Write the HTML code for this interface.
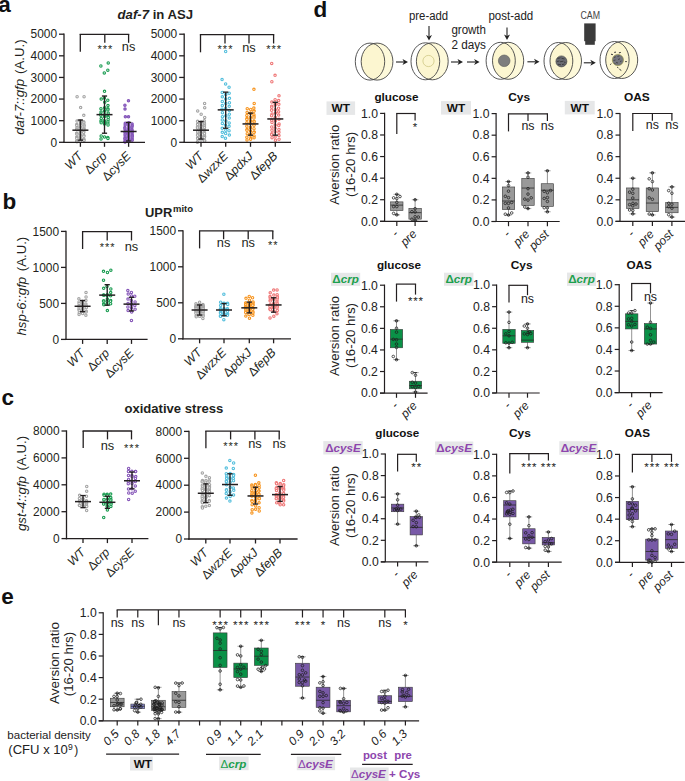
<!DOCTYPE html>
<html><head><meta charset="utf-8"><title>figure</title>
<style>html,body{margin:0;padding:0;background:#fff;width:685px;height:781px;overflow:hidden}
svg{display:block;font-family:"Liberation Sans", sans-serif}</style></head>
<body>
<svg width="685" height="781" viewBox="0 0 685 781" font-family='"Liberation Sans", sans-serif' fill="#231f20">
<rect width="685" height="781" fill="#fff"/>
<text x="-1.8" y="11.6" font-size="22.5" font-weight="bold" fill="#111" >a</text>
<text x="2.6" y="209" font-size="22.5" font-weight="bold" fill="#111" >b</text>
<text x="1.6" y="404.7" font-size="22.5" font-weight="bold" fill="#111" >c</text>
<text x="313.4" y="17.3" font-size="22.5" font-weight="bold" fill="#111" >d</text>
<text x="1.2" y="603.8" font-size="22.5" font-weight="bold" fill="#111" >e</text>
<text x="117.6" y="19.3" font-size="13" font-weight="bold" textLength="75.5" lengthAdjust="spacingAndGlyphs" ><tspan font-style="italic">daf-7</tspan> in ASJ</text>
<text x="24" y="87.1" font-size="13.2" text-anchor="middle" transform="rotate(-90 24 87.1)" ><tspan font-style="italic">daf-7::gfp</tspan><tspan dx="1.5"> (A.U.)</tspan></text>
<line x1="64" y1="142.95" x2="64" y2="33.55" stroke="#231f20" stroke-width="1.3" />
<line x1="59" y1="142.3" x2="64" y2="142.3" stroke="#231f20" stroke-width="1.3" />
<text x="57" y="146.58" font-size="11.9" text-anchor="end" >0</text>
<line x1="59" y1="120.68" x2="64" y2="120.68" stroke="#231f20" stroke-width="1.3" />
<text x="57" y="124.96" font-size="11.9" text-anchor="end" >1000</text>
<line x1="59" y1="99.06" x2="64" y2="99.06" stroke="#231f20" stroke-width="1.3" />
<text x="57" y="103.34" font-size="11.9" text-anchor="end" >2000</text>
<line x1="59" y1="77.44" x2="64" y2="77.44" stroke="#231f20" stroke-width="1.3" />
<text x="57" y="81.72" font-size="11.9" text-anchor="end" >3000</text>
<line x1="59" y1="55.82" x2="64" y2="55.82" stroke="#231f20" stroke-width="1.3" />
<text x="57" y="60.1" font-size="11.9" text-anchor="end" >4000</text>
<line x1="59" y1="34.2" x2="64" y2="34.2" stroke="#231f20" stroke-width="1.3" />
<text x="57" y="38.48" font-size="11.9" text-anchor="end" >5000</text>
<circle cx="84.07" cy="96.75" r="1.2" fill="white" stroke="#a3a3a3" stroke-width="1.1"/>
<circle cx="77.09" cy="96.75" r="1.2" fill="white" stroke="#a3a3a3" stroke-width="1.1"/>
<circle cx="80.63" cy="107.56" r="1.2" fill="white" stroke="#a3a3a3" stroke-width="1.1"/>
<circle cx="83.78" cy="115.28" r="1.2" fill="white" stroke="#a3a3a3" stroke-width="1.1"/>
<circle cx="80.36" cy="120.68" r="1.2" fill="white" stroke="#a3a3a3" stroke-width="1.1"/>
<circle cx="77.04" cy="121.11" r="1.2" fill="white" stroke="#a3a3a3" stroke-width="1.1"/>
<circle cx="83.67" cy="121.76" r="1.2" fill="white" stroke="#a3a3a3" stroke-width="1.1"/>
<circle cx="83.9" cy="122.84" r="1.2" fill="white" stroke="#a3a3a3" stroke-width="1.1"/>
<circle cx="80.5" cy="123.27" r="1.2" fill="white" stroke="#a3a3a3" stroke-width="1.1"/>
<circle cx="80.5" cy="123.92" r="1.2" fill="white" stroke="#a3a3a3" stroke-width="1.1"/>
<circle cx="76.68" cy="124.57" r="1.2" fill="white" stroke="#a3a3a3" stroke-width="1.1"/>
<circle cx="83.99" cy="125" r="1.2" fill="white" stroke="#a3a3a3" stroke-width="1.1"/>
<circle cx="76.81" cy="125.44" r="1.2" fill="white" stroke="#a3a3a3" stroke-width="1.1"/>
<circle cx="84.08" cy="126.09" r="1.2" fill="white" stroke="#a3a3a3" stroke-width="1.1"/>
<circle cx="80.22" cy="126.73" r="1.2" fill="white" stroke="#a3a3a3" stroke-width="1.1"/>
<circle cx="80.59" cy="127.17" r="1.2" fill="white" stroke="#a3a3a3" stroke-width="1.1"/>
<circle cx="77.03" cy="127.6" r="1.2" fill="white" stroke="#a3a3a3" stroke-width="1.1"/>
<circle cx="84.03" cy="128.25" r="1.2" fill="white" stroke="#a3a3a3" stroke-width="1.1"/>
<circle cx="76.9" cy="128.9" r="1.2" fill="white" stroke="#a3a3a3" stroke-width="1.1"/>
<circle cx="83.8" cy="129.33" r="1.2" fill="white" stroke="#a3a3a3" stroke-width="1.1"/>
<circle cx="76.9" cy="129.76" r="1.2" fill="white" stroke="#a3a3a3" stroke-width="1.1"/>
<circle cx="80.59" cy="130.41" r="1.2" fill="white" stroke="#a3a3a3" stroke-width="1.1"/>
<circle cx="80.56" cy="131.06" r="1.2" fill="white" stroke="#a3a3a3" stroke-width="1.1"/>
<circle cx="83.84" cy="131.49" r="1.2" fill="white" stroke="#a3a3a3" stroke-width="1.1"/>
<circle cx="80.31" cy="131.92" r="1.2" fill="white" stroke="#a3a3a3" stroke-width="1.1"/>
<circle cx="83.65" cy="132.57" r="1.2" fill="white" stroke="#a3a3a3" stroke-width="1.1"/>
<circle cx="76.65" cy="133.22" r="1.2" fill="white" stroke="#a3a3a3" stroke-width="1.1"/>
<circle cx="76.81" cy="133.65" r="1.2" fill="white" stroke="#a3a3a3" stroke-width="1.1"/>
<circle cx="76.97" cy="134.08" r="1.2" fill="white" stroke="#a3a3a3" stroke-width="1.1"/>
<circle cx="80.53" cy="134.73" r="1.2" fill="white" stroke="#a3a3a3" stroke-width="1.1"/>
<circle cx="83.84" cy="135.38" r="1.2" fill="white" stroke="#a3a3a3" stroke-width="1.1"/>
<circle cx="80.24" cy="135.81" r="1.2" fill="white" stroke="#a3a3a3" stroke-width="1.1"/>
<circle cx="83.91" cy="136.25" r="1.2" fill="white" stroke="#a3a3a3" stroke-width="1.1"/>
<circle cx="76.77" cy="136.9" r="1.2" fill="white" stroke="#a3a3a3" stroke-width="1.1"/>
<circle cx="76.79" cy="137.54" r="1.2" fill="white" stroke="#a3a3a3" stroke-width="1.1"/>
<circle cx="80.37" cy="137.98" r="1.2" fill="white" stroke="#a3a3a3" stroke-width="1.1"/>
<circle cx="76.81" cy="138.41" r="1.2" fill="white" stroke="#a3a3a3" stroke-width="1.1"/>
<circle cx="83.78" cy="139.06" r="1.2" fill="white" stroke="#a3a3a3" stroke-width="1.1"/>
<circle cx="83.86" cy="139.71" r="1.2" fill="white" stroke="#a3a3a3" stroke-width="1.1"/>
<circle cx="80.62" cy="140.14" r="1.2" fill="white" stroke="#a3a3a3" stroke-width="1.1"/>
<circle cx="84.02" cy="140.57" r="1.2" fill="white" stroke="#a3a3a3" stroke-width="1.1"/>
<circle cx="76.7" cy="141" r="1.2" fill="white" stroke="#a3a3a3" stroke-width="1.1"/>
<circle cx="80.21" cy="141.44" r="1.2" fill="white" stroke="#a3a3a3" stroke-width="1.1"/>
<circle cx="76.97" cy="141.87" r="1.2" fill="white" stroke="#a3a3a3" stroke-width="1.1"/>
<line x1="80.4" y1="120.03" x2="80.4" y2="140.14" stroke="#231f20" stroke-width="1.35" />
<line x1="77.8" y1="120.03" x2="83" y2="120.03" stroke="#231f20" stroke-width="1.35" />
<line x1="77.8" y1="140.14" x2="83" y2="140.14" stroke="#231f20" stroke-width="1.35" />
<line x1="72.4" y1="130.19" x2="88.4" y2="130.19" stroke="#231f20" stroke-width="1.5" />
<circle cx="108.23" cy="62.93" r="1.2" fill="white" stroke="#179b4f" stroke-width="1.1"/>
<circle cx="100.88" cy="66.02" r="1.2" fill="white" stroke="#179b4f" stroke-width="1.1"/>
<circle cx="107.82" cy="70.13" r="1.2" fill="white" stroke="#179b4f" stroke-width="1.1"/>
<circle cx="104.28" cy="72.94" r="1.2" fill="white" stroke="#179b4f" stroke-width="1.1"/>
<circle cx="104.52" cy="91.34" r="1.2" fill="white" stroke="#179b4f" stroke-width="1.1"/>
<circle cx="104.37" cy="97.98" r="1.2" fill="white" stroke="#179b4f" stroke-width="1.1"/>
<circle cx="101.21" cy="99.06" r="1.2" fill="white" stroke="#179b4f" stroke-width="1.1"/>
<circle cx="107.8" cy="100.14" r="1.2" fill="white" stroke="#179b4f" stroke-width="1.1"/>
<circle cx="104.75" cy="102.15" r="1.2" fill="white" stroke="#179b4f" stroke-width="1.1"/>
<circle cx="107.97" cy="105.55" r="1.2" fill="white" stroke="#179b4f" stroke-width="1.1"/>
<circle cx="104.66" cy="107.71" r="1.2" fill="white" stroke="#179b4f" stroke-width="1.1"/>
<circle cx="100.96" cy="108.72" r="1.2" fill="white" stroke="#179b4f" stroke-width="1.1"/>
<circle cx="107.88" cy="108.79" r="1.2" fill="white" stroke="#179b4f" stroke-width="1.1"/>
<circle cx="107.94" cy="109.87" r="1.2" fill="white" stroke="#179b4f" stroke-width="1.1"/>
<circle cx="104.61" cy="110.95" r="1.2" fill="white" stroke="#179b4f" stroke-width="1.1"/>
<circle cx="104.56" cy="111.12" r="1.2" fill="white" stroke="#179b4f" stroke-width="1.1"/>
<circle cx="101.03" cy="112.03" r="1.2" fill="white" stroke="#179b4f" stroke-width="1.1"/>
<circle cx="108.2" cy="113.11" r="1.2" fill="white" stroke="#179b4f" stroke-width="1.1"/>
<circle cx="100.75" cy="114.19" r="1.2" fill="white" stroke="#179b4f" stroke-width="1.1"/>
<circle cx="104.67" cy="114.63" r="1.2" fill="white" stroke="#179b4f" stroke-width="1.1"/>
<circle cx="100.86" cy="115.28" r="1.2" fill="white" stroke="#179b4f" stroke-width="1.1"/>
<circle cx="107.9" cy="116.36" r="1.2" fill="white" stroke="#179b4f" stroke-width="1.1"/>
<circle cx="104.53" cy="116.57" r="1.2" fill="white" stroke="#179b4f" stroke-width="1.1"/>
<circle cx="108.25" cy="117.44" r="1.2" fill="white" stroke="#179b4f" stroke-width="1.1"/>
<circle cx="101.23" cy="118.52" r="1.2" fill="white" stroke="#179b4f" stroke-width="1.1"/>
<circle cx="108.09" cy="119.69" r="1.2" fill="white" stroke="#179b4f" stroke-width="1.1"/>
<circle cx="104.28" cy="120.68" r="1.2" fill="white" stroke="#179b4f" stroke-width="1.1"/>
<circle cx="100.96" cy="121.11" r="1.2" fill="white" stroke="#179b4f" stroke-width="1.1"/>
<circle cx="107.91" cy="121.76" r="1.2" fill="white" stroke="#179b4f" stroke-width="1.1"/>
<circle cx="104.42" cy="122.19" r="1.2" fill="white" stroke="#179b4f" stroke-width="1.1"/>
<circle cx="101.17" cy="122.84" r="1.2" fill="white" stroke="#179b4f" stroke-width="1.1"/>
<circle cx="107.83" cy="123.27" r="1.2" fill="white" stroke="#179b4f" stroke-width="1.1"/>
<circle cx="104.47" cy="123.92" r="1.2" fill="white" stroke="#179b4f" stroke-width="1.1"/>
<circle cx="108.04" cy="125" r="1.2" fill="white" stroke="#179b4f" stroke-width="1.1"/>
<circle cx="101.17" cy="136.01" r="1.2" fill="white" stroke="#179b4f" stroke-width="1.1"/>
<circle cx="104.55" cy="136.9" r="1.2" fill="white" stroke="#179b4f" stroke-width="1.1"/>
<circle cx="107.77" cy="137.5" r="1.2" fill="white" stroke="#179b4f" stroke-width="1.1"/>
<circle cx="107.94" cy="138.41" r="1.2" fill="white" stroke="#179b4f" stroke-width="1.1"/>
<circle cx="101.03" cy="138.99" r="1.2" fill="white" stroke="#179b4f" stroke-width="1.1"/>
<line x1="104.5" y1="96.03" x2="104.5" y2="133.22" stroke="#231f20" stroke-width="1.35" />
<line x1="101.9" y1="96.03" x2="107.1" y2="96.03" stroke="#231f20" stroke-width="1.35" />
<line x1="101.9" y1="133.22" x2="107.1" y2="133.22" stroke="#231f20" stroke-width="1.35" />
<line x1="96.5" y1="114.63" x2="112.5" y2="114.63" stroke="#231f20" stroke-width="1.5" />
<circle cx="128.46" cy="100.66" r="1.2" fill="#9b7fd0" stroke="#8555b8" stroke-width="1.1"/>
<circle cx="124.92" cy="105.26" r="1.2" fill="#9b7fd0" stroke="#8555b8" stroke-width="1.1"/>
<circle cx="125.01" cy="109.07" r="1.2" fill="#9b7fd0" stroke="#8555b8" stroke-width="1.1"/>
<circle cx="128.5" cy="116.79" r="1.2" fill="#9b7fd0" stroke="#8555b8" stroke-width="1.1"/>
<circle cx="125.34" cy="116.79" r="1.2" fill="#9b7fd0" stroke="#8555b8" stroke-width="1.1"/>
<circle cx="128.68" cy="122.84" r="1.2" fill="#9b7fd0" stroke="#8555b8" stroke-width="1.1"/>
<circle cx="125.28" cy="123.27" r="1.2" fill="#9b7fd0" stroke="#8555b8" stroke-width="1.1"/>
<circle cx="132.09" cy="123.92" r="1.2" fill="#9b7fd0" stroke="#8555b8" stroke-width="1.1"/>
<circle cx="128.4" cy="124.57" r="1.2" fill="#9b7fd0" stroke="#8555b8" stroke-width="1.1"/>
<circle cx="125.16" cy="125" r="1.2" fill="#9b7fd0" stroke="#8555b8" stroke-width="1.1"/>
<circle cx="132.22" cy="125.87" r="1.2" fill="#9b7fd0" stroke="#8555b8" stroke-width="1.1"/>
<circle cx="128.84" cy="126.3" r="1.2" fill="#9b7fd0" stroke="#8555b8" stroke-width="1.1"/>
<circle cx="131.85" cy="127.17" r="1.2" fill="#9b7fd0" stroke="#8555b8" stroke-width="1.1"/>
<circle cx="124.87" cy="127.6" r="1.2" fill="#9b7fd0" stroke="#8555b8" stroke-width="1.1"/>
<circle cx="128.74" cy="128.25" r="1.2" fill="#9b7fd0" stroke="#8555b8" stroke-width="1.1"/>
<circle cx="124.97" cy="128.9" r="1.2" fill="#9b7fd0" stroke="#8555b8" stroke-width="1.1"/>
<circle cx="131.86" cy="129.33" r="1.2" fill="#9b7fd0" stroke="#8555b8" stroke-width="1.1"/>
<circle cx="128.39" cy="129.76" r="1.2" fill="#9b7fd0" stroke="#8555b8" stroke-width="1.1"/>
<circle cx="128.75" cy="130.19" r="1.2" fill="#9b7fd0" stroke="#8555b8" stroke-width="1.1"/>
<circle cx="132.12" cy="130.63" r="1.2" fill="#9b7fd0" stroke="#8555b8" stroke-width="1.1"/>
<circle cx="125.31" cy="131.06" r="1.2" fill="#9b7fd0" stroke="#8555b8" stroke-width="1.1"/>
<circle cx="128.74" cy="131.49" r="1.2" fill="#9b7fd0" stroke="#8555b8" stroke-width="1.1"/>
<circle cx="132.09" cy="131.92" r="1.2" fill="#9b7fd0" stroke="#8555b8" stroke-width="1.1"/>
<circle cx="125.02" cy="132.35" r="1.2" fill="#9b7fd0" stroke="#8555b8" stroke-width="1.1"/>
<circle cx="132.02" cy="132.79" r="1.2" fill="#9b7fd0" stroke="#8555b8" stroke-width="1.1"/>
<circle cx="128.43" cy="133.22" r="1.2" fill="#9b7fd0" stroke="#8555b8" stroke-width="1.1"/>
<circle cx="125.31" cy="133.65" r="1.2" fill="#9b7fd0" stroke="#8555b8" stroke-width="1.1"/>
<circle cx="128.55" cy="134.08" r="1.2" fill="#9b7fd0" stroke="#8555b8" stroke-width="1.1"/>
<circle cx="132.09" cy="134.52" r="1.2" fill="#9b7fd0" stroke="#8555b8" stroke-width="1.1"/>
<circle cx="125.05" cy="134.95" r="1.2" fill="#9b7fd0" stroke="#8555b8" stroke-width="1.1"/>
<circle cx="128.62" cy="135.38" r="1.2" fill="#9b7fd0" stroke="#8555b8" stroke-width="1.1"/>
<circle cx="132.28" cy="135.81" r="1.2" fill="#9b7fd0" stroke="#8555b8" stroke-width="1.1"/>
<circle cx="132.17" cy="136.25" r="1.2" fill="#9b7fd0" stroke="#8555b8" stroke-width="1.1"/>
<circle cx="128.6" cy="136.68" r="1.2" fill="#9b7fd0" stroke="#8555b8" stroke-width="1.1"/>
<circle cx="125.19" cy="137.11" r="1.2" fill="#9b7fd0" stroke="#8555b8" stroke-width="1.1"/>
<circle cx="128.73" cy="137.54" r="1.2" fill="#9b7fd0" stroke="#8555b8" stroke-width="1.1"/>
<circle cx="132.15" cy="137.98" r="1.2" fill="#9b7fd0" stroke="#8555b8" stroke-width="1.1"/>
<circle cx="125.12" cy="138.41" r="1.2" fill="#9b7fd0" stroke="#8555b8" stroke-width="1.1"/>
<circle cx="124.95" cy="138.84" r="1.2" fill="#9b7fd0" stroke="#8555b8" stroke-width="1.1"/>
<circle cx="131.93" cy="139.27" r="1.2" fill="#9b7fd0" stroke="#8555b8" stroke-width="1.1"/>
<circle cx="128.68" cy="139.71" r="1.2" fill="#9b7fd0" stroke="#8555b8" stroke-width="1.1"/>
<circle cx="132.21" cy="140.14" r="1.2" fill="#9b7fd0" stroke="#8555b8" stroke-width="1.1"/>
<circle cx="125.27" cy="140.57" r="1.2" fill="#9b7fd0" stroke="#8555b8" stroke-width="1.1"/>
<circle cx="128.48" cy="141" r="1.2" fill="#9b7fd0" stroke="#8555b8" stroke-width="1.1"/>
<circle cx="128.56" cy="141.44" r="1.2" fill="#9b7fd0" stroke="#8555b8" stroke-width="1.1"/>
<circle cx="124.85" cy="141.87" r="1.2" fill="#9b7fd0" stroke="#8555b8" stroke-width="1.1"/>
<circle cx="125.14" cy="142.08" r="1.2" fill="#9b7fd0" stroke="#8555b8" stroke-width="1.1"/>
<line x1="128.6" y1="122.41" x2="128.6" y2="141" stroke="#231f20" stroke-width="1.35" />
<line x1="126" y1="122.41" x2="131.2" y2="122.41" stroke="#231f20" stroke-width="1.35" />
<line x1="126" y1="141" x2="131.2" y2="141" stroke="#231f20" stroke-width="1.35" />
<line x1="120.6" y1="131.49" x2="136.6" y2="131.49" stroke="#231f20" stroke-width="1.5" />
<line x1="63.35" y1="142.3" x2="145" y2="142.3" stroke="#231f20" stroke-width="1.3" />
<line x1="80.4" y1="142.3" x2="80.4" y2="146.8" stroke="#231f20" stroke-width="1.3" />
<line x1="104.5" y1="142.3" x2="104.5" y2="146.8" stroke="#231f20" stroke-width="1.3" />
<line x1="128.6" y1="142.3" x2="128.6" y2="146.8" stroke="#231f20" stroke-width="1.3" />
<line x1="79.65" y1="34.3" x2="129.25" y2="34.3" stroke="#231f20" stroke-width="1.3" />
<line x1="80.3" y1="34.3" x2="80.3" y2="51.7" stroke="#231f20" stroke-width="1.3" />
<line x1="104.8" y1="34.3" x2="104.8" y2="42.8" stroke="#231f20" stroke-width="1.3" />
<line x1="128.6" y1="34.3" x2="128.6" y2="42.8" stroke="#231f20" stroke-width="1.3" />
<text x="105.3" y="53.49" font-size="11" text-anchor="middle" letter-spacing="1.0">***</text>
<text x="128.6" y="51.3" font-size="12.8" text-anchor="middle" >ns</text>
<text x="83.4" y="156.8" font-size="12.3" font-style="italic" text-anchor="end" transform="rotate(-45 83.4 156.8)" >WT</text>
<text x="107.5" y="156.8" font-size="12.3" font-style="italic" text-anchor="end" transform="rotate(-45 107.5 156.8)" ><tspan font-style="normal">Δ</tspan>crp</text>
<text x="131.6" y="156.8" font-size="12.3" font-style="italic" text-anchor="end" transform="rotate(-45 131.6 156.8)" ><tspan font-style="normal">Δ</tspan>cysE</text>
<line x1="184.2" y1="142.95" x2="184.2" y2="33.55" stroke="#231f20" stroke-width="1.3" />
<line x1="179.2" y1="142.3" x2="184.2" y2="142.3" stroke="#231f20" stroke-width="1.3" />
<text x="177.2" y="146.58" font-size="11.9" text-anchor="end" >0</text>
<line x1="179.2" y1="120.68" x2="184.2" y2="120.68" stroke="#231f20" stroke-width="1.3" />
<text x="177.2" y="124.96" font-size="11.9" text-anchor="end" >1000</text>
<line x1="179.2" y1="99.06" x2="184.2" y2="99.06" stroke="#231f20" stroke-width="1.3" />
<text x="177.2" y="103.34" font-size="11.9" text-anchor="end" >2000</text>
<line x1="179.2" y1="77.44" x2="184.2" y2="77.44" stroke="#231f20" stroke-width="1.3" />
<text x="177.2" y="81.72" font-size="11.9" text-anchor="end" >3000</text>
<line x1="179.2" y1="55.82" x2="184.2" y2="55.82" stroke="#231f20" stroke-width="1.3" />
<text x="177.2" y="60.1" font-size="11.9" text-anchor="end" >4000</text>
<line x1="179.2" y1="34.2" x2="184.2" y2="34.2" stroke="#231f20" stroke-width="1.3" />
<text x="177.2" y="38.48" font-size="11.9" text-anchor="end" >5000</text>
<circle cx="204.62" cy="103.38" r="1.2" fill="white" stroke="#a3a3a3" stroke-width="1.1"/>
<circle cx="204.72" cy="107.71" r="1.2" fill="white" stroke="#a3a3a3" stroke-width="1.1"/>
<circle cx="197.71" cy="110.95" r="1.2" fill="white" stroke="#a3a3a3" stroke-width="1.1"/>
<circle cx="201.16" cy="114.19" r="1.2" fill="white" stroke="#a3a3a3" stroke-width="1.1"/>
<circle cx="204.7" cy="117.44" r="1.2" fill="white" stroke="#a3a3a3" stroke-width="1.1"/>
<circle cx="204.34" cy="120.8" r="1.2" fill="white" stroke="#a3a3a3" stroke-width="1.1"/>
<circle cx="197.58" cy="121.33" r="1.2" fill="white" stroke="#a3a3a3" stroke-width="1.1"/>
<circle cx="201.19" cy="122" r="1.2" fill="white" stroke="#a3a3a3" stroke-width="1.1"/>
<circle cx="204.29" cy="122.39" r="1.2" fill="white" stroke="#a3a3a3" stroke-width="1.1"/>
<circle cx="200.88" cy="123.2" r="1.2" fill="white" stroke="#a3a3a3" stroke-width="1.1"/>
<circle cx="197.73" cy="123.63" r="1.2" fill="white" stroke="#a3a3a3" stroke-width="1.1"/>
<circle cx="204.49" cy="124.04" r="1.2" fill="white" stroke="#a3a3a3" stroke-width="1.1"/>
<circle cx="197.58" cy="124.55" r="1.2" fill="white" stroke="#a3a3a3" stroke-width="1.1"/>
<circle cx="201.19" cy="125.45" r="1.2" fill="white" stroke="#a3a3a3" stroke-width="1.1"/>
<circle cx="204.41" cy="125.83" r="1.2" fill="white" stroke="#a3a3a3" stroke-width="1.1"/>
<circle cx="200.97" cy="126.49" r="1.2" fill="white" stroke="#a3a3a3" stroke-width="1.1"/>
<circle cx="197.46" cy="126.89" r="1.2" fill="white" stroke="#a3a3a3" stroke-width="1.1"/>
<circle cx="204.47" cy="127.36" r="1.2" fill="white" stroke="#a3a3a3" stroke-width="1.1"/>
<circle cx="197.53" cy="127.93" r="1.2" fill="white" stroke="#a3a3a3" stroke-width="1.1"/>
<circle cx="201.08" cy="128.7" r="1.2" fill="white" stroke="#a3a3a3" stroke-width="1.1"/>
<circle cx="200.76" cy="128.89" r="1.2" fill="white" stroke="#a3a3a3" stroke-width="1.1"/>
<circle cx="204.47" cy="129.44" r="1.2" fill="white" stroke="#a3a3a3" stroke-width="1.1"/>
<circle cx="200.98" cy="130.04" r="1.2" fill="white" stroke="#a3a3a3" stroke-width="1.1"/>
<circle cx="204.27" cy="130.62" r="1.2" fill="white" stroke="#a3a3a3" stroke-width="1.1"/>
<circle cx="197.72" cy="131.3" r="1.2" fill="white" stroke="#a3a3a3" stroke-width="1.1"/>
<circle cx="197.7" cy="131.89" r="1.2" fill="white" stroke="#a3a3a3" stroke-width="1.1"/>
<circle cx="200.89" cy="132.17" r="1.2" fill="white" stroke="#a3a3a3" stroke-width="1.1"/>
<circle cx="204.45" cy="132.71" r="1.2" fill="white" stroke="#a3a3a3" stroke-width="1.1"/>
<circle cx="200.92" cy="133.24" r="1.2" fill="white" stroke="#a3a3a3" stroke-width="1.1"/>
<circle cx="204.49" cy="133.74" r="1.2" fill="white" stroke="#a3a3a3" stroke-width="1.1"/>
<circle cx="197.62" cy="134.59" r="1.2" fill="white" stroke="#a3a3a3" stroke-width="1.1"/>
<circle cx="197.56" cy="135.17" r="1.2" fill="white" stroke="#a3a3a3" stroke-width="1.1"/>
<circle cx="200.76" cy="135.69" r="1.2" fill="white" stroke="#a3a3a3" stroke-width="1.1"/>
<circle cx="204.62" cy="136.18" r="1.2" fill="white" stroke="#a3a3a3" stroke-width="1.1"/>
<circle cx="201.06" cy="136.61" r="1.2" fill="white" stroke="#a3a3a3" stroke-width="1.1"/>
<circle cx="204.44" cy="137.29" r="1.2" fill="white" stroke="#a3a3a3" stroke-width="1.1"/>
<circle cx="204.26" cy="137.59" r="1.2" fill="white" stroke="#a3a3a3" stroke-width="1.1"/>
<circle cx="197.61" cy="138.12" r="1.2" fill="white" stroke="#a3a3a3" stroke-width="1.1"/>
<circle cx="197.69" cy="138.61" r="1.2" fill="white" stroke="#a3a3a3" stroke-width="1.1"/>
<circle cx="201.05" cy="139.37" r="1.2" fill="white" stroke="#a3a3a3" stroke-width="1.1"/>
<circle cx="201" cy="140.06" r="1.2" fill="white" stroke="#a3a3a3" stroke-width="1.1"/>
<circle cx="204.58" cy="140.56" r="1.2" fill="white" stroke="#a3a3a3" stroke-width="1.1"/>
<circle cx="204.66" cy="140.99" r="1.2" fill="white" stroke="#a3a3a3" stroke-width="1.1"/>
<circle cx="197.54" cy="141.66" r="1.2" fill="white" stroke="#a3a3a3" stroke-width="1.1"/>
<circle cx="197.44" cy="142.14" r="1.2" fill="white" stroke="#a3a3a3" stroke-width="1.1"/>
<line x1="201" y1="121.54" x2="201" y2="139.06" stroke="#231f20" stroke-width="1.35" />
<line x1="198.4" y1="121.54" x2="203.6" y2="121.54" stroke="#231f20" stroke-width="1.35" />
<line x1="198.4" y1="139.06" x2="203.6" y2="139.06" stroke="#231f20" stroke-width="1.35" />
<line x1="193" y1="130.19" x2="209" y2="130.19" stroke="#231f20" stroke-width="1.5" />
<circle cx="225.67" cy="51.5" r="1.2" fill="white" stroke="#52bedc" stroke-width="1.1"/>
<circle cx="222.06" cy="79.6" r="1.2" fill="white" stroke="#52bedc" stroke-width="1.1"/>
<circle cx="225.63" cy="83.93" r="1.2" fill="white" stroke="#52bedc" stroke-width="1.1"/>
<circle cx="229.07" cy="87.17" r="1.2" fill="white" stroke="#52bedc" stroke-width="1.1"/>
<circle cx="222.24" cy="92.46" r="1.2" fill="white" stroke="#52bedc" stroke-width="1.1"/>
<circle cx="229.16" cy="93.23" r="1.2" fill="white" stroke="#52bedc" stroke-width="1.1"/>
<circle cx="225.75" cy="94.54" r="1.2" fill="white" stroke="#52bedc" stroke-width="1.1"/>
<circle cx="222.32" cy="96.87" r="1.2" fill="white" stroke="#52bedc" stroke-width="1.1"/>
<circle cx="229.44" cy="98.31" r="1.2" fill="white" stroke="#52bedc" stroke-width="1.1"/>
<circle cx="225.65" cy="98.99" r="1.2" fill="white" stroke="#52bedc" stroke-width="1.1"/>
<circle cx="222.3" cy="101.44" r="1.2" fill="white" stroke="#52bedc" stroke-width="1.1"/>
<circle cx="229.42" cy="102.73" r="1.2" fill="white" stroke="#52bedc" stroke-width="1.1"/>
<circle cx="225.76" cy="103.61" r="1.2" fill="white" stroke="#52bedc" stroke-width="1.1"/>
<circle cx="222.3" cy="105.6" r="1.2" fill="white" stroke="#52bedc" stroke-width="1.1"/>
<circle cx="229.22" cy="106.28" r="1.2" fill="white" stroke="#52bedc" stroke-width="1.1"/>
<circle cx="225.61" cy="108.46" r="1.2" fill="white" stroke="#52bedc" stroke-width="1.1"/>
<circle cx="221.99" cy="109.2" r="1.2" fill="white" stroke="#52bedc" stroke-width="1.1"/>
<circle cx="229.38" cy="110.47" r="1.2" fill="white" stroke="#52bedc" stroke-width="1.1"/>
<circle cx="222.44" cy="112.65" r="1.2" fill="white" stroke="#52bedc" stroke-width="1.1"/>
<circle cx="229.32" cy="114.16" r="1.2" fill="white" stroke="#52bedc" stroke-width="1.1"/>
<circle cx="225.87" cy="115.84" r="1.2" fill="white" stroke="#52bedc" stroke-width="1.1"/>
<circle cx="222.43" cy="116.63" r="1.2" fill="white" stroke="#52bedc" stroke-width="1.1"/>
<circle cx="229.23" cy="118.11" r="1.2" fill="white" stroke="#52bedc" stroke-width="1.1"/>
<circle cx="222.34" cy="119.89" r="1.2" fill="white" stroke="#52bedc" stroke-width="1.1"/>
<circle cx="225.91" cy="121.08" r="1.2" fill="white" stroke="#52bedc" stroke-width="1.1"/>
<circle cx="229.19" cy="122.93" r="1.2" fill="white" stroke="#52bedc" stroke-width="1.1"/>
<circle cx="222.36" cy="123.46" r="1.2" fill="white" stroke="#52bedc" stroke-width="1.1"/>
<circle cx="225.46" cy="125.19" r="1.2" fill="white" stroke="#52bedc" stroke-width="1.1"/>
<circle cx="229.08" cy="126.29" r="1.2" fill="white" stroke="#52bedc" stroke-width="1.1"/>
<circle cx="222.22" cy="128.29" r="1.2" fill="white" stroke="#52bedc" stroke-width="1.1"/>
<circle cx="225.78" cy="130.23" r="1.2" fill="white" stroke="#52bedc" stroke-width="1.1"/>
<circle cx="229.03" cy="130.64" r="1.2" fill="white" stroke="#52bedc" stroke-width="1.1"/>
<circle cx="222.31" cy="132.29" r="1.2" fill="white" stroke="#52bedc" stroke-width="1.1"/>
<circle cx="225.63" cy="133.5" r="1.2" fill="white" stroke="#52bedc" stroke-width="1.1"/>
<circle cx="229.32" cy="135.11" r="1.2" fill="white" stroke="#52bedc" stroke-width="1.1"/>
<circle cx="222.21" cy="136.62" r="1.2" fill="white" stroke="#52bedc" stroke-width="1.1"/>
<circle cx="225.45" cy="138.19" r="1.2" fill="white" stroke="#52bedc" stroke-width="1.1"/>
<line x1="225.7" y1="92.14" x2="225.7" y2="128.25" stroke="#231f20" stroke-width="1.35" />
<line x1="223.1" y1="92.14" x2="228.3" y2="92.14" stroke="#231f20" stroke-width="1.35" />
<line x1="223.1" y1="128.25" x2="228.3" y2="128.25" stroke="#231f20" stroke-width="1.35" />
<line x1="217.7" y1="109.87" x2="233.7" y2="109.87" stroke="#231f20" stroke-width="1.5" />
<circle cx="253.93" cy="89.33" r="1.2" fill="white" stroke="#f7941e" stroke-width="1.1"/>
<circle cx="254.19" cy="103.38" r="1.2" fill="white" stroke="#f7941e" stroke-width="1.1"/>
<circle cx="253.84" cy="108.11" r="1.2" fill="white" stroke="#f7941e" stroke-width="1.1"/>
<circle cx="247.24" cy="108.67" r="1.2" fill="white" stroke="#f7941e" stroke-width="1.1"/>
<circle cx="250.69" cy="109.48" r="1.2" fill="white" stroke="#f7941e" stroke-width="1.1"/>
<circle cx="253.96" cy="110.68" r="1.2" fill="white" stroke="#f7941e" stroke-width="1.1"/>
<circle cx="253.93" cy="111.3" r="1.2" fill="white" stroke="#f7941e" stroke-width="1.1"/>
<circle cx="247.1" cy="112.42" r="1.2" fill="white" stroke="#f7941e" stroke-width="1.1"/>
<circle cx="250.58" cy="112.99" r="1.2" fill="white" stroke="#f7941e" stroke-width="1.1"/>
<circle cx="250.51" cy="113.57" r="1.2" fill="white" stroke="#f7941e" stroke-width="1.1"/>
<circle cx="253.92" cy="114.83" r="1.2" fill="white" stroke="#f7941e" stroke-width="1.1"/>
<circle cx="246.85" cy="115.42" r="1.2" fill="white" stroke="#f7941e" stroke-width="1.1"/>
<circle cx="253.99" cy="116.53" r="1.2" fill="white" stroke="#f7941e" stroke-width="1.1"/>
<circle cx="250.4" cy="117.42" r="1.2" fill="white" stroke="#f7941e" stroke-width="1.1"/>
<circle cx="253.94" cy="118.01" r="1.2" fill="white" stroke="#f7941e" stroke-width="1.1"/>
<circle cx="246.94" cy="118.6" r="1.2" fill="white" stroke="#f7941e" stroke-width="1.1"/>
<circle cx="246.86" cy="119.42" r="1.2" fill="white" stroke="#f7941e" stroke-width="1.1"/>
<circle cx="250.43" cy="120.71" r="1.2" fill="white" stroke="#f7941e" stroke-width="1.1"/>
<circle cx="253.92" cy="121.37" r="1.2" fill="white" stroke="#f7941e" stroke-width="1.1"/>
<circle cx="254.18" cy="121.86" r="1.2" fill="white" stroke="#f7941e" stroke-width="1.1"/>
<circle cx="246.85" cy="122.78" r="1.2" fill="white" stroke="#f7941e" stroke-width="1.1"/>
<circle cx="250.27" cy="123.53" r="1.2" fill="white" stroke="#f7941e" stroke-width="1.1"/>
<circle cx="253.86" cy="124.7" r="1.2" fill="white" stroke="#f7941e" stroke-width="1.1"/>
<circle cx="254.02" cy="125.17" r="1.2" fill="white" stroke="#f7941e" stroke-width="1.1"/>
<circle cx="246.81" cy="126.16" r="1.2" fill="white" stroke="#f7941e" stroke-width="1.1"/>
<circle cx="250.41" cy="127.22" r="1.2" fill="white" stroke="#f7941e" stroke-width="1.1"/>
<circle cx="250.45" cy="127.72" r="1.2" fill="white" stroke="#f7941e" stroke-width="1.1"/>
<circle cx="254" cy="128.63" r="1.2" fill="white" stroke="#f7941e" stroke-width="1.1"/>
<circle cx="247.02" cy="129.54" r="1.2" fill="white" stroke="#f7941e" stroke-width="1.1"/>
<circle cx="246.95" cy="130.15" r="1.2" fill="white" stroke="#f7941e" stroke-width="1.1"/>
<circle cx="250.5" cy="130.92" r="1.2" fill="white" stroke="#f7941e" stroke-width="1.1"/>
<circle cx="254.24" cy="132.09" r="1.2" fill="white" stroke="#f7941e" stroke-width="1.1"/>
<circle cx="253.88" cy="132.59" r="1.2" fill="white" stroke="#f7941e" stroke-width="1.1"/>
<circle cx="247.23" cy="133.67" r="1.2" fill="white" stroke="#f7941e" stroke-width="1.1"/>
<circle cx="250.62" cy="134.24" r="1.2" fill="white" stroke="#f7941e" stroke-width="1.1"/>
<circle cx="250.49" cy="135.25" r="1.2" fill="white" stroke="#f7941e" stroke-width="1.1"/>
<circle cx="254.06" cy="135.94" r="1.2" fill="white" stroke="#f7941e" stroke-width="1.1"/>
<circle cx="246.86" cy="137.2" r="1.2" fill="white" stroke="#f7941e" stroke-width="1.1"/>
<circle cx="254.04" cy="137.85" r="1.2" fill="white" stroke="#f7941e" stroke-width="1.1"/>
<circle cx="250.71" cy="138.53" r="1.2" fill="white" stroke="#f7941e" stroke-width="1.1"/>
<circle cx="250.58" cy="139.13" r="1.2" fill="white" stroke="#f7941e" stroke-width="1.1"/>
<circle cx="247" cy="139.97" r="1.2" fill="white" stroke="#f7941e" stroke-width="1.1"/>
<line x1="250.5" y1="113.11" x2="250.5" y2="135.17" stroke="#231f20" stroke-width="1.35" />
<line x1="247.9" y1="113.11" x2="253.1" y2="113.11" stroke="#231f20" stroke-width="1.35" />
<line x1="247.9" y1="135.17" x2="253.1" y2="135.17" stroke="#231f20" stroke-width="1.35" />
<line x1="242.5" y1="123.92" x2="258.5" y2="123.92" stroke="#231f20" stroke-width="1.5" />
<circle cx="271.71" cy="63.39" r="1.2" fill="white" stroke="#ef7676" stroke-width="1.1"/>
<circle cx="275.06" cy="75.28" r="1.2" fill="white" stroke="#ef7676" stroke-width="1.1"/>
<circle cx="271.86" cy="81.76" r="1.2" fill="white" stroke="#ef7676" stroke-width="1.1"/>
<circle cx="278.98" cy="95.82" r="1.2" fill="white" stroke="#ef7676" stroke-width="1.1"/>
<circle cx="275.09" cy="99.67" r="1.2" fill="white" stroke="#ef7676" stroke-width="1.1"/>
<circle cx="278.63" cy="100.54" r="1.2" fill="white" stroke="#ef7676" stroke-width="1.1"/>
<circle cx="271.82" cy="102.05" r="1.2" fill="white" stroke="#ef7676" stroke-width="1.1"/>
<circle cx="275.19" cy="103.27" r="1.2" fill="white" stroke="#ef7676" stroke-width="1.1"/>
<circle cx="278.85" cy="104.36" r="1.2" fill="white" stroke="#ef7676" stroke-width="1.1"/>
<circle cx="275.22" cy="105.03" r="1.2" fill="white" stroke="#ef7676" stroke-width="1.1"/>
<circle cx="271.71" cy="106.27" r="1.2" fill="white" stroke="#ef7676" stroke-width="1.1"/>
<circle cx="271.72" cy="107.13" r="1.2" fill="white" stroke="#ef7676" stroke-width="1.1"/>
<circle cx="278.57" cy="108.27" r="1.2" fill="white" stroke="#ef7676" stroke-width="1.1"/>
<circle cx="275.28" cy="109.72" r="1.2" fill="white" stroke="#ef7676" stroke-width="1.1"/>
<circle cx="271.59" cy="110.25" r="1.2" fill="white" stroke="#ef7676" stroke-width="1.1"/>
<circle cx="278.59" cy="111.79" r="1.2" fill="white" stroke="#ef7676" stroke-width="1.1"/>
<circle cx="275.49" cy="113.05" r="1.2" fill="white" stroke="#ef7676" stroke-width="1.1"/>
<circle cx="272.04" cy="114.12" r="1.2" fill="white" stroke="#ef7676" stroke-width="1.1"/>
<circle cx="278.64" cy="115.08" r="1.2" fill="white" stroke="#ef7676" stroke-width="1.1"/>
<circle cx="271.58" cy="115.68" r="1.2" fill="white" stroke="#ef7676" stroke-width="1.1"/>
<circle cx="275.3" cy="117.48" r="1.2" fill="white" stroke="#ef7676" stroke-width="1.1"/>
<circle cx="275.38" cy="117.76" r="1.2" fill="white" stroke="#ef7676" stroke-width="1.1"/>
<circle cx="278.97" cy="119.36" r="1.2" fill="white" stroke="#ef7676" stroke-width="1.1"/>
<circle cx="271.72" cy="120.29" r="1.2" fill="white" stroke="#ef7676" stroke-width="1.1"/>
<circle cx="275.38" cy="121.06" r="1.2" fill="white" stroke="#ef7676" stroke-width="1.1"/>
<circle cx="271.98" cy="122.43" r="1.2" fill="white" stroke="#ef7676" stroke-width="1.1"/>
<circle cx="279.05" cy="123.88" r="1.2" fill="white" stroke="#ef7676" stroke-width="1.1"/>
<circle cx="275.17" cy="125.06" r="1.2" fill="white" stroke="#ef7676" stroke-width="1.1"/>
<circle cx="278.74" cy="125.54" r="1.2" fill="white" stroke="#ef7676" stroke-width="1.1"/>
<circle cx="271.74" cy="126.98" r="1.2" fill="white" stroke="#ef7676" stroke-width="1.1"/>
<circle cx="275.13" cy="128.37" r="1.2" fill="white" stroke="#ef7676" stroke-width="1.1"/>
<circle cx="278.92" cy="129.48" r="1.2" fill="white" stroke="#ef7676" stroke-width="1.1"/>
<circle cx="271.93" cy="130.25" r="1.2" fill="white" stroke="#ef7676" stroke-width="1.1"/>
<circle cx="275.14" cy="131.69" r="1.2" fill="white" stroke="#ef7676" stroke-width="1.1"/>
<circle cx="278.93" cy="132.37" r="1.2" fill="white" stroke="#ef7676" stroke-width="1.1"/>
<circle cx="271.82" cy="133.86" r="1.2" fill="white" stroke="#ef7676" stroke-width="1.1"/>
<circle cx="271.67" cy="134.68" r="1.2" fill="white" stroke="#ef7676" stroke-width="1.1"/>
<circle cx="278.96" cy="135.62" r="1.2" fill="white" stroke="#ef7676" stroke-width="1.1"/>
<circle cx="275.12" cy="137.12" r="1.2" fill="white" stroke="#ef7676" stroke-width="1.1"/>
<circle cx="272.02" cy="137.71" r="1.2" fill="white" stroke="#ef7676" stroke-width="1.1"/>
<circle cx="279.04" cy="139.24" r="1.2" fill="white" stroke="#ef7676" stroke-width="1.1"/>
<circle cx="275.43" cy="140.18" r="1.2" fill="white" stroke="#ef7676" stroke-width="1.1"/>
<line x1="275.3" y1="102.3" x2="275.3" y2="135.17" stroke="#231f20" stroke-width="1.35" />
<line x1="272.7" y1="102.3" x2="277.9" y2="102.3" stroke="#231f20" stroke-width="1.35" />
<line x1="272.7" y1="135.17" x2="277.9" y2="135.17" stroke="#231f20" stroke-width="1.35" />
<line x1="267.3" y1="118.95" x2="283.3" y2="118.95" stroke="#231f20" stroke-width="1.5" />
<line x1="183.55" y1="142.3" x2="291" y2="142.3" stroke="#231f20" stroke-width="1.3" />
<line x1="201" y1="142.3" x2="201" y2="146.8" stroke="#231f20" stroke-width="1.3" />
<line x1="225.7" y1="142.3" x2="225.7" y2="146.8" stroke="#231f20" stroke-width="1.3" />
<line x1="250.5" y1="142.3" x2="250.5" y2="146.8" stroke="#231f20" stroke-width="1.3" />
<line x1="275.3" y1="142.3" x2="275.3" y2="146.8" stroke="#231f20" stroke-width="1.3" />
<line x1="199.85" y1="34.6" x2="274.25" y2="34.6" stroke="#231f20" stroke-width="1.3" />
<line x1="200.5" y1="34.6" x2="200.5" y2="52.3" stroke="#231f20" stroke-width="1.3" />
<line x1="225" y1="34.6" x2="225" y2="43.5" stroke="#231f20" stroke-width="1.3" />
<line x1="249" y1="34.6" x2="249" y2="43.5" stroke="#231f20" stroke-width="1.3" />
<line x1="273.6" y1="34.6" x2="273.6" y2="43.5" stroke="#231f20" stroke-width="1.3" />
<text x="225.5" y="53.29" font-size="11" text-anchor="middle" letter-spacing="1.0">***</text>
<text x="249" y="51.7" font-size="12.8" text-anchor="middle" >ns</text>
<text x="274.1" y="53.29" font-size="11" text-anchor="middle" letter-spacing="1.0">***</text>
<text x="204" y="156.8" font-size="12.3" font-style="italic" text-anchor="end" transform="rotate(-45 204 156.8)" >WT</text>
<text x="228.7" y="156.8" font-size="12.3" font-style="italic" text-anchor="end" transform="rotate(-45 228.7 156.8)" ><tspan font-style="normal">Δ</tspan>wzxE</text>
<text x="253.5" y="156.8" font-size="12.3" font-style="italic" text-anchor="end" transform="rotate(-45 253.5 156.8)" ><tspan font-style="normal">Δ</tspan>pdxJ</text>
<text x="278.3" y="156.8" font-size="12.3" font-style="italic" text-anchor="end" transform="rotate(-45 278.3 156.8)" ><tspan font-style="normal">Δ</tspan>fepB</text>
<text x="145" y="217" font-size="13" font-weight="bold" textLength="27.3" lengthAdjust="spacingAndGlyphs" >UPR</text>
<text x="173" y="212" font-size="9.5" font-weight="bold" textLength="20" lengthAdjust="spacingAndGlyphs" >mito</text>
<text x="26" y="286.1" font-size="13.2" text-anchor="middle" transform="rotate(-90 26 286.1)" ><tspan font-style="italic">hsp-6::gfp</tspan><tspan dx="2"> (A.U.)</tspan></text>
<line x1="66" y1="340.05" x2="66" y2="230.75" stroke="#231f20" stroke-width="1.3" />
<line x1="61" y1="339.4" x2="66" y2="339.4" stroke="#231f20" stroke-width="1.3" />
<text x="59" y="343.68" font-size="11.9" text-anchor="end" >0</text>
<line x1="61" y1="303.4" x2="66" y2="303.4" stroke="#231f20" stroke-width="1.3" />
<text x="59" y="307.68" font-size="11.9" text-anchor="end" >500</text>
<line x1="61" y1="267.4" x2="66" y2="267.4" stroke="#231f20" stroke-width="1.3" />
<text x="59" y="271.68" font-size="11.9" text-anchor="end" >1000</text>
<line x1="61" y1="231.4" x2="66" y2="231.4" stroke="#231f20" stroke-width="1.3" />
<text x="59" y="235.68" font-size="11.9" text-anchor="end" >1500</text>
<circle cx="86.01" cy="292.38" r="1.2" fill="white" stroke="#a3a3a3" stroke-width="1.1"/>
<circle cx="86.05" cy="296.99" r="1.2" fill="white" stroke="#a3a3a3" stroke-width="1.1"/>
<circle cx="78.86" cy="298.79" r="1.2" fill="white" stroke="#a3a3a3" stroke-width="1.1"/>
<circle cx="85.91" cy="300.52" r="1.2" fill="white" stroke="#a3a3a3" stroke-width="1.1"/>
<circle cx="82.59" cy="301.24" r="1.2" fill="white" stroke="#a3a3a3" stroke-width="1.1"/>
<circle cx="79.06" cy="301.96" r="1.2" fill="white" stroke="#a3a3a3" stroke-width="1.1"/>
<circle cx="82.68" cy="303.04" r="1.2" fill="white" stroke="#a3a3a3" stroke-width="1.1"/>
<circle cx="79.13" cy="303.4" r="1.2" fill="white" stroke="#a3a3a3" stroke-width="1.1"/>
<circle cx="85.9" cy="304.12" r="1.2" fill="white" stroke="#a3a3a3" stroke-width="1.1"/>
<circle cx="82.77" cy="304.84" r="1.2" fill="white" stroke="#a3a3a3" stroke-width="1.1"/>
<circle cx="79.06" cy="305.56" r="1.2" fill="white" stroke="#a3a3a3" stroke-width="1.1"/>
<circle cx="86.09" cy="305.92" r="1.2" fill="white" stroke="#a3a3a3" stroke-width="1.1"/>
<circle cx="82.54" cy="306.28" r="1.2" fill="white" stroke="#a3a3a3" stroke-width="1.1"/>
<circle cx="79.03" cy="307" r="1.2" fill="white" stroke="#a3a3a3" stroke-width="1.1"/>
<circle cx="86.31" cy="307.72" r="1.2" fill="white" stroke="#a3a3a3" stroke-width="1.1"/>
<circle cx="82.83" cy="308.44" r="1.2" fill="white" stroke="#a3a3a3" stroke-width="1.1"/>
<circle cx="78.94" cy="309.16" r="1.2" fill="white" stroke="#a3a3a3" stroke-width="1.1"/>
<circle cx="82.81" cy="309.88" r="1.2" fill="white" stroke="#a3a3a3" stroke-width="1.1"/>
<circle cx="79.26" cy="310.6" r="1.2" fill="white" stroke="#a3a3a3" stroke-width="1.1"/>
<circle cx="86.26" cy="311.32" r="1.2" fill="white" stroke="#a3a3a3" stroke-width="1.1"/>
<circle cx="85.99" cy="312.04" r="1.2" fill="white" stroke="#a3a3a3" stroke-width="1.1"/>
<circle cx="79.3" cy="312.76" r="1.2" fill="white" stroke="#a3a3a3" stroke-width="1.1"/>
<circle cx="82.64" cy="313.48" r="1.2" fill="white" stroke="#a3a3a3" stroke-width="1.1"/>
<circle cx="79.08" cy="314.56" r="1.2" fill="white" stroke="#a3a3a3" stroke-width="1.1"/>
<circle cx="85.87" cy="315.21" r="1.2" fill="white" stroke="#a3a3a3" stroke-width="1.1"/>
<line x1="82.6" y1="300.52" x2="82.6" y2="311.68" stroke="#231f20" stroke-width="1.35" />
<line x1="80" y1="300.52" x2="85.2" y2="300.52" stroke="#231f20" stroke-width="1.35" />
<line x1="80" y1="311.68" x2="85.2" y2="311.68" stroke="#231f20" stroke-width="1.35" />
<line x1="74.6" y1="306.28" x2="90.6" y2="306.28" stroke="#231f20" stroke-width="1.5" />
<circle cx="110.84" cy="270.21" r="1.2" fill="white" stroke="#179b4f" stroke-width="1.1"/>
<circle cx="103.49" cy="271.36" r="1.2" fill="white" stroke="#179b4f" stroke-width="1.1"/>
<circle cx="107.44" cy="272.51" r="1.2" fill="white" stroke="#179b4f" stroke-width="1.1"/>
<circle cx="103.52" cy="280.14" r="1.2" fill="white" stroke="#179b4f" stroke-width="1.1"/>
<circle cx="107.02" cy="286.48" r="1.2" fill="white" stroke="#179b4f" stroke-width="1.1"/>
<circle cx="103.68" cy="288.28" r="1.2" fill="white" stroke="#179b4f" stroke-width="1.1"/>
<circle cx="110.83" cy="289" r="1.2" fill="white" stroke="#179b4f" stroke-width="1.1"/>
<circle cx="110.69" cy="292.6" r="1.2" fill="white" stroke="#179b4f" stroke-width="1.1"/>
<circle cx="107.3" cy="294.76" r="1.2" fill="white" stroke="#179b4f" stroke-width="1.1"/>
<circle cx="103.57" cy="295.12" r="1.2" fill="white" stroke="#179b4f" stroke-width="1.1"/>
<circle cx="103.88" cy="295.34" r="1.2" fill="white" stroke="#179b4f" stroke-width="1.1"/>
<circle cx="107.05" cy="295.48" r="1.2" fill="white" stroke="#179b4f" stroke-width="1.1"/>
<circle cx="110.66" cy="295.84" r="1.2" fill="white" stroke="#179b4f" stroke-width="1.1"/>
<circle cx="107.35" cy="299.08" r="1.2" fill="white" stroke="#179b4f" stroke-width="1.1"/>
<circle cx="110.65" cy="300.52" r="1.2" fill="white" stroke="#179b4f" stroke-width="1.1"/>
<circle cx="103.48" cy="300.88" r="1.2" fill="white" stroke="#179b4f" stroke-width="1.1"/>
<circle cx="103.81" cy="301.1" r="1.2" fill="white" stroke="#179b4f" stroke-width="1.1"/>
<circle cx="110.49" cy="301.24" r="1.2" fill="white" stroke="#179b4f" stroke-width="1.1"/>
<circle cx="107.16" cy="301.6" r="1.2" fill="white" stroke="#179b4f" stroke-width="1.1"/>
<circle cx="110.62" cy="303.76" r="1.2" fill="white" stroke="#179b4f" stroke-width="1.1"/>
<circle cx="103.69" cy="304.05" r="1.2" fill="white" stroke="#179b4f" stroke-width="1.1"/>
<circle cx="107.02" cy="304.26" r="1.2" fill="white" stroke="#179b4f" stroke-width="1.1"/>
<circle cx="103.91" cy="304.84" r="1.2" fill="white" stroke="#179b4f" stroke-width="1.1"/>
<circle cx="107.36" cy="310.53" r="1.2" fill="white" stroke="#179b4f" stroke-width="1.1"/>
<line x1="107.2" y1="284.68" x2="107.2" y2="305.2" stroke="#231f20" stroke-width="1.35" />
<line x1="104.6" y1="284.68" x2="109.8" y2="284.68" stroke="#231f20" stroke-width="1.35" />
<line x1="104.6" y1="305.2" x2="109.8" y2="305.2" stroke="#231f20" stroke-width="1.35" />
<line x1="99.2" y1="295.12" x2="115.2" y2="295.12" stroke="#231f20" stroke-width="1.5" />
<circle cx="127.83" cy="290.58" r="1.2" fill="white" stroke="#8555b8" stroke-width="1.1"/>
<circle cx="131.4" cy="292.38" r="1.2" fill="white" stroke="#8555b8" stroke-width="1.1"/>
<circle cx="128.22" cy="294.04" r="1.2" fill="white" stroke="#8555b8" stroke-width="1.1"/>
<circle cx="131.56" cy="295.91" r="1.2" fill="white" stroke="#8555b8" stroke-width="1.1"/>
<circle cx="134.76" cy="296.2" r="1.2" fill="white" stroke="#8555b8" stroke-width="1.1"/>
<circle cx="128" cy="299.08" r="1.2" fill="white" stroke="#8555b8" stroke-width="1.1"/>
<circle cx="131.3" cy="300.52" r="1.2" fill="white" stroke="#8555b8" stroke-width="1.1"/>
<circle cx="135.07" cy="301.96" r="1.2" fill="white" stroke="#8555b8" stroke-width="1.1"/>
<circle cx="128.02" cy="303.4" r="1.2" fill="white" stroke="#8555b8" stroke-width="1.1"/>
<circle cx="131.5" cy="303.76" r="1.2" fill="white" stroke="#8555b8" stroke-width="1.1"/>
<circle cx="131.28" cy="304.84" r="1.2" fill="white" stroke="#8555b8" stroke-width="1.1"/>
<circle cx="134.85" cy="305.56" r="1.2" fill="white" stroke="#8555b8" stroke-width="1.1"/>
<circle cx="127.91" cy="307" r="1.2" fill="white" stroke="#8555b8" stroke-width="1.1"/>
<circle cx="131.49" cy="307.72" r="1.2" fill="white" stroke="#8555b8" stroke-width="1.1"/>
<circle cx="135.08" cy="309.16" r="1.2" fill="white" stroke="#8555b8" stroke-width="1.1"/>
<circle cx="128.09" cy="310.6" r="1.2" fill="white" stroke="#8555b8" stroke-width="1.1"/>
<circle cx="131.25" cy="310.96" r="1.2" fill="white" stroke="#8555b8" stroke-width="1.1"/>
<circle cx="131.69" cy="312.04" r="1.2" fill="white" stroke="#8555b8" stroke-width="1.1"/>
<circle cx="131.44" cy="320.39" r="1.2" fill="white" stroke="#8555b8" stroke-width="1.1"/>
<line x1="131.5" y1="297.28" x2="131.5" y2="310.96" stroke="#231f20" stroke-width="1.35" />
<line x1="128.9" y1="297.28" x2="134.1" y2="297.28" stroke="#231f20" stroke-width="1.35" />
<line x1="128.9" y1="310.96" x2="134.1" y2="310.96" stroke="#231f20" stroke-width="1.35" />
<line x1="123.5" y1="304.12" x2="139.5" y2="304.12" stroke="#231f20" stroke-width="1.5" />
<line x1="65.35" y1="339.4" x2="147.6" y2="339.4" stroke="#231f20" stroke-width="1.3" />
<line x1="82.6" y1="339.4" x2="82.6" y2="343.9" stroke="#231f20" stroke-width="1.3" />
<line x1="107.2" y1="339.4" x2="107.2" y2="343.9" stroke="#231f20" stroke-width="1.3" />
<line x1="131.5" y1="339.4" x2="131.5" y2="343.9" stroke="#231f20" stroke-width="1.3" />
<line x1="81.95" y1="231.6" x2="132.15" y2="231.6" stroke="#231f20" stroke-width="1.3" />
<line x1="82.6" y1="231.6" x2="82.6" y2="249" stroke="#231f20" stroke-width="1.3" />
<line x1="107.2" y1="231.6" x2="107.2" y2="240.5" stroke="#231f20" stroke-width="1.3" />
<line x1="131.5" y1="231.6" x2="131.5" y2="240.5" stroke="#231f20" stroke-width="1.3" />
<text x="107.7" y="250.99" font-size="11" text-anchor="middle" letter-spacing="1.0">***</text>
<text x="131.5" y="250.5" font-size="12.8" text-anchor="middle" >ns</text>
<text x="85.6" y="353.9" font-size="12.3" font-style="italic" text-anchor="end" transform="rotate(-45 85.6 353.9)" >WT</text>
<text x="110.2" y="353.9" font-size="12.3" font-style="italic" text-anchor="end" transform="rotate(-45 110.2 353.9)" ><tspan font-style="normal">Δ</tspan>crp</text>
<text x="134.5" y="353.9" font-size="12.3" font-style="italic" text-anchor="end" transform="rotate(-45 134.5 353.9)" ><tspan font-style="normal">Δ</tspan>cysE</text>
<line x1="183" y1="339.45" x2="183" y2="230.15" stroke="#231f20" stroke-width="1.3" />
<line x1="178" y1="338.8" x2="183" y2="338.8" stroke="#231f20" stroke-width="1.3" />
<text x="176" y="343.08" font-size="11.9" text-anchor="end" >0</text>
<line x1="178" y1="302.8" x2="183" y2="302.8" stroke="#231f20" stroke-width="1.3" />
<text x="176" y="307.08" font-size="11.9" text-anchor="end" >500</text>
<line x1="178" y1="266.8" x2="183" y2="266.8" stroke="#231f20" stroke-width="1.3" />
<text x="176" y="271.08" font-size="11.9" text-anchor="end" >1000</text>
<line x1="178" y1="230.8" x2="183" y2="230.8" stroke="#231f20" stroke-width="1.3" />
<text x="176" y="235.08" font-size="11.9" text-anchor="end" >1500</text>
<circle cx="199.61" cy="302.21" r="1.2" fill="white" stroke="#a3a3a3" stroke-width="1.1"/>
<circle cx="195.97" cy="303.8" r="1.2" fill="white" stroke="#a3a3a3" stroke-width="1.1"/>
<circle cx="202.91" cy="304.6" r="1.2" fill="white" stroke="#a3a3a3" stroke-width="1.1"/>
<circle cx="199.46" cy="304.73" r="1.2" fill="white" stroke="#a3a3a3" stroke-width="1.1"/>
<circle cx="199.4" cy="305.37" r="1.2" fill="white" stroke="#a3a3a3" stroke-width="1.1"/>
<circle cx="202.99" cy="305.47" r="1.2" fill="white" stroke="#a3a3a3" stroke-width="1.1"/>
<circle cx="196.29" cy="305.55" r="1.2" fill="white" stroke="#a3a3a3" stroke-width="1.1"/>
<circle cx="199.35" cy="305.65" r="1.2" fill="white" stroke="#a3a3a3" stroke-width="1.1"/>
<circle cx="196.14" cy="305.82" r="1.2" fill="white" stroke="#a3a3a3" stroke-width="1.1"/>
<circle cx="203.32" cy="306.34" r="1.2" fill="white" stroke="#a3a3a3" stroke-width="1.1"/>
<circle cx="199.79" cy="306.69" r="1.2" fill="white" stroke="#a3a3a3" stroke-width="1.1"/>
<circle cx="196.09" cy="306.71" r="1.2" fill="white" stroke="#a3a3a3" stroke-width="1.1"/>
<circle cx="203.23" cy="306.8" r="1.2" fill="white" stroke="#a3a3a3" stroke-width="1.1"/>
<circle cx="195.85" cy="307.2" r="1.2" fill="white" stroke="#a3a3a3" stroke-width="1.1"/>
<circle cx="196.05" cy="307.26" r="1.2" fill="white" stroke="#a3a3a3" stroke-width="1.1"/>
<circle cx="202.96" cy="307.47" r="1.2" fill="white" stroke="#a3a3a3" stroke-width="1.1"/>
<circle cx="199.38" cy="307.74" r="1.2" fill="white" stroke="#a3a3a3" stroke-width="1.1"/>
<circle cx="199.74" cy="307.92" r="1.2" fill="white" stroke="#a3a3a3" stroke-width="1.1"/>
<circle cx="203.1" cy="308.25" r="1.2" fill="white" stroke="#a3a3a3" stroke-width="1.1"/>
<circle cx="196.11" cy="308.36" r="1.2" fill="white" stroke="#a3a3a3" stroke-width="1.1"/>
<circle cx="199.4" cy="308.47" r="1.2" fill="white" stroke="#a3a3a3" stroke-width="1.1"/>
<circle cx="203.11" cy="308.54" r="1.2" fill="white" stroke="#a3a3a3" stroke-width="1.1"/>
<circle cx="199.62" cy="309.19" r="1.2" fill="white" stroke="#a3a3a3" stroke-width="1.1"/>
<circle cx="203.25" cy="310.28" r="1.2" fill="white" stroke="#a3a3a3" stroke-width="1.1"/>
<circle cx="196.05" cy="310.44" r="1.2" fill="white" stroke="#a3a3a3" stroke-width="1.1"/>
<circle cx="196.21" cy="310.51" r="1.2" fill="white" stroke="#a3a3a3" stroke-width="1.1"/>
<circle cx="196.05" cy="310.61" r="1.2" fill="white" stroke="#a3a3a3" stroke-width="1.1"/>
<circle cx="202.91" cy="310.63" r="1.2" fill="white" stroke="#a3a3a3" stroke-width="1.1"/>
<circle cx="199.48" cy="310.81" r="1.2" fill="white" stroke="#a3a3a3" stroke-width="1.1"/>
<circle cx="199.46" cy="311.67" r="1.2" fill="white" stroke="#a3a3a3" stroke-width="1.1"/>
<circle cx="203.01" cy="311.81" r="1.2" fill="white" stroke="#a3a3a3" stroke-width="1.1"/>
<circle cx="202.98" cy="311.94" r="1.2" fill="white" stroke="#a3a3a3" stroke-width="1.1"/>
<circle cx="199.66" cy="312.02" r="1.2" fill="white" stroke="#a3a3a3" stroke-width="1.1"/>
<circle cx="196.11" cy="312.14" r="1.2" fill="white" stroke="#a3a3a3" stroke-width="1.1"/>
<circle cx="199.57" cy="312.36" r="1.2" fill="white" stroke="#a3a3a3" stroke-width="1.1"/>
<circle cx="195.93" cy="313.25" r="1.2" fill="white" stroke="#a3a3a3" stroke-width="1.1"/>
<circle cx="202.96" cy="313.67" r="1.2" fill="white" stroke="#a3a3a3" stroke-width="1.1"/>
<circle cx="203.11" cy="315.19" r="1.2" fill="white" stroke="#a3a3a3" stroke-width="1.1"/>
<circle cx="196.25" cy="315.48" r="1.2" fill="white" stroke="#a3a3a3" stroke-width="1.1"/>
<circle cx="199.39" cy="315.92" r="1.2" fill="white" stroke="#a3a3a3" stroke-width="1.1"/>
<circle cx="199.8" cy="315.97" r="1.2" fill="white" stroke="#a3a3a3" stroke-width="1.1"/>
<circle cx="203.12" cy="316.05" r="1.2" fill="white" stroke="#a3a3a3" stroke-width="1.1"/>
<circle cx="199.79" cy="316.3" r="1.2" fill="white" stroke="#a3a3a3" stroke-width="1.1"/>
<circle cx="196.22" cy="316.84" r="1.2" fill="white" stroke="#a3a3a3" stroke-width="1.1"/>
<circle cx="202.89" cy="318.38" r="1.2" fill="white" stroke="#a3a3a3" stroke-width="1.1"/>
<line x1="199.6" y1="304.96" x2="199.6" y2="315.04" stroke="#231f20" stroke-width="1.35" />
<line x1="197" y1="304.96" x2="202.2" y2="304.96" stroke="#231f20" stroke-width="1.35" />
<line x1="197" y1="315.04" x2="202.2" y2="315.04" stroke="#231f20" stroke-width="1.35" />
<line x1="191.6" y1="310" x2="207.6" y2="310" stroke="#231f20" stroke-width="1.5" />
<circle cx="223.85" cy="294.15" r="1.2" fill="white" stroke="#52bedc" stroke-width="1.1"/>
<circle cx="220.64" cy="302.18" r="1.2" fill="white" stroke="#52bedc" stroke-width="1.1"/>
<circle cx="223.91" cy="303.27" r="1.2" fill="white" stroke="#52bedc" stroke-width="1.1"/>
<circle cx="227.56" cy="303.3" r="1.2" fill="white" stroke="#52bedc" stroke-width="1.1"/>
<circle cx="224.11" cy="303.48" r="1.2" fill="white" stroke="#52bedc" stroke-width="1.1"/>
<circle cx="227.71" cy="304.45" r="1.2" fill="white" stroke="#52bedc" stroke-width="1.1"/>
<circle cx="220.6" cy="305.61" r="1.2" fill="white" stroke="#52bedc" stroke-width="1.1"/>
<circle cx="224.08" cy="308.72" r="1.2" fill="white" stroke="#52bedc" stroke-width="1.1"/>
<circle cx="220.71" cy="308.8" r="1.2" fill="white" stroke="#52bedc" stroke-width="1.1"/>
<circle cx="227.4" cy="308.87" r="1.2" fill="white" stroke="#52bedc" stroke-width="1.1"/>
<circle cx="220.38" cy="309.09" r="1.2" fill="white" stroke="#52bedc" stroke-width="1.1"/>
<circle cx="227.51" cy="309.21" r="1.2" fill="white" stroke="#52bedc" stroke-width="1.1"/>
<circle cx="223.97" cy="309.64" r="1.2" fill="white" stroke="#52bedc" stroke-width="1.1"/>
<circle cx="220.41" cy="310.1" r="1.2" fill="white" stroke="#52bedc" stroke-width="1.1"/>
<circle cx="224.21" cy="310.2" r="1.2" fill="white" stroke="#52bedc" stroke-width="1.1"/>
<circle cx="227.33" cy="310.32" r="1.2" fill="white" stroke="#52bedc" stroke-width="1.1"/>
<circle cx="223.78" cy="310.37" r="1.2" fill="white" stroke="#52bedc" stroke-width="1.1"/>
<circle cx="227.53" cy="311.29" r="1.2" fill="white" stroke="#52bedc" stroke-width="1.1"/>
<circle cx="220.61" cy="312.17" r="1.2" fill="white" stroke="#52bedc" stroke-width="1.1"/>
<circle cx="220.51" cy="312.29" r="1.2" fill="white" stroke="#52bedc" stroke-width="1.1"/>
<circle cx="220.52" cy="313.33" r="1.2" fill="white" stroke="#52bedc" stroke-width="1.1"/>
<circle cx="223.92" cy="313.58" r="1.2" fill="white" stroke="#52bedc" stroke-width="1.1"/>
<circle cx="227.6" cy="313.81" r="1.2" fill="white" stroke="#52bedc" stroke-width="1.1"/>
<circle cx="224.08" cy="314.16" r="1.2" fill="white" stroke="#52bedc" stroke-width="1.1"/>
<circle cx="227.5" cy="314.8" r="1.2" fill="white" stroke="#52bedc" stroke-width="1.1"/>
<circle cx="224.06" cy="314.94" r="1.2" fill="white" stroke="#52bedc" stroke-width="1.1"/>
<circle cx="227.37" cy="315.31" r="1.2" fill="white" stroke="#52bedc" stroke-width="1.1"/>
<circle cx="220.4" cy="315.98" r="1.2" fill="white" stroke="#52bedc" stroke-width="1.1"/>
<circle cx="220.57" cy="316.36" r="1.2" fill="white" stroke="#52bedc" stroke-width="1.1"/>
<circle cx="223.82" cy="319.72" r="1.2" fill="white" stroke="#52bedc" stroke-width="1.1"/>
<line x1="224" y1="303.52" x2="224" y2="315.76" stroke="#231f20" stroke-width="1.35" />
<line x1="221.4" y1="303.52" x2="226.6" y2="303.52" stroke="#231f20" stroke-width="1.35" />
<line x1="221.4" y1="315.76" x2="226.6" y2="315.76" stroke="#231f20" stroke-width="1.35" />
<line x1="216" y1="310" x2="232" y2="310" stroke="#231f20" stroke-width="1.5" />
<circle cx="249.25" cy="296.41" r="1.2" fill="white" stroke="#f7941e" stroke-width="1.1"/>
<circle cx="252.55" cy="297.77" r="1.2" fill="white" stroke="#f7941e" stroke-width="1.1"/>
<circle cx="246.01" cy="298.34" r="1.2" fill="white" stroke="#f7941e" stroke-width="1.1"/>
<circle cx="249.46" cy="300.19" r="1.2" fill="white" stroke="#f7941e" stroke-width="1.1"/>
<circle cx="253.04" cy="301.96" r="1.2" fill="white" stroke="#f7941e" stroke-width="1.1"/>
<circle cx="245.66" cy="303.12" r="1.2" fill="white" stroke="#f7941e" stroke-width="1.1"/>
<circle cx="252.99" cy="303.21" r="1.2" fill="white" stroke="#f7941e" stroke-width="1.1"/>
<circle cx="249.52" cy="303.25" r="1.2" fill="white" stroke="#f7941e" stroke-width="1.1"/>
<circle cx="245.87" cy="303.27" r="1.2" fill="white" stroke="#f7941e" stroke-width="1.1"/>
<circle cx="249.21" cy="303.58" r="1.2" fill="white" stroke="#f7941e" stroke-width="1.1"/>
<circle cx="245.67" cy="304.54" r="1.2" fill="white" stroke="#f7941e" stroke-width="1.1"/>
<circle cx="249.53" cy="304.73" r="1.2" fill="white" stroke="#f7941e" stroke-width="1.1"/>
<circle cx="252.66" cy="304.91" r="1.2" fill="white" stroke="#f7941e" stroke-width="1.1"/>
<circle cx="252.82" cy="305" r="1.2" fill="white" stroke="#f7941e" stroke-width="1.1"/>
<circle cx="252.8" cy="305.27" r="1.2" fill="white" stroke="#f7941e" stroke-width="1.1"/>
<circle cx="245.72" cy="306.19" r="1.2" fill="white" stroke="#f7941e" stroke-width="1.1"/>
<circle cx="249.14" cy="306.28" r="1.2" fill="white" stroke="#f7941e" stroke-width="1.1"/>
<circle cx="245.55" cy="306.82" r="1.2" fill="white" stroke="#f7941e" stroke-width="1.1"/>
<circle cx="249.43" cy="307.09" r="1.2" fill="white" stroke="#f7941e" stroke-width="1.1"/>
<circle cx="245.85" cy="307.54" r="1.2" fill="white" stroke="#f7941e" stroke-width="1.1"/>
<circle cx="249.34" cy="307.55" r="1.2" fill="white" stroke="#f7941e" stroke-width="1.1"/>
<circle cx="245.56" cy="308.03" r="1.2" fill="white" stroke="#f7941e" stroke-width="1.1"/>
<circle cx="253.01" cy="308.09" r="1.2" fill="white" stroke="#f7941e" stroke-width="1.1"/>
<circle cx="252.66" cy="308.27" r="1.2" fill="white" stroke="#f7941e" stroke-width="1.1"/>
<circle cx="252.64" cy="308.27" r="1.2" fill="white" stroke="#f7941e" stroke-width="1.1"/>
<circle cx="249.25" cy="308.33" r="1.2" fill="white" stroke="#f7941e" stroke-width="1.1"/>
<circle cx="252.72" cy="309.36" r="1.2" fill="white" stroke="#f7941e" stroke-width="1.1"/>
<circle cx="245.84" cy="309.51" r="1.2" fill="white" stroke="#f7941e" stroke-width="1.1"/>
<circle cx="249.32" cy="309.85" r="1.2" fill="white" stroke="#f7941e" stroke-width="1.1"/>
<circle cx="249.13" cy="311.01" r="1.2" fill="white" stroke="#f7941e" stroke-width="1.1"/>
<circle cx="245.92" cy="311.08" r="1.2" fill="white" stroke="#f7941e" stroke-width="1.1"/>
<circle cx="249.3" cy="311.11" r="1.2" fill="white" stroke="#f7941e" stroke-width="1.1"/>
<circle cx="252.91" cy="311.82" r="1.2" fill="white" stroke="#f7941e" stroke-width="1.1"/>
<circle cx="245.7" cy="312.49" r="1.2" fill="white" stroke="#f7941e" stroke-width="1.1"/>
<circle cx="252.91" cy="312.93" r="1.2" fill="white" stroke="#f7941e" stroke-width="1.1"/>
<circle cx="249.19" cy="314.2" r="1.2" fill="white" stroke="#f7941e" stroke-width="1.1"/>
<circle cx="249.14" cy="314.5" r="1.2" fill="white" stroke="#f7941e" stroke-width="1.1"/>
<circle cx="252.84" cy="315.33" r="1.2" fill="white" stroke="#f7941e" stroke-width="1.1"/>
<circle cx="245.82" cy="316.03" r="1.2" fill="white" stroke="#f7941e" stroke-width="1.1"/>
<circle cx="249.47" cy="318.13" r="1.2" fill="white" stroke="#f7941e" stroke-width="1.1"/>
<line x1="249.3" y1="302.08" x2="249.3" y2="312.88" stroke="#231f20" stroke-width="1.35" />
<line x1="246.7" y1="302.08" x2="251.9" y2="302.08" stroke="#231f20" stroke-width="1.35" />
<line x1="246.7" y1="312.88" x2="251.9" y2="312.88" stroke="#231f20" stroke-width="1.35" />
<line x1="241.3" y1="307.84" x2="257.3" y2="307.84" stroke="#231f20" stroke-width="1.5" />
<circle cx="277.08" cy="289.95" r="1.2" fill="white" stroke="#ef7676" stroke-width="1.1"/>
<circle cx="273.69" cy="290.1" r="1.2" fill="white" stroke="#ef7676" stroke-width="1.1"/>
<circle cx="270.22" cy="292.78" r="1.2" fill="white" stroke="#ef7676" stroke-width="1.1"/>
<circle cx="277.13" cy="294.73" r="1.2" fill="white" stroke="#ef7676" stroke-width="1.1"/>
<circle cx="273.83" cy="295.09" r="1.2" fill="white" stroke="#ef7676" stroke-width="1.1"/>
<circle cx="270.03" cy="296.56" r="1.2" fill="white" stroke="#ef7676" stroke-width="1.1"/>
<circle cx="277.3" cy="296.67" r="1.2" fill="white" stroke="#ef7676" stroke-width="1.1"/>
<circle cx="277.35" cy="297.97" r="1.2" fill="white" stroke="#ef7676" stroke-width="1.1"/>
<circle cx="270.22" cy="298.06" r="1.2" fill="white" stroke="#ef7676" stroke-width="1.1"/>
<circle cx="273.55" cy="298.69" r="1.2" fill="white" stroke="#ef7676" stroke-width="1.1"/>
<circle cx="273.61" cy="299.19" r="1.2" fill="white" stroke="#ef7676" stroke-width="1.1"/>
<circle cx="277.04" cy="299.94" r="1.2" fill="white" stroke="#ef7676" stroke-width="1.1"/>
<circle cx="270.25" cy="300.21" r="1.2" fill="white" stroke="#ef7676" stroke-width="1.1"/>
<circle cx="270.23" cy="301.05" r="1.2" fill="white" stroke="#ef7676" stroke-width="1.1"/>
<circle cx="276.94" cy="302.04" r="1.2" fill="white" stroke="#ef7676" stroke-width="1.1"/>
<circle cx="273.54" cy="303.77" r="1.2" fill="white" stroke="#ef7676" stroke-width="1.1"/>
<circle cx="277.23" cy="303.82" r="1.2" fill="white" stroke="#ef7676" stroke-width="1.1"/>
<circle cx="273.43" cy="304.18" r="1.2" fill="white" stroke="#ef7676" stroke-width="1.1"/>
<circle cx="270.23" cy="305.02" r="1.2" fill="white" stroke="#ef7676" stroke-width="1.1"/>
<circle cx="270.13" cy="305.08" r="1.2" fill="white" stroke="#ef7676" stroke-width="1.1"/>
<circle cx="276.93" cy="306.33" r="1.2" fill="white" stroke="#ef7676" stroke-width="1.1"/>
<circle cx="270.03" cy="306.42" r="1.2" fill="white" stroke="#ef7676" stroke-width="1.1"/>
<circle cx="277.3" cy="306.76" r="1.2" fill="white" stroke="#ef7676" stroke-width="1.1"/>
<circle cx="273.41" cy="306.8" r="1.2" fill="white" stroke="#ef7676" stroke-width="1.1"/>
<circle cx="273.59" cy="307.5" r="1.2" fill="white" stroke="#ef7676" stroke-width="1.1"/>
<circle cx="273.84" cy="307.87" r="1.2" fill="white" stroke="#ef7676" stroke-width="1.1"/>
<circle cx="276.99" cy="307.91" r="1.2" fill="white" stroke="#ef7676" stroke-width="1.1"/>
<circle cx="270.24" cy="308.66" r="1.2" fill="white" stroke="#ef7676" stroke-width="1.1"/>
<circle cx="270.05" cy="308.94" r="1.2" fill="white" stroke="#ef7676" stroke-width="1.1"/>
<circle cx="270.32" cy="309.7" r="1.2" fill="white" stroke="#ef7676" stroke-width="1.1"/>
<circle cx="277.32" cy="310.45" r="1.2" fill="white" stroke="#ef7676" stroke-width="1.1"/>
<circle cx="273.72" cy="311.25" r="1.2" fill="white" stroke="#ef7676" stroke-width="1.1"/>
<circle cx="276.95" cy="313.82" r="1.2" fill="white" stroke="#ef7676" stroke-width="1.1"/>
<circle cx="273.82" cy="316.14" r="1.2" fill="white" stroke="#ef7676" stroke-width="1.1"/>
<circle cx="270.02" cy="317.89" r="1.2" fill="white" stroke="#ef7676" stroke-width="1.1"/>
<line x1="273.6" y1="297.76" x2="273.6" y2="312.16" stroke="#231f20" stroke-width="1.35" />
<line x1="271" y1="297.76" x2="276.2" y2="297.76" stroke="#231f20" stroke-width="1.35" />
<line x1="271" y1="312.16" x2="276.2" y2="312.16" stroke="#231f20" stroke-width="1.35" />
<line x1="265.6" y1="304.96" x2="281.6" y2="304.96" stroke="#231f20" stroke-width="1.5" />
<line x1="182.35" y1="338.8" x2="291" y2="338.8" stroke="#231f20" stroke-width="1.3" />
<line x1="199.6" y1="338.8" x2="199.6" y2="343.3" stroke="#231f20" stroke-width="1.3" />
<line x1="224" y1="338.8" x2="224" y2="343.3" stroke="#231f20" stroke-width="1.3" />
<line x1="249.3" y1="338.8" x2="249.3" y2="343.3" stroke="#231f20" stroke-width="1.3" />
<line x1="273.6" y1="338.8" x2="273.6" y2="343.3" stroke="#231f20" stroke-width="1.3" />
<line x1="198.95" y1="230.9" x2="273.45" y2="230.9" stroke="#231f20" stroke-width="1.3" />
<line x1="199.6" y1="230.9" x2="199.6" y2="248.4" stroke="#231f20" stroke-width="1.3" />
<line x1="223.6" y1="230.9" x2="223.6" y2="239.2" stroke="#231f20" stroke-width="1.3" />
<line x1="248.2" y1="230.9" x2="248.2" y2="239.2" stroke="#231f20" stroke-width="1.3" />
<line x1="272.8" y1="230.9" x2="272.8" y2="239.2" stroke="#231f20" stroke-width="1.3" />
<text x="223.6" y="246.7" font-size="12.8" text-anchor="middle" >ns</text>
<text x="248.2" y="246.7" font-size="12.8" text-anchor="middle" >ns</text>
<text x="273.3" y="248.99" font-size="11" text-anchor="middle" letter-spacing="1.0">**</text>
<text x="202.6" y="353.3" font-size="12.3" font-style="italic" text-anchor="end" transform="rotate(-45 202.6 353.3)" >WT</text>
<text x="227" y="353.3" font-size="12.3" font-style="italic" text-anchor="end" transform="rotate(-45 227 353.3)" ><tspan font-style="normal">Δ</tspan>wzxE</text>
<text x="252.3" y="353.3" font-size="12.3" font-style="italic" text-anchor="end" transform="rotate(-45 252.3 353.3)" ><tspan font-style="normal">Δ</tspan>pdxJ</text>
<text x="276.6" y="353.3" font-size="12.3" font-style="italic" text-anchor="end" transform="rotate(-45 276.6 353.3)" ><tspan font-style="normal">Δ</tspan>fepB</text>
<text x="124.4" y="413.4" font-size="13" font-weight="bold" textLength="99" lengthAdjust="spacingAndGlyphs" >oxidative stress</text>
<text x="26" y="483.5" font-size="13.2" text-anchor="middle" transform="rotate(-90 26 483.5)" ><tspan font-style="italic">gst-4::gfp</tspan><tspan dx="2"> (A.U.)</tspan></text>
<line x1="66.5" y1="539.25" x2="66.5" y2="430.35" stroke="#231f20" stroke-width="1.3" />
<line x1="61.5" y1="538.6" x2="66.5" y2="538.6" stroke="#231f20" stroke-width="1.3" />
<text x="59.5" y="542.88" font-size="11.9" text-anchor="end" >0</text>
<line x1="61.5" y1="511.7" x2="66.5" y2="511.7" stroke="#231f20" stroke-width="1.3" />
<text x="59.5" y="515.98" font-size="11.9" text-anchor="end" >2000</text>
<line x1="61.5" y1="484.8" x2="66.5" y2="484.8" stroke="#231f20" stroke-width="1.3" />
<text x="59.5" y="489.08" font-size="11.9" text-anchor="end" >4000</text>
<line x1="61.5" y1="457.9" x2="66.5" y2="457.9" stroke="#231f20" stroke-width="1.3" />
<text x="59.5" y="462.18" font-size="11.9" text-anchor="end" >6000</text>
<line x1="61.5" y1="431" x2="66.5" y2="431" stroke="#231f20" stroke-width="1.3" />
<text x="59.5" y="435.28" font-size="11.9" text-anchor="end" >8000</text>
<circle cx="86.74" cy="486.49" r="1.2" fill="white" stroke="#a3a3a3" stroke-width="1.1"/>
<circle cx="86.69" cy="491.2" r="1.2" fill="white" stroke="#a3a3a3" stroke-width="1.1"/>
<circle cx="79.65" cy="495.3" r="1.2" fill="white" stroke="#a3a3a3" stroke-width="1.1"/>
<circle cx="86.45" cy="496.23" r="1.2" fill="white" stroke="#a3a3a3" stroke-width="1.1"/>
<circle cx="79.41" cy="498.52" r="1.2" fill="white" stroke="#a3a3a3" stroke-width="1.1"/>
<circle cx="82.95" cy="498.8" r="1.2" fill="white" stroke="#a3a3a3" stroke-width="1.1"/>
<circle cx="82.76" cy="499.06" r="1.2" fill="white" stroke="#a3a3a3" stroke-width="1.1"/>
<circle cx="86.31" cy="500.94" r="1.2" fill="white" stroke="#a3a3a3" stroke-width="1.1"/>
<circle cx="79.49" cy="501.07" r="1.2" fill="white" stroke="#a3a3a3" stroke-width="1.1"/>
<circle cx="86.46" cy="501.1" r="1.2" fill="white" stroke="#a3a3a3" stroke-width="1.1"/>
<circle cx="79.58" cy="501.21" r="1.2" fill="white" stroke="#a3a3a3" stroke-width="1.1"/>
<circle cx="83.03" cy="502.29" r="1.2" fill="white" stroke="#a3a3a3" stroke-width="1.1"/>
<circle cx="82.8" cy="502.9" r="1.2" fill="white" stroke="#a3a3a3" stroke-width="1.1"/>
<circle cx="86.67" cy="503.09" r="1.2" fill="white" stroke="#a3a3a3" stroke-width="1.1"/>
<circle cx="79.46" cy="504.98" r="1.2" fill="white" stroke="#a3a3a3" stroke-width="1.1"/>
<circle cx="86.49" cy="505.11" r="1.2" fill="white" stroke="#a3a3a3" stroke-width="1.1"/>
<circle cx="79.44" cy="505.2" r="1.2" fill="white" stroke="#a3a3a3" stroke-width="1.1"/>
<circle cx="82.93" cy="505.24" r="1.2" fill="white" stroke="#a3a3a3" stroke-width="1.1"/>
<circle cx="79.71" cy="505.38" r="1.2" fill="white" stroke="#a3a3a3" stroke-width="1.1"/>
<circle cx="83.23" cy="506.32" r="1.2" fill="white" stroke="#a3a3a3" stroke-width="1.1"/>
<circle cx="86.34" cy="506.4" r="1.2" fill="white" stroke="#a3a3a3" stroke-width="1.1"/>
<circle cx="86.71" cy="506.45" r="1.2" fill="white" stroke="#a3a3a3" stroke-width="1.1"/>
<circle cx="86.66" cy="510.5" r="1.2" fill="white" stroke="#a3a3a3" stroke-width="1.1"/>
<line x1="83" y1="495.56" x2="83" y2="507.67" stroke="#231f20" stroke-width="1.35" />
<line x1="80.4" y1="495.56" x2="85.6" y2="495.56" stroke="#231f20" stroke-width="1.35" />
<line x1="80.4" y1="507.67" x2="85.6" y2="507.67" stroke="#231f20" stroke-width="1.35" />
<line x1="75" y1="501.61" x2="91" y2="501.61" stroke="#231f20" stroke-width="1.5" />
<circle cx="110.69" cy="494.11" r="1.2" fill="white" stroke="#179b4f" stroke-width="1.1"/>
<circle cx="104.04" cy="494.22" r="1.2" fill="white" stroke="#179b4f" stroke-width="1.1"/>
<circle cx="107.19" cy="494.35" r="1.2" fill="white" stroke="#179b4f" stroke-width="1.1"/>
<circle cx="104.14" cy="495.3" r="1.2" fill="white" stroke="#179b4f" stroke-width="1.1"/>
<circle cx="107.22" cy="495.43" r="1.2" fill="white" stroke="#179b4f" stroke-width="1.1"/>
<circle cx="110.72" cy="497.58" r="1.2" fill="white" stroke="#179b4f" stroke-width="1.1"/>
<circle cx="107.38" cy="498.92" r="1.2" fill="white" stroke="#179b4f" stroke-width="1.1"/>
<circle cx="104.03" cy="499.41" r="1.2" fill="white" stroke="#179b4f" stroke-width="1.1"/>
<circle cx="110.89" cy="499.6" r="1.2" fill="white" stroke="#179b4f" stroke-width="1.1"/>
<circle cx="104" cy="499.73" r="1.2" fill="white" stroke="#179b4f" stroke-width="1.1"/>
<circle cx="110.77" cy="500.94" r="1.2" fill="white" stroke="#179b4f" stroke-width="1.1"/>
<circle cx="107.58" cy="502.29" r="1.2" fill="white" stroke="#179b4f" stroke-width="1.1"/>
<circle cx="103.75" cy="502.9" r="1.2" fill="white" stroke="#179b4f" stroke-width="1.1"/>
<circle cx="107.36" cy="502.96" r="1.2" fill="white" stroke="#179b4f" stroke-width="1.1"/>
<circle cx="111.05" cy="503.09" r="1.2" fill="white" stroke="#179b4f" stroke-width="1.1"/>
<circle cx="103.85" cy="503.63" r="1.2" fill="white" stroke="#179b4f" stroke-width="1.1"/>
<circle cx="103.68" cy="504.01" r="1.2" fill="white" stroke="#179b4f" stroke-width="1.1"/>
<circle cx="111.01" cy="504.17" r="1.2" fill="white" stroke="#179b4f" stroke-width="1.1"/>
<circle cx="107.19" cy="505.65" r="1.2" fill="white" stroke="#179b4f" stroke-width="1.1"/>
<circle cx="110.86" cy="506.4" r="1.2" fill="white" stroke="#179b4f" stroke-width="1.1"/>
<circle cx="107.32" cy="506.59" r="1.2" fill="white" stroke="#179b4f" stroke-width="1.1"/>
<circle cx="107.39" cy="509.9" r="1.2" fill="white" stroke="#179b4f" stroke-width="1.1"/>
<circle cx="103.72" cy="517.5" r="1.2" fill="white" stroke="#179b4f" stroke-width="1.1"/>
<line x1="107.4" y1="496.23" x2="107.4" y2="508.34" stroke="#231f20" stroke-width="1.35" />
<line x1="104.8" y1="496.23" x2="110" y2="496.23" stroke="#231f20" stroke-width="1.35" />
<line x1="104.8" y1="508.34" x2="110" y2="508.34" stroke="#231f20" stroke-width="1.35" />
<line x1="99.4" y1="502.29" x2="115.4" y2="502.29" stroke="#231f20" stroke-width="1.5" />
<circle cx="128.62" cy="468.4" r="1.2" fill="white" stroke="#8555b8" stroke-width="1.1"/>
<circle cx="131.87" cy="471.35" r="1.2" fill="white" stroke="#8555b8" stroke-width="1.1"/>
<circle cx="135.5" cy="471.4" r="1.2" fill="white" stroke="#8555b8" stroke-width="1.1"/>
<circle cx="128.43" cy="471.48" r="1.2" fill="white" stroke="#8555b8" stroke-width="1.1"/>
<circle cx="135.62" cy="471.62" r="1.2" fill="white" stroke="#8555b8" stroke-width="1.1"/>
<circle cx="128.48" cy="475.4" r="1.2" fill="white" stroke="#8555b8" stroke-width="1.1"/>
<circle cx="131.89" cy="475.52" r="1.2" fill="white" stroke="#8555b8" stroke-width="1.1"/>
<circle cx="135.72" cy="476.6" r="1.2" fill="white" stroke="#8555b8" stroke-width="1.1"/>
<circle cx="132.14" cy="476.73" r="1.2" fill="white" stroke="#8555b8" stroke-width="1.1"/>
<circle cx="135.42" cy="478.4" r="1.2" fill="white" stroke="#8555b8" stroke-width="1.1"/>
<circle cx="128.59" cy="479.42" r="1.2" fill="white" stroke="#8555b8" stroke-width="1.1"/>
<circle cx="132" cy="481.3" r="1.2" fill="white" stroke="#8555b8" stroke-width="1.1"/>
<circle cx="128.27" cy="481.44" r="1.2" fill="white" stroke="#8555b8" stroke-width="1.1"/>
<circle cx="135.36" cy="481.57" r="1.2" fill="white" stroke="#8555b8" stroke-width="1.1"/>
<circle cx="132.08" cy="483.6" r="1.2" fill="white" stroke="#8555b8" stroke-width="1.1"/>
<circle cx="128.26" cy="483.72" r="1.2" fill="white" stroke="#8555b8" stroke-width="1.1"/>
<circle cx="135.27" cy="485.9" r="1.2" fill="white" stroke="#8555b8" stroke-width="1.1"/>
<circle cx="131.88" cy="488.84" r="1.2" fill="white" stroke="#8555b8" stroke-width="1.1"/>
<circle cx="128.49" cy="488.9" r="1.2" fill="white" stroke="#8555b8" stroke-width="1.1"/>
<circle cx="135.25" cy="491.2" r="1.2" fill="white" stroke="#8555b8" stroke-width="1.1"/>
<circle cx="128.74" cy="493" r="1.2" fill="white" stroke="#8555b8" stroke-width="1.1"/>
<circle cx="132.24" cy="493.14" r="1.2" fill="white" stroke="#8555b8" stroke-width="1.1"/>
<circle cx="128.64" cy="499.41" r="1.2" fill="white" stroke="#8555b8" stroke-width="1.1"/>
<line x1="132" y1="472.02" x2="132" y2="488.84" stroke="#231f20" stroke-width="1.35" />
<line x1="129.4" y1="472.02" x2="134.6" y2="472.02" stroke="#231f20" stroke-width="1.35" />
<line x1="129.4" y1="488.84" x2="134.6" y2="488.84" stroke="#231f20" stroke-width="1.35" />
<line x1="124" y1="480.76" x2="140" y2="480.76" stroke="#231f20" stroke-width="1.5" />
<line x1="65.85" y1="538.6" x2="148.4" y2="538.6" stroke="#231f20" stroke-width="1.3" />
<line x1="83" y1="538.6" x2="83" y2="543.1" stroke="#231f20" stroke-width="1.3" />
<line x1="107.4" y1="538.6" x2="107.4" y2="543.1" stroke="#231f20" stroke-width="1.3" />
<line x1="132" y1="538.6" x2="132" y2="543.1" stroke="#231f20" stroke-width="1.3" />
<line x1="82.55" y1="431" x2="132.15" y2="431" stroke="#231f20" stroke-width="1.3" />
<line x1="83.2" y1="431" x2="83.2" y2="448" stroke="#231f20" stroke-width="1.3" />
<line x1="107.5" y1="431" x2="107.5" y2="439.4" stroke="#231f20" stroke-width="1.3" />
<line x1="131.5" y1="431" x2="131.5" y2="439.4" stroke="#231f20" stroke-width="1.3" />
<text x="107.5" y="449.8" font-size="12.8" text-anchor="middle" >ns</text>
<text x="132" y="451.59" font-size="11" text-anchor="middle" letter-spacing="1.0">***</text>
<text x="86" y="553.1" font-size="12.3" font-style="italic" text-anchor="end" transform="rotate(-45 86 553.1)" >WT</text>
<text x="110.4" y="553.1" font-size="12.3" font-style="italic" text-anchor="end" transform="rotate(-45 110.4 553.1)" ><tspan font-style="normal">Δ</tspan>crp</text>
<text x="135" y="553.1" font-size="12.3" font-style="italic" text-anchor="end" transform="rotate(-45 135 553.1)" ><tspan font-style="normal">Δ</tspan>cysE</text>
<line x1="189" y1="539.65" x2="189" y2="430.75" stroke="#231f20" stroke-width="1.3" />
<line x1="184" y1="539" x2="189" y2="539" stroke="#231f20" stroke-width="1.3" />
<text x="182" y="543.28" font-size="11.9" text-anchor="end" >0</text>
<line x1="184" y1="512.1" x2="189" y2="512.1" stroke="#231f20" stroke-width="1.3" />
<text x="182" y="516.38" font-size="11.9" text-anchor="end" >2000</text>
<line x1="184" y1="485.2" x2="189" y2="485.2" stroke="#231f20" stroke-width="1.3" />
<text x="182" y="489.48" font-size="11.9" text-anchor="end" >4000</text>
<line x1="184" y1="458.3" x2="189" y2="458.3" stroke="#231f20" stroke-width="1.3" />
<text x="182" y="462.58" font-size="11.9" text-anchor="end" >6000</text>
<line x1="184" y1="431.4" x2="189" y2="431.4" stroke="#231f20" stroke-width="1.3" />
<text x="182" y="435.68" font-size="11.9" text-anchor="end" >8000</text>
<circle cx="202.33" cy="472.91" r="1.2" fill="white" stroke="#a3a3a3" stroke-width="1.1"/>
<circle cx="205.91" cy="476.3" r="1.2" fill="white" stroke="#a3a3a3" stroke-width="1.1"/>
<circle cx="209.41" cy="477.66" r="1.2" fill="white" stroke="#a3a3a3" stroke-width="1.1"/>
<circle cx="205.97" cy="480.45" r="1.2" fill="white" stroke="#a3a3a3" stroke-width="1.1"/>
<circle cx="202.47" cy="480.55" r="1.2" fill="white" stroke="#a3a3a3" stroke-width="1.1"/>
<circle cx="209.41" cy="480.93" r="1.2" fill="white" stroke="#a3a3a3" stroke-width="1.1"/>
<circle cx="209.16" cy="481.03" r="1.2" fill="white" stroke="#a3a3a3" stroke-width="1.1"/>
<circle cx="202.14" cy="481.84" r="1.2" fill="white" stroke="#a3a3a3" stroke-width="1.1"/>
<circle cx="205.74" cy="482.13" r="1.2" fill="white" stroke="#a3a3a3" stroke-width="1.1"/>
<circle cx="209.54" cy="484.77" r="1.2" fill="white" stroke="#a3a3a3" stroke-width="1.1"/>
<circle cx="202.33" cy="485.24" r="1.2" fill="white" stroke="#a3a3a3" stroke-width="1.1"/>
<circle cx="205.89" cy="485.31" r="1.2" fill="white" stroke="#a3a3a3" stroke-width="1.1"/>
<circle cx="205.83" cy="485.74" r="1.2" fill="white" stroke="#a3a3a3" stroke-width="1.1"/>
<circle cx="209.43" cy="486.66" r="1.2" fill="white" stroke="#a3a3a3" stroke-width="1.1"/>
<circle cx="202.43" cy="486.96" r="1.2" fill="white" stroke="#a3a3a3" stroke-width="1.1"/>
<circle cx="209.42" cy="487.61" r="1.2" fill="white" stroke="#a3a3a3" stroke-width="1.1"/>
<circle cx="202.49" cy="488.69" r="1.2" fill="white" stroke="#a3a3a3" stroke-width="1.1"/>
<circle cx="205.57" cy="488.79" r="1.2" fill="white" stroke="#a3a3a3" stroke-width="1.1"/>
<circle cx="206.02" cy="488.89" r="1.2" fill="white" stroke="#a3a3a3" stroke-width="1.1"/>
<circle cx="202.18" cy="488.95" r="1.2" fill="white" stroke="#a3a3a3" stroke-width="1.1"/>
<circle cx="209.36" cy="489.26" r="1.2" fill="white" stroke="#a3a3a3" stroke-width="1.1"/>
<circle cx="205.63" cy="489.69" r="1.2" fill="white" stroke="#a3a3a3" stroke-width="1.1"/>
<circle cx="202.5" cy="490.44" r="1.2" fill="white" stroke="#a3a3a3" stroke-width="1.1"/>
<circle cx="209.09" cy="490.52" r="1.2" fill="white" stroke="#a3a3a3" stroke-width="1.1"/>
<circle cx="209.16" cy="491.6" r="1.2" fill="white" stroke="#a3a3a3" stroke-width="1.1"/>
<circle cx="209.5" cy="491.6" r="1.2" fill="white" stroke="#a3a3a3" stroke-width="1.1"/>
<circle cx="205.82" cy="493.6" r="1.2" fill="white" stroke="#a3a3a3" stroke-width="1.1"/>
<circle cx="202.32" cy="493.92" r="1.2" fill="white" stroke="#a3a3a3" stroke-width="1.1"/>
<circle cx="205.94" cy="494.17" r="1.2" fill="white" stroke="#a3a3a3" stroke-width="1.1"/>
<circle cx="209.11" cy="495.46" r="1.2" fill="white" stroke="#a3a3a3" stroke-width="1.1"/>
<circle cx="202.44" cy="495.6" r="1.2" fill="white" stroke="#a3a3a3" stroke-width="1.1"/>
<circle cx="209.34" cy="495.65" r="1.2" fill="white" stroke="#a3a3a3" stroke-width="1.1"/>
<circle cx="202.16" cy="496.74" r="1.2" fill="white" stroke="#a3a3a3" stroke-width="1.1"/>
<circle cx="205.91" cy="497.19" r="1.2" fill="white" stroke="#a3a3a3" stroke-width="1.1"/>
<circle cx="205.8" cy="497.54" r="1.2" fill="white" stroke="#a3a3a3" stroke-width="1.1"/>
<circle cx="202.29" cy="498.58" r="1.2" fill="white" stroke="#a3a3a3" stroke-width="1.1"/>
<circle cx="209.22" cy="500.54" r="1.2" fill="white" stroke="#a3a3a3" stroke-width="1.1"/>
<circle cx="205.56" cy="500.76" r="1.2" fill="white" stroke="#a3a3a3" stroke-width="1.1"/>
<circle cx="209.28" cy="501.23" r="1.2" fill="white" stroke="#a3a3a3" stroke-width="1.1"/>
<circle cx="202.11" cy="501.34" r="1.2" fill="white" stroke="#a3a3a3" stroke-width="1.1"/>
<circle cx="202.35" cy="502.72" r="1.2" fill="white" stroke="#a3a3a3" stroke-width="1.1"/>
<circle cx="209.32" cy="505.58" r="1.2" fill="white" stroke="#a3a3a3" stroke-width="1.1"/>
<circle cx="205.8" cy="506.19" r="1.2" fill="white" stroke="#a3a3a3" stroke-width="1.1"/>
<circle cx="202.3" cy="506.76" r="1.2" fill="white" stroke="#a3a3a3" stroke-width="1.1"/>
<circle cx="202.47" cy="507.98" r="1.2" fill="white" stroke="#a3a3a3" stroke-width="1.1"/>
<line x1="205.8" y1="483.86" x2="205.8" y2="502.69" stroke="#231f20" stroke-width="1.35" />
<line x1="203.2" y1="483.86" x2="208.4" y2="483.86" stroke="#231f20" stroke-width="1.35" />
<line x1="203.2" y1="502.69" x2="208.4" y2="502.69" stroke="#231f20" stroke-width="1.35" />
<line x1="197.8" y1="493.27" x2="213.8" y2="493.27" stroke="#231f20" stroke-width="1.5" />
<circle cx="229.84" cy="460.46" r="1.2" fill="white" stroke="#52bedc" stroke-width="1.1"/>
<circle cx="233.66" cy="462.99" r="1.2" fill="white" stroke="#52bedc" stroke-width="1.1"/>
<circle cx="226.27" cy="468.04" r="1.2" fill="white" stroke="#52bedc" stroke-width="1.1"/>
<circle cx="233.32" cy="468.42" r="1.2" fill="white" stroke="#52bedc" stroke-width="1.1"/>
<circle cx="230.13" cy="473.62" r="1.2" fill="white" stroke="#52bedc" stroke-width="1.1"/>
<circle cx="226.28" cy="473.7" r="1.2" fill="white" stroke="#52bedc" stroke-width="1.1"/>
<circle cx="233.64" cy="474.59" r="1.2" fill="white" stroke="#52bedc" stroke-width="1.1"/>
<circle cx="233.5" cy="475.72" r="1.2" fill="white" stroke="#52bedc" stroke-width="1.1"/>
<circle cx="226.72" cy="475.91" r="1.2" fill="white" stroke="#52bedc" stroke-width="1.1"/>
<circle cx="229.96" cy="477.96" r="1.2" fill="white" stroke="#52bedc" stroke-width="1.1"/>
<circle cx="226.6" cy="478.36" r="1.2" fill="white" stroke="#52bedc" stroke-width="1.1"/>
<circle cx="233.36" cy="478.56" r="1.2" fill="white" stroke="#52bedc" stroke-width="1.1"/>
<circle cx="229.98" cy="478.98" r="1.2" fill="white" stroke="#52bedc" stroke-width="1.1"/>
<circle cx="233.53" cy="480.63" r="1.2" fill="white" stroke="#52bedc" stroke-width="1.1"/>
<circle cx="226.43" cy="480.65" r="1.2" fill="white" stroke="#52bedc" stroke-width="1.1"/>
<circle cx="226.37" cy="481.64" r="1.2" fill="white" stroke="#52bedc" stroke-width="1.1"/>
<circle cx="230.22" cy="482.31" r="1.2" fill="white" stroke="#52bedc" stroke-width="1.1"/>
<circle cx="226.49" cy="484.84" r="1.2" fill="white" stroke="#52bedc" stroke-width="1.1"/>
<circle cx="230.21" cy="487.54" r="1.2" fill="white" stroke="#52bedc" stroke-width="1.1"/>
<circle cx="233.31" cy="487.99" r="1.2" fill="white" stroke="#52bedc" stroke-width="1.1"/>
<circle cx="226.52" cy="489.71" r="1.2" fill="white" stroke="#52bedc" stroke-width="1.1"/>
<circle cx="226.43" cy="490.21" r="1.2" fill="white" stroke="#52bedc" stroke-width="1.1"/>
<circle cx="233.75" cy="490.36" r="1.2" fill="white" stroke="#52bedc" stroke-width="1.1"/>
<circle cx="230.09" cy="491.69" r="1.2" fill="white" stroke="#52bedc" stroke-width="1.1"/>
<circle cx="226.26" cy="493.58" r="1.2" fill="white" stroke="#52bedc" stroke-width="1.1"/>
<circle cx="233.54" cy="494.88" r="1.2" fill="white" stroke="#52bedc" stroke-width="1.1"/>
<circle cx="230.2" cy="495.04" r="1.2" fill="white" stroke="#52bedc" stroke-width="1.1"/>
<circle cx="230.16" cy="496.47" r="1.2" fill="white" stroke="#52bedc" stroke-width="1.1"/>
<circle cx="226.43" cy="498.11" r="1.2" fill="white" stroke="#52bedc" stroke-width="1.1"/>
<circle cx="229.92" cy="501.04" r="1.2" fill="white" stroke="#52bedc" stroke-width="1.1"/>
<line x1="230" y1="473.77" x2="230" y2="495.29" stroke="#231f20" stroke-width="1.35" />
<line x1="227.4" y1="473.77" x2="232.6" y2="473.77" stroke="#231f20" stroke-width="1.35" />
<line x1="227.4" y1="495.29" x2="232.6" y2="495.29" stroke="#231f20" stroke-width="1.35" />
<line x1="222" y1="484.53" x2="238" y2="484.53" stroke="#231f20" stroke-width="1.5" />
<circle cx="255.39" cy="475.13" r="1.2" fill="white" stroke="#f7941e" stroke-width="1.1"/>
<circle cx="258.83" cy="482.87" r="1.2" fill="white" stroke="#f7941e" stroke-width="1.1"/>
<circle cx="255.39" cy="484.56" r="1.2" fill="white" stroke="#f7941e" stroke-width="1.1"/>
<circle cx="251.82" cy="485.05" r="1.2" fill="white" stroke="#f7941e" stroke-width="1.1"/>
<circle cx="255.59" cy="485.25" r="1.2" fill="white" stroke="#f7941e" stroke-width="1.1"/>
<circle cx="259.12" cy="485.46" r="1.2" fill="white" stroke="#f7941e" stroke-width="1.1"/>
<circle cx="252.07" cy="486.23" r="1.2" fill="white" stroke="#f7941e" stroke-width="1.1"/>
<circle cx="259.15" cy="487.71" r="1.2" fill="white" stroke="#f7941e" stroke-width="1.1"/>
<circle cx="255.37" cy="488.05" r="1.2" fill="white" stroke="#f7941e" stroke-width="1.1"/>
<circle cx="252.15" cy="488.05" r="1.2" fill="white" stroke="#f7941e" stroke-width="1.1"/>
<circle cx="255.28" cy="488.48" r="1.2" fill="white" stroke="#f7941e" stroke-width="1.1"/>
<circle cx="251.78" cy="490.67" r="1.2" fill="white" stroke="#f7941e" stroke-width="1.1"/>
<circle cx="258.86" cy="490.93" r="1.2" fill="white" stroke="#f7941e" stroke-width="1.1"/>
<circle cx="258.8" cy="491.08" r="1.2" fill="white" stroke="#f7941e" stroke-width="1.1"/>
<circle cx="255.27" cy="491.88" r="1.2" fill="white" stroke="#f7941e" stroke-width="1.1"/>
<circle cx="252.16" cy="492.86" r="1.2" fill="white" stroke="#f7941e" stroke-width="1.1"/>
<circle cx="255.31" cy="492.92" r="1.2" fill="white" stroke="#f7941e" stroke-width="1.1"/>
<circle cx="251.94" cy="494.04" r="1.2" fill="white" stroke="#f7941e" stroke-width="1.1"/>
<circle cx="258.79" cy="494.24" r="1.2" fill="white" stroke="#f7941e" stroke-width="1.1"/>
<circle cx="258.88" cy="494.26" r="1.2" fill="white" stroke="#f7941e" stroke-width="1.1"/>
<circle cx="255.39" cy="495.43" r="1.2" fill="white" stroke="#f7941e" stroke-width="1.1"/>
<circle cx="251.79" cy="495.75" r="1.2" fill="white" stroke="#f7941e" stroke-width="1.1"/>
<circle cx="251.88" cy="496.05" r="1.2" fill="white" stroke="#f7941e" stroke-width="1.1"/>
<circle cx="255.39" cy="496.3" r="1.2" fill="white" stroke="#f7941e" stroke-width="1.1"/>
<circle cx="255.34" cy="496.65" r="1.2" fill="white" stroke="#f7941e" stroke-width="1.1"/>
<circle cx="259.19" cy="498.14" r="1.2" fill="white" stroke="#f7941e" stroke-width="1.1"/>
<circle cx="258.96" cy="498.31" r="1.2" fill="white" stroke="#f7941e" stroke-width="1.1"/>
<circle cx="259.22" cy="498.69" r="1.2" fill="white" stroke="#f7941e" stroke-width="1.1"/>
<circle cx="255.72" cy="499.84" r="1.2" fill="white" stroke="#f7941e" stroke-width="1.1"/>
<circle cx="251.89" cy="500.38" r="1.2" fill="white" stroke="#f7941e" stroke-width="1.1"/>
<circle cx="252.1" cy="501.39" r="1.2" fill="white" stroke="#f7941e" stroke-width="1.1"/>
<circle cx="255.31" cy="501.52" r="1.2" fill="white" stroke="#f7941e" stroke-width="1.1"/>
<circle cx="259.07" cy="502.78" r="1.2" fill="white" stroke="#f7941e" stroke-width="1.1"/>
<circle cx="252.14" cy="504.68" r="1.2" fill="white" stroke="#f7941e" stroke-width="1.1"/>
<circle cx="255.68" cy="505.92" r="1.2" fill="white" stroke="#f7941e" stroke-width="1.1"/>
<circle cx="259.11" cy="507.73" r="1.2" fill="white" stroke="#f7941e" stroke-width="1.1"/>
<circle cx="255.62" cy="509.15" r="1.2" fill="white" stroke="#f7941e" stroke-width="1.1"/>
<circle cx="252.2" cy="509.73" r="1.2" fill="white" stroke="#f7941e" stroke-width="1.1"/>
<circle cx="259.21" cy="511" r="1.2" fill="white" stroke="#f7941e" stroke-width="1.1"/>
<circle cx="251.91" cy="513.11" r="1.2" fill="white" stroke="#f7941e" stroke-width="1.1"/>
<line x1="255.5" y1="487.22" x2="255.5" y2="504.03" stroke="#231f20" stroke-width="1.35" />
<line x1="252.9" y1="487.22" x2="258.1" y2="487.22" stroke="#231f20" stroke-width="1.35" />
<line x1="252.9" y1="504.03" x2="258.1" y2="504.03" stroke="#231f20" stroke-width="1.35" />
<line x1="247.5" y1="495.96" x2="263.5" y2="495.96" stroke="#231f20" stroke-width="1.5" />
<circle cx="283.65" cy="480.52" r="1.2" fill="white" stroke="#ef7676" stroke-width="1.1"/>
<circle cx="276.33" cy="482.66" r="1.2" fill="white" stroke="#ef7676" stroke-width="1.1"/>
<circle cx="280.24" cy="483.6" r="1.2" fill="white" stroke="#ef7676" stroke-width="1.1"/>
<circle cx="276.61" cy="483.63" r="1.2" fill="white" stroke="#ef7676" stroke-width="1.1"/>
<circle cx="283.75" cy="484.71" r="1.2" fill="white" stroke="#ef7676" stroke-width="1.1"/>
<circle cx="280.05" cy="484.99" r="1.2" fill="white" stroke="#ef7676" stroke-width="1.1"/>
<circle cx="283.56" cy="485.98" r="1.2" fill="white" stroke="#ef7676" stroke-width="1.1"/>
<circle cx="276.49" cy="487.76" r="1.2" fill="white" stroke="#ef7676" stroke-width="1.1"/>
<circle cx="280.21" cy="487.84" r="1.2" fill="white" stroke="#ef7676" stroke-width="1.1"/>
<circle cx="283.64" cy="488.24" r="1.2" fill="white" stroke="#ef7676" stroke-width="1.1"/>
<circle cx="276.26" cy="488.76" r="1.2" fill="white" stroke="#ef7676" stroke-width="1.1"/>
<circle cx="279.97" cy="488.94" r="1.2" fill="white" stroke="#ef7676" stroke-width="1.1"/>
<circle cx="283.57" cy="489.41" r="1.2" fill="white" stroke="#ef7676" stroke-width="1.1"/>
<circle cx="283.69" cy="490.16" r="1.2" fill="white" stroke="#ef7676" stroke-width="1.1"/>
<circle cx="276.52" cy="490.56" r="1.2" fill="white" stroke="#ef7676" stroke-width="1.1"/>
<circle cx="279.89" cy="492.85" r="1.2" fill="white" stroke="#ef7676" stroke-width="1.1"/>
<circle cx="283.63" cy="493.52" r="1.2" fill="white" stroke="#ef7676" stroke-width="1.1"/>
<circle cx="276.33" cy="494.67" r="1.2" fill="white" stroke="#ef7676" stroke-width="1.1"/>
<circle cx="276.26" cy="494.79" r="1.2" fill="white" stroke="#ef7676" stroke-width="1.1"/>
<circle cx="280.16" cy="495.25" r="1.2" fill="white" stroke="#ef7676" stroke-width="1.1"/>
<circle cx="283.33" cy="495.85" r="1.2" fill="white" stroke="#ef7676" stroke-width="1.1"/>
<circle cx="279.83" cy="495.87" r="1.2" fill="white" stroke="#ef7676" stroke-width="1.1"/>
<circle cx="276.36" cy="496.22" r="1.2" fill="white" stroke="#ef7676" stroke-width="1.1"/>
<circle cx="283.57" cy="497.03" r="1.2" fill="white" stroke="#ef7676" stroke-width="1.1"/>
<circle cx="283.47" cy="497.15" r="1.2" fill="white" stroke="#ef7676" stroke-width="1.1"/>
<circle cx="276.56" cy="497.98" r="1.2" fill="white" stroke="#ef7676" stroke-width="1.1"/>
<circle cx="280.17" cy="498.35" r="1.2" fill="white" stroke="#ef7676" stroke-width="1.1"/>
<circle cx="276.26" cy="498.7" r="1.2" fill="white" stroke="#ef7676" stroke-width="1.1"/>
<circle cx="279.75" cy="498.99" r="1.2" fill="white" stroke="#ef7676" stroke-width="1.1"/>
<circle cx="283.61" cy="499.93" r="1.2" fill="white" stroke="#ef7676" stroke-width="1.1"/>
<circle cx="283.62" cy="501.09" r="1.2" fill="white" stroke="#ef7676" stroke-width="1.1"/>
<circle cx="276.71" cy="502.79" r="1.2" fill="white" stroke="#ef7676" stroke-width="1.1"/>
<circle cx="279.76" cy="503.35" r="1.2" fill="white" stroke="#ef7676" stroke-width="1.1"/>
<circle cx="283.62" cy="504.83" r="1.2" fill="white" stroke="#ef7676" stroke-width="1.1"/>
<circle cx="280.18" cy="504.87" r="1.2" fill="white" stroke="#ef7676" stroke-width="1.1"/>
<line x1="280" y1="486.54" x2="280" y2="501.34" stroke="#231f20" stroke-width="1.35" />
<line x1="277.4" y1="486.54" x2="282.6" y2="486.54" stroke="#231f20" stroke-width="1.35" />
<line x1="277.4" y1="501.34" x2="282.6" y2="501.34" stroke="#231f20" stroke-width="1.35" />
<line x1="272" y1="494.62" x2="288" y2="494.62" stroke="#231f20" stroke-width="1.5" />
<line x1="188.35" y1="539" x2="297.6" y2="539" stroke="#231f20" stroke-width="1.3" />
<line x1="205.8" y1="539" x2="205.8" y2="543.5" stroke="#231f20" stroke-width="1.3" />
<line x1="230" y1="539" x2="230" y2="543.5" stroke="#231f20" stroke-width="1.3" />
<line x1="255.5" y1="539" x2="255.5" y2="543.5" stroke="#231f20" stroke-width="1.3" />
<line x1="280" y1="539" x2="280" y2="543.5" stroke="#231f20" stroke-width="1.3" />
<line x1="205.25" y1="431.1" x2="279.85" y2="431.1" stroke="#231f20" stroke-width="1.3" />
<line x1="205.9" y1="431.1" x2="205.9" y2="448.2" stroke="#231f20" stroke-width="1.3" />
<line x1="230.6" y1="431.1" x2="230.6" y2="439.4" stroke="#231f20" stroke-width="1.3" />
<line x1="254.9" y1="431.1" x2="254.9" y2="439.4" stroke="#231f20" stroke-width="1.3" />
<line x1="279.2" y1="431.1" x2="279.2" y2="439.4" stroke="#231f20" stroke-width="1.3" />
<text x="231.1" y="449.59" font-size="11" text-anchor="middle" letter-spacing="1.0">***</text>
<text x="254.9" y="447.7" font-size="12.8" text-anchor="middle" >ns</text>
<text x="279.2" y="447.7" font-size="12.8" text-anchor="middle" >ns</text>
<text x="208.8" y="553.5" font-size="12.3" font-style="italic" text-anchor="end" transform="rotate(-45 208.8 553.5)" >WT</text>
<text x="233" y="553.5" font-size="12.3" font-style="italic" text-anchor="end" transform="rotate(-45 233 553.5)" ><tspan font-style="normal">Δ</tspan>wzxE</text>
<text x="258.5" y="553.5" font-size="12.3" font-style="italic" text-anchor="end" transform="rotate(-45 258.5 553.5)" ><tspan font-style="normal">Δ</tspan>pdxJ</text>
<text x="283" y="553.5" font-size="12.3" font-style="italic" text-anchor="end" transform="rotate(-45 283 553.5)" ><tspan font-style="normal">Δ</tspan>fepB</text>
<ellipse cx="370" cy="61.6" rx="14.7" ry="18.5" fill="#fff"/>
<ellipse cx="377.05" cy="61.6" rx="15.85" ry="18.5" fill="#fdf9da"/>
<clipPath id="cl370"><ellipse cx="377.05" cy="61.6" rx="15.85" ry="18.5"/></clipPath>
<ellipse clip-path="url(#cl370)" cx="370" cy="61.6" rx="14.7" ry="18.5" fill="#fcf6d0"/>
<ellipse cx="370" cy="61.6" rx="14.7" ry="18.5" fill="none" stroke="#444" stroke-width="0.9"/>
<ellipse cx="377.05" cy="61.6" rx="15.85" ry="18.5" fill="none" stroke="#444" stroke-width="0.9"/>
<line x1="396" y1="62" x2="404" y2="62" stroke="#222" stroke-width="1.1" />
<path d="M408,62 L402.5,59 L404,62 L402.5,65 Z" fill="#222"/>
<ellipse cx="425.35" cy="61.3" rx="14.35" ry="18.5" fill="#fff"/>
<ellipse cx="432.3" cy="61.3" rx="15.9" ry="18.5" fill="#fdf9da"/>
<clipPath id="cl425"><ellipse cx="432.3" cy="61.3" rx="15.9" ry="18.5"/></clipPath>
<ellipse clip-path="url(#cl425)" cx="425.35" cy="61.3" rx="14.35" ry="18.5" fill="#fcf6d0"/>
<ellipse cx="425.35" cy="61.3" rx="14.35" ry="18.5" fill="none" stroke="#444" stroke-width="0.9"/>
<ellipse cx="432.3" cy="61.3" rx="15.9" ry="18.5" fill="none" stroke="#444" stroke-width="0.9"/>
<circle cx="428.5" cy="61" r="5.6" fill="none" stroke="#c9c27a" stroke-width="0.7"/>
<line x1="451" y1="62" x2="459" y2="62" stroke="#222" stroke-width="1.1" />
<path d="M463,62 L457.5,59 L459,62 L457.5,65 Z" fill="#222"/>
<line x1="467" y1="62" x2="475.6" y2="62" stroke="#222" stroke-width="1.1" />
<path d="M479.6,62 L474.1,59 L475.6,62 L474.1,65 Z" fill="#222"/>
<ellipse cx="500.7" cy="60.8" rx="14.6" ry="18.5" fill="#fff"/>
<ellipse cx="508.1" cy="60.8" rx="15.6" ry="18.5" fill="#fdf9da"/>
<clipPath id="cl500"><ellipse cx="508.1" cy="60.8" rx="15.6" ry="18.5"/></clipPath>
<ellipse clip-path="url(#cl500)" cx="500.7" cy="60.8" rx="14.6" ry="18.5" fill="#fcf6d0"/>
<ellipse cx="500.7" cy="60.8" rx="14.6" ry="18.5" fill="none" stroke="#444" stroke-width="0.9"/>
<ellipse cx="508.1" cy="60.8" rx="15.6" ry="18.5" fill="none" stroke="#444" stroke-width="0.9"/>
<circle cx="504.2" cy="60.8" r="5.8" fill="#7d7d7d" stroke="#555" stroke-width="0.6"/>
<line x1="527.4" y1="61.8" x2="535.5" y2="61.8" stroke="#222" stroke-width="1.1" />
<path d="M539.5,61.8 L534,58.8 L535.5,61.8 L534,64.8 Z" fill="#222"/>
<ellipse cx="558.4" cy="61" rx="14.4" ry="18.5" fill="#fff"/>
<ellipse cx="565.75" cy="61" rx="15.75" ry="18.5" fill="#fdf9da"/>
<clipPath id="cl558"><ellipse cx="565.75" cy="61" rx="15.75" ry="18.5"/></clipPath>
<ellipse clip-path="url(#cl558)" cx="558.4" cy="61" rx="14.4" ry="18.5" fill="#fcf6d0"/>
<ellipse cx="558.4" cy="61" rx="14.4" ry="18.5" fill="none" stroke="#444" stroke-width="0.9"/>
<ellipse cx="565.75" cy="61" rx="15.75" ry="18.5" fill="none" stroke="#444" stroke-width="0.9"/>
<circle cx="561.4" cy="61.4" r="5.5" fill="#6a6b72" stroke="#3a3a3a" stroke-width="0.6"/>
<line x1="557.5" y1="58.5" x2="560.5" y2="57.8" stroke="#333" stroke-width="0.8" />
<line x1="561.5" y1="58.2" x2="564.5" y2="59" stroke="#333" stroke-width="0.8" />
<line x1="557" y1="61.5" x2="559.5" y2="61" stroke="#333" stroke-width="0.8" />
<line x1="560" y1="61.8" x2="563.5" y2="61.2" stroke="#333" stroke-width="0.8" />
<line x1="564" y1="62" x2="565.5" y2="62.5" stroke="#333" stroke-width="0.8" />
<line x1="558" y1="64.3" x2="561" y2="64.8" stroke="#333" stroke-width="0.8" />
<line x1="562" y1="64.6" x2="564.5" y2="64" stroke="#333" stroke-width="0.8" />
<line x1="583.8" y1="62.8" x2="591.8" y2="62.8" stroke="#222" stroke-width="1.1" />
<path d="M595.8,62.8 L590.3,59.8 L591.8,62.8 L590.3,65.8 Z" fill="#222"/>
<ellipse cx="614.55" cy="60" rx="14.55" ry="18.5" fill="#fff"/>
<ellipse cx="621.7" cy="60" rx="16" ry="18.5" fill="#fdf9da"/>
<clipPath id="cl614"><ellipse cx="621.7" cy="60" rx="16" ry="18.5"/></clipPath>
<ellipse clip-path="url(#cl614)" cx="614.55" cy="60" rx="14.55" ry="18.5" fill="#fcf6d0"/>
<ellipse cx="614.55" cy="60" rx="14.55" ry="18.5" fill="none" stroke="#444" stroke-width="0.9"/>
<ellipse cx="621.7" cy="60" rx="16" ry="18.5" fill="none" stroke="#444" stroke-width="0.9"/>
<circle cx="617.9" cy="60" r="5.6" fill="#75767e" stroke="#8c8a3c" stroke-width="0.6"/>
<line x1="614" y1="57.5" x2="615.8" y2="56.8" stroke="#3a3a3a" stroke-width="0.8" />
<line x1="617.5" y1="56.5" x2="619.5" y2="55.8" stroke="#3a3a3a" stroke-width="0.8" />
<line x1="613.5" y1="60.5" x2="615.5" y2="60" stroke="#3a3a3a" stroke-width="0.8" />
<line x1="618" y1="59.5" x2="620" y2="58.8" stroke="#3a3a3a" stroke-width="0.8" />
<line x1="616" y1="62.5" x2="618" y2="63" stroke="#3a3a3a" stroke-width="0.8" />
<line x1="620" y1="61.5" x2="621.5" y2="61" stroke="#3a3a3a" stroke-width="0.8" />
<line x1="614.5" y1="63.5" x2="615.5" y2="63.8" stroke="#3a3a3a" stroke-width="0.8" />
<line x1="611" y1="54.2" x2="612.9" y2="54.7" stroke="#333" stroke-width="1" />
<line x1="614.2" y1="52.4" x2="616" y2="52.1" stroke="#333" stroke-width="1" />
<line x1="618.9" y1="52.9" x2="620.8" y2="52.4" stroke="#333" stroke-width="1" />
<line x1="625.2" y1="61.6" x2="626.8" y2="61.6" stroke="#333" stroke-width="1" />
<line x1="610.2" y1="64.7" x2="611.3" y2="63.7" stroke="#333" stroke-width="1" />
<line x1="617.1" y1="67.1" x2="618.4" y2="67.9" stroke="#333" stroke-width="1" />
<line x1="619.4" y1="69.2" x2="621.3" y2="70.5" stroke="#333" stroke-width="1" />
<rect x="584.2" y="23.4" width="11.4" height="17.8" fill="#3b3b3b" />
<rect x="585.2" y="41" width="9.6" height="3.8" fill="#3b3b3b" />
<text x="580.4" y="19.1" font-size="10.9" fill="#444" textLength="19.6" lengthAdjust="spacingAndGlyphs" >CAM</text>
<text x="409" y="19.7" font-size="12.3" fill="#222" textLength="39.2" lengthAdjust="spacingAndGlyphs" >pre-add</text>
<text x="488.4" y="20.2" font-size="12.3" fill="#222" textLength="44.8" lengthAdjust="spacingAndGlyphs" >post-add</text>
<text x="451.4" y="33.7" font-size="12.3" fill="#222" textLength="34.6" lengthAdjust="spacingAndGlyphs" >growth</text>
<text x="451.4" y="48.7" font-size="12.3" fill="#222" textLength="34.6" lengthAdjust="spacingAndGlyphs" >2 days</text>
<line x1="429" y1="26" x2="429" y2="36.5" stroke="#222" stroke-width="1.1" />
<path d="M429,40.5 L426,35 L429,36.5 L432,35 Z" fill="#222"/>
<line x1="507" y1="27.5" x2="507" y2="36" stroke="#222" stroke-width="1.1" />
<path d="M507,40 L504,34.5 L507,36 L510,34.5 Z" fill="#222"/>
<rect x="326.5" y="101.4" width="28.6" height="13.5" fill="#e6e7e8" />
<text x="340.8" y="112" font-size="11.2" font-weight="bold" text-anchor="middle" fill="#111" textLength="18.4" lengthAdjust="spacingAndGlyphs" >WT</text>
<rect x="441" y="101.1" width="30" height="13.5" fill="#e6e7e8" />
<text x="456" y="111.7" font-size="11.2" font-weight="bold" text-anchor="middle" fill="#111" textLength="18.4" lengthAdjust="spacingAndGlyphs" >WT</text>
<rect x="564.8" y="100.9" width="29.9" height="13.5" fill="#e6e7e8" />
<text x="579.75" y="111.5" font-size="11.2" font-weight="bold" text-anchor="middle" fill="#111" textLength="18.4" lengthAdjust="spacingAndGlyphs" >WT</text>
<text x="374.4" y="100.8" font-size="11.8" font-weight="bold" fill="#111" textLength="44.2" lengthAdjust="spacingAndGlyphs" >glucose</text>
<line x1="384.6" y1="221.3" x2="384.6" y2="112.8" stroke="#231f20" stroke-width="1.2" />
<line x1="380.1" y1="221.3" x2="384.6" y2="221.3" stroke="#231f20" stroke-width="1.2" />
<text x="378" y="225.6" font-size="12.2" text-anchor="end" fill="#222" >0.0</text>
<line x1="380.1" y1="199.72" x2="384.6" y2="199.72" stroke="#231f20" stroke-width="1.2" />
<text x="378" y="204.02" font-size="12.2" text-anchor="end" fill="#222" >0.2</text>
<line x1="380.1" y1="178.14" x2="384.6" y2="178.14" stroke="#231f20" stroke-width="1.2" />
<text x="378" y="182.44" font-size="12.2" text-anchor="end" fill="#222" >0.4</text>
<line x1="380.1" y1="156.56" x2="384.6" y2="156.56" stroke="#231f20" stroke-width="1.2" />
<text x="378" y="160.86" font-size="12.2" text-anchor="end" fill="#222" >0.6</text>
<line x1="380.1" y1="134.98" x2="384.6" y2="134.98" stroke="#231f20" stroke-width="1.2" />
<text x="378" y="139.28" font-size="12.2" text-anchor="end" fill="#222" >0.8</text>
<line x1="380.1" y1="113.4" x2="384.6" y2="113.4" stroke="#231f20" stroke-width="1.2" />
<text x="378" y="117.7" font-size="12.2" text-anchor="end" fill="#222" >1.0</text>
<line x1="380.1" y1="221.3" x2="427.7" y2="221.3" stroke="#231f20" stroke-width="1.2" />
<line x1="396.8" y1="221.3" x2="396.8" y2="226" stroke="#231f20" stroke-width="1.2" />
<line x1="415.1" y1="221.3" x2="415.1" y2="226" stroke="#231f20" stroke-width="1.2" />
<line x1="396.8" y1="194.33" x2="396.8" y2="201.88" stroke="#666" stroke-width="0.7" />
<line x1="396.8" y1="210.51" x2="396.8" y2="214.83" stroke="#666" stroke-width="0.7" />
<line x1="393.5" y1="194.33" x2="400.1" y2="194.33" stroke="#888" stroke-width="0.7" />
<line x1="395.2" y1="194.33" x2="398.4" y2="194.33" stroke="#222" stroke-width="0.9" />
<line x1="393.5" y1="214.83" x2="400.1" y2="214.83" stroke="#888" stroke-width="0.7" />
<line x1="395.2" y1="214.83" x2="398.4" y2="214.83" stroke="#222" stroke-width="0.9" />
<rect x="390.6" y="201.88" width="12.4" height="8.63" fill="#999999" stroke="#3a3a3a" stroke-width="0.6" />
<line x1="390.6" y1="205.12" x2="403" y2="205.12" stroke="#2a2a2a" stroke-width="0.8" />
<circle cx="396.8" cy="214.83" r="1.3" fill="none" stroke="#1e1e1e" stroke-width="0.75"/>
<circle cx="393.6" cy="213.38" r="1.3" fill="none" stroke="#1e1e1e" stroke-width="0.75"/>
<circle cx="396.8" cy="206.58" r="1.3" fill="none" stroke="#1e1e1e" stroke-width="0.75"/>
<circle cx="393.6" cy="206.57" r="1.3" fill="none" stroke="#1e1e1e" stroke-width="0.75"/>
<circle cx="396.8" cy="202.46" r="1.3" fill="none" stroke="#1e1e1e" stroke-width="0.75"/>
<circle cx="396.8" cy="198.6" r="1.3" fill="none" stroke="#1e1e1e" stroke-width="0.75"/>
<circle cx="393.6" cy="197.85" r="1.3" fill="none" stroke="#1e1e1e" stroke-width="0.75"/>
<circle cx="400" cy="196.55" r="1.3" fill="none" stroke="#1e1e1e" stroke-width="0.75"/>
<circle cx="396.8" cy="194.33" r="1.3" fill="none" stroke="#1e1e1e" stroke-width="0.75"/>
<line x1="415.1" y1="199.72" x2="415.1" y2="208.35" stroke="#666" stroke-width="0.7" />
<line x1="415.1" y1="219.14" x2="415.1" y2="220.22" stroke="#666" stroke-width="0.7" />
<line x1="411.8" y1="199.72" x2="418.4" y2="199.72" stroke="#888" stroke-width="0.7" />
<line x1="413.5" y1="199.72" x2="416.7" y2="199.72" stroke="#222" stroke-width="0.9" />
<line x1="411.8" y1="220.22" x2="418.4" y2="220.22" stroke="#888" stroke-width="0.7" />
<line x1="413.5" y1="220.22" x2="416.7" y2="220.22" stroke="#222" stroke-width="0.9" />
<rect x="408.9" y="208.35" width="12.4" height="10.79" fill="#999999" stroke="#3a3a3a" stroke-width="0.6" />
<line x1="408.9" y1="212.67" x2="421.3" y2="212.67" stroke="#2a2a2a" stroke-width="0.8" />
<circle cx="415.1" cy="220.22" r="1.3" fill="none" stroke="#1e1e1e" stroke-width="0.75"/>
<circle cx="411.9" cy="219.22" r="1.3" fill="none" stroke="#1e1e1e" stroke-width="0.75"/>
<circle cx="418.3" cy="217.04" r="1.3" fill="none" stroke="#1e1e1e" stroke-width="0.75"/>
<circle cx="415.1" cy="216.75" r="1.3" fill="none" stroke="#1e1e1e" stroke-width="0.75"/>
<circle cx="415.1" cy="211.98" r="1.3" fill="none" stroke="#1e1e1e" stroke-width="0.75"/>
<circle cx="411.9" cy="211.67" r="1.3" fill="none" stroke="#1e1e1e" stroke-width="0.75"/>
<circle cx="415.1" cy="208.66" r="1.3" fill="none" stroke="#1e1e1e" stroke-width="0.75"/>
<circle cx="415.1" cy="199.72" r="1.3" fill="none" stroke="#1e1e1e" stroke-width="0.75"/>
<line x1="396.2" y1="113.5" x2="415.7" y2="113.5" stroke="#231f20" stroke-width="1.2" />
<line x1="396.8" y1="113.5" x2="396.8" y2="134" stroke="#231f20" stroke-width="1.2" />
<line x1="415.1" y1="113.5" x2="415.1" y2="120.6" stroke="#231f20" stroke-width="1.2" />
<text x="415.6" y="131.44" font-size="11.5" text-anchor="middle" fill="#222" letter-spacing="1.0">*</text>
<text x="399.1" y="234.6" font-size="12" font-style="italic" text-anchor="end" fill="#222" transform="rotate(-45 399.1 234.6)" >-</text>
<text x="417.4" y="234.6" font-size="12" font-style="italic" text-anchor="end" fill="#222" transform="rotate(-45 417.4 234.6)" >pre</text>
<text x="508.2" y="100.8" font-size="11.8" font-weight="bold" fill="#111" textLength="21.9" lengthAdjust="spacingAndGlyphs" >Cys</text>
<line x1="496.1" y1="221.5" x2="496.1" y2="113" stroke="#231f20" stroke-width="1.2" />
<line x1="491.6" y1="221.5" x2="496.1" y2="221.5" stroke="#231f20" stroke-width="1.2" />
<text x="489.5" y="225.8" font-size="12.2" text-anchor="end" fill="#222" >0.0</text>
<line x1="491.6" y1="199.92" x2="496.1" y2="199.92" stroke="#231f20" stroke-width="1.2" />
<text x="489.5" y="204.22" font-size="12.2" text-anchor="end" fill="#222" >0.2</text>
<line x1="491.6" y1="178.34" x2="496.1" y2="178.34" stroke="#231f20" stroke-width="1.2" />
<text x="489.5" y="182.64" font-size="12.2" text-anchor="end" fill="#222" >0.4</text>
<line x1="491.6" y1="156.76" x2="496.1" y2="156.76" stroke="#231f20" stroke-width="1.2" />
<text x="489.5" y="161.06" font-size="12.2" text-anchor="end" fill="#222" >0.6</text>
<line x1="491.6" y1="135.18" x2="496.1" y2="135.18" stroke="#231f20" stroke-width="1.2" />
<text x="489.5" y="139.48" font-size="12.2" text-anchor="end" fill="#222" >0.8</text>
<line x1="491.6" y1="113.6" x2="496.1" y2="113.6" stroke="#231f20" stroke-width="1.2" />
<text x="489.5" y="117.9" font-size="12.2" text-anchor="end" fill="#222" >1.0</text>
<line x1="491.6" y1="221.5" x2="559.7" y2="221.5" stroke="#231f20" stroke-width="1.2" />
<line x1="508.5" y1="221.5" x2="508.5" y2="226.2" stroke="#231f20" stroke-width="1.2" />
<line x1="528" y1="221.5" x2="528" y2="226.2" stroke="#231f20" stroke-width="1.2" />
<line x1="547.4" y1="221.5" x2="547.4" y2="226.2" stroke="#231f20" stroke-width="1.2" />
<line x1="508.5" y1="181.58" x2="508.5" y2="186.97" stroke="#666" stroke-width="0.7" />
<line x1="508.5" y1="209.63" x2="508.5" y2="215.03" stroke="#666" stroke-width="0.7" />
<line x1="505.2" y1="181.58" x2="511.8" y2="181.58" stroke="#888" stroke-width="0.7" />
<line x1="506.9" y1="181.58" x2="510.1" y2="181.58" stroke="#222" stroke-width="0.9" />
<line x1="505.2" y1="215.03" x2="511.8" y2="215.03" stroke="#888" stroke-width="0.7" />
<line x1="506.9" y1="215.03" x2="510.1" y2="215.03" stroke="#222" stroke-width="0.9" />
<rect x="502.3" y="186.97" width="12.4" height="22.66" fill="#999999" stroke="#3a3a3a" stroke-width="0.6" />
<line x1="502.3" y1="201" x2="514.7" y2="201" stroke="#2a2a2a" stroke-width="0.8" />
<circle cx="508.5" cy="215.03" r="1.3" fill="none" stroke="#1e1e1e" stroke-width="0.75"/>
<circle cx="505.3" cy="214.21" r="1.3" fill="none" stroke="#1e1e1e" stroke-width="0.75"/>
<circle cx="511.7" cy="212.93" r="1.3" fill="none" stroke="#1e1e1e" stroke-width="0.75"/>
<circle cx="508.5" cy="207.93" r="1.3" fill="none" stroke="#1e1e1e" stroke-width="0.75"/>
<circle cx="508.5" cy="203.43" r="1.3" fill="none" stroke="#1e1e1e" stroke-width="0.75"/>
<circle cx="505.3" cy="203.34" r="1.3" fill="none" stroke="#1e1e1e" stroke-width="0.75"/>
<circle cx="511.7" cy="202.47" r="1.3" fill="none" stroke="#1e1e1e" stroke-width="0.75"/>
<circle cx="508.5" cy="197.65" r="1.3" fill="none" stroke="#1e1e1e" stroke-width="0.75"/>
<circle cx="505.3" cy="196.26" r="1.3" fill="none" stroke="#1e1e1e" stroke-width="0.75"/>
<circle cx="508.5" cy="191.15" r="1.3" fill="none" stroke="#1e1e1e" stroke-width="0.75"/>
<circle cx="508.5" cy="185.64" r="1.3" fill="none" stroke="#1e1e1e" stroke-width="0.75"/>
<circle cx="508.5" cy="181.58" r="1.3" fill="none" stroke="#1e1e1e" stroke-width="0.75"/>
<line x1="528" y1="172.94" x2="528" y2="178.34" stroke="#666" stroke-width="0.7" />
<line x1="528" y1="205.31" x2="528" y2="208.55" stroke="#666" stroke-width="0.7" />
<line x1="524.7" y1="172.94" x2="531.3" y2="172.94" stroke="#888" stroke-width="0.7" />
<line x1="526.4" y1="172.94" x2="529.6" y2="172.94" stroke="#222" stroke-width="0.9" />
<line x1="524.7" y1="208.55" x2="531.3" y2="208.55" stroke="#888" stroke-width="0.7" />
<line x1="526.4" y1="208.55" x2="529.6" y2="208.55" stroke="#222" stroke-width="0.9" />
<rect x="521.8" y="178.34" width="12.4" height="26.97" fill="#999999" stroke="#3a3a3a" stroke-width="0.6" />
<line x1="521.8" y1="188.05" x2="534.2" y2="188.05" stroke="#2a2a2a" stroke-width="0.8" />
<circle cx="528" cy="208.55" r="1.3" fill="none" stroke="#1e1e1e" stroke-width="0.75"/>
<circle cx="524.8" cy="206.95" r="1.3" fill="none" stroke="#1e1e1e" stroke-width="0.75"/>
<circle cx="528" cy="200.09" r="1.3" fill="none" stroke="#1e1e1e" stroke-width="0.75"/>
<circle cx="524.8" cy="199.12" r="1.3" fill="none" stroke="#1e1e1e" stroke-width="0.75"/>
<circle cx="531.2" cy="197.82" r="1.3" fill="none" stroke="#1e1e1e" stroke-width="0.75"/>
<circle cx="528" cy="194.09" r="1.3" fill="none" stroke="#1e1e1e" stroke-width="0.75"/>
<circle cx="528" cy="188.67" r="1.3" fill="none" stroke="#1e1e1e" stroke-width="0.75"/>
<circle cx="528" cy="177.19" r="1.3" fill="none" stroke="#1e1e1e" stroke-width="0.75"/>
<circle cx="528" cy="172.94" r="1.3" fill="none" stroke="#1e1e1e" stroke-width="0.75"/>
<line x1="547.4" y1="170.79" x2="547.4" y2="183.74" stroke="#666" stroke-width="0.7" />
<line x1="547.4" y1="206.39" x2="547.4" y2="211.79" stroke="#666" stroke-width="0.7" />
<line x1="544.1" y1="170.79" x2="550.7" y2="170.79" stroke="#888" stroke-width="0.7" />
<line x1="545.8" y1="170.79" x2="549" y2="170.79" stroke="#222" stroke-width="0.9" />
<line x1="544.1" y1="211.79" x2="550.7" y2="211.79" stroke="#888" stroke-width="0.7" />
<line x1="545.8" y1="211.79" x2="549" y2="211.79" stroke="#222" stroke-width="0.9" />
<rect x="541.2" y="183.74" width="12.4" height="22.66" fill="#999999" stroke="#3a3a3a" stroke-width="0.6" />
<line x1="541.2" y1="190.21" x2="553.6" y2="190.21" stroke="#2a2a2a" stroke-width="0.8" />
<circle cx="547.4" cy="211.79" r="1.3" fill="none" stroke="#1e1e1e" stroke-width="0.75"/>
<circle cx="547.4" cy="207.86" r="1.3" fill="none" stroke="#1e1e1e" stroke-width="0.75"/>
<circle cx="544.2" cy="207.73" r="1.3" fill="none" stroke="#1e1e1e" stroke-width="0.75"/>
<circle cx="547.4" cy="201.39" r="1.3" fill="none" stroke="#1e1e1e" stroke-width="0.75"/>
<circle cx="544.2" cy="198.43" r="1.3" fill="none" stroke="#1e1e1e" stroke-width="0.75"/>
<circle cx="547.4" cy="197.55" r="1.3" fill="none" stroke="#1e1e1e" stroke-width="0.75"/>
<circle cx="547.4" cy="192.74" r="1.3" fill="none" stroke="#1e1e1e" stroke-width="0.75"/>
<circle cx="544.2" cy="191.3" r="1.3" fill="none" stroke="#1e1e1e" stroke-width="0.75"/>
<circle cx="550.6" cy="190.55" r="1.3" fill="none" stroke="#1e1e1e" stroke-width="0.75"/>
<circle cx="547.4" cy="170.79" r="1.3" fill="none" stroke="#1e1e1e" stroke-width="0.75"/>
<line x1="507.9" y1="113.8" x2="548" y2="113.8" stroke="#231f20" stroke-width="1.2" />
<line x1="508.5" y1="113.8" x2="508.5" y2="131.4" stroke="#231f20" stroke-width="1.2" />
<line x1="528" y1="113.8" x2="528" y2="121.1" stroke="#231f20" stroke-width="1.2" />
<text x="528" y="129.5" font-size="12.4" text-anchor="middle" fill="#222" >ns</text>
<line x1="547.4" y1="113.8" x2="547.4" y2="121.1" stroke="#231f20" stroke-width="1.2" />
<text x="547.4" y="129.5" font-size="12.4" text-anchor="middle" fill="#222" >ns</text>
<text x="510.8" y="234.8" font-size="12" font-style="italic" text-anchor="end" fill="#222" transform="rotate(-45 510.8 234.8)" >-</text>
<text x="530.3" y="234.8" font-size="12" font-style="italic" text-anchor="end" fill="#222" transform="rotate(-45 530.3 234.8)" >pre</text>
<text x="549.7" y="234.8" font-size="12" font-style="italic" text-anchor="end" fill="#222" transform="rotate(-45 549.7 234.8)" >post</text>
<text x="624" y="100.8" font-size="11.8" font-weight="bold" fill="#111" textLength="25.8" lengthAdjust="spacingAndGlyphs" >OAS</text>
<line x1="620" y1="221.4" x2="620" y2="112.9" stroke="#231f20" stroke-width="1.2" />
<line x1="615.5" y1="221.4" x2="620" y2="221.4" stroke="#231f20" stroke-width="1.2" />
<text x="613.4" y="225.7" font-size="12.2" text-anchor="end" fill="#222" >0.0</text>
<line x1="615.5" y1="199.82" x2="620" y2="199.82" stroke="#231f20" stroke-width="1.2" />
<text x="613.4" y="204.12" font-size="12.2" text-anchor="end" fill="#222" >0.2</text>
<line x1="615.5" y1="178.24" x2="620" y2="178.24" stroke="#231f20" stroke-width="1.2" />
<text x="613.4" y="182.54" font-size="12.2" text-anchor="end" fill="#222" >0.4</text>
<line x1="615.5" y1="156.66" x2="620" y2="156.66" stroke="#231f20" stroke-width="1.2" />
<text x="613.4" y="160.96" font-size="12.2" text-anchor="end" fill="#222" >0.6</text>
<line x1="615.5" y1="135.08" x2="620" y2="135.08" stroke="#231f20" stroke-width="1.2" />
<text x="613.4" y="139.38" font-size="12.2" text-anchor="end" fill="#222" >0.8</text>
<line x1="615.5" y1="113.5" x2="620" y2="113.5" stroke="#231f20" stroke-width="1.2" />
<text x="613.4" y="117.8" font-size="12.2" text-anchor="end" fill="#222" >1.0</text>
<line x1="615.5" y1="221.4" x2="685" y2="221.4" stroke="#231f20" stroke-width="1.2" />
<line x1="632.8" y1="221.4" x2="632.8" y2="226.1" stroke="#231f20" stroke-width="1.2" />
<line x1="652.4" y1="221.4" x2="652.4" y2="226.1" stroke="#231f20" stroke-width="1.2" />
<line x1="671.9" y1="221.4" x2="671.9" y2="226.1" stroke="#231f20" stroke-width="1.2" />
<line x1="632.8" y1="178.24" x2="632.8" y2="187.95" stroke="#666" stroke-width="0.7" />
<line x1="632.8" y1="208.45" x2="632.8" y2="213.85" stroke="#666" stroke-width="0.7" />
<line x1="629.5" y1="178.24" x2="636.1" y2="178.24" stroke="#888" stroke-width="0.7" />
<line x1="631.2" y1="178.24" x2="634.4" y2="178.24" stroke="#222" stroke-width="0.9" />
<line x1="629.5" y1="213.85" x2="636.1" y2="213.85" stroke="#888" stroke-width="0.7" />
<line x1="631.2" y1="213.85" x2="634.4" y2="213.85" stroke="#222" stroke-width="0.9" />
<rect x="626.6" y="187.95" width="12.4" height="20.5" fill="#999999" stroke="#3a3a3a" stroke-width="0.6" />
<line x1="626.6" y1="199.82" x2="639" y2="199.82" stroke="#2a2a2a" stroke-width="0.8" />
<circle cx="632.8" cy="213.85" r="1.3" fill="none" stroke="#1e1e1e" stroke-width="0.75"/>
<circle cx="632.8" cy="210.42" r="1.3" fill="none" stroke="#1e1e1e" stroke-width="0.75"/>
<circle cx="629.6" cy="210.04" r="1.3" fill="none" stroke="#1e1e1e" stroke-width="0.75"/>
<circle cx="632.8" cy="205.82" r="1.3" fill="none" stroke="#1e1e1e" stroke-width="0.75"/>
<circle cx="629.6" cy="204.58" r="1.3" fill="none" stroke="#1e1e1e" stroke-width="0.75"/>
<circle cx="636" cy="203.99" r="1.3" fill="none" stroke="#1e1e1e" stroke-width="0.75"/>
<circle cx="632.93" cy="203.3" r="1.3" fill="none" stroke="#1e1e1e" stroke-width="0.75"/>
<circle cx="632.8" cy="198.02" r="1.3" fill="none" stroke="#1e1e1e" stroke-width="0.75"/>
<circle cx="632.8" cy="193.29" r="1.3" fill="none" stroke="#1e1e1e" stroke-width="0.75"/>
<circle cx="629.6" cy="192.2" r="1.3" fill="none" stroke="#1e1e1e" stroke-width="0.75"/>
<circle cx="632.8" cy="189.17" r="1.3" fill="none" stroke="#1e1e1e" stroke-width="0.75"/>
<circle cx="632.8" cy="178.24" r="1.3" fill="none" stroke="#1e1e1e" stroke-width="0.75"/>
<line x1="652.4" y1="172.84" x2="652.4" y2="187.95" stroke="#666" stroke-width="0.7" />
<line x1="652.4" y1="211.69" x2="652.4" y2="214.93" stroke="#666" stroke-width="0.7" />
<line x1="649.1" y1="172.84" x2="655.7" y2="172.84" stroke="#888" stroke-width="0.7" />
<line x1="650.8" y1="172.84" x2="654" y2="172.84" stroke="#222" stroke-width="0.9" />
<line x1="649.1" y1="214.93" x2="655.7" y2="214.93" stroke="#888" stroke-width="0.7" />
<line x1="650.8" y1="214.93" x2="654" y2="214.93" stroke="#222" stroke-width="0.9" />
<rect x="646.2" y="187.95" width="12.4" height="23.74" fill="#999999" stroke="#3a3a3a" stroke-width="0.6" />
<line x1="646.2" y1="203.06" x2="658.6" y2="203.06" stroke="#2a2a2a" stroke-width="0.8" />
<circle cx="652.4" cy="214.93" r="1.3" fill="none" stroke="#1e1e1e" stroke-width="0.75"/>
<circle cx="649.2" cy="214" r="1.3" fill="none" stroke="#1e1e1e" stroke-width="0.75"/>
<circle cx="652.4" cy="199.29" r="1.3" fill="none" stroke="#1e1e1e" stroke-width="0.75"/>
<circle cx="649.2" cy="197.83" r="1.3" fill="none" stroke="#1e1e1e" stroke-width="0.75"/>
<circle cx="652.4" cy="189.98" r="1.3" fill="none" stroke="#1e1e1e" stroke-width="0.75"/>
<circle cx="649.2" cy="188.7" r="1.3" fill="none" stroke="#1e1e1e" stroke-width="0.75"/>
<circle cx="652.4" cy="181.57" r="1.3" fill="none" stroke="#1e1e1e" stroke-width="0.75"/>
<circle cx="649.2" cy="178.82" r="1.3" fill="none" stroke="#1e1e1e" stroke-width="0.75"/>
<circle cx="652.4" cy="172.84" r="1.3" fill="none" stroke="#1e1e1e" stroke-width="0.75"/>
<line x1="671.9" y1="186.87" x2="671.9" y2="202.52" stroke="#666" stroke-width="0.7" />
<line x1="671.9" y1="212.77" x2="671.9" y2="217.08" stroke="#666" stroke-width="0.7" />
<line x1="668.6" y1="186.87" x2="675.2" y2="186.87" stroke="#888" stroke-width="0.7" />
<line x1="670.3" y1="186.87" x2="673.5" y2="186.87" stroke="#222" stroke-width="0.9" />
<line x1="668.6" y1="217.08" x2="675.2" y2="217.08" stroke="#888" stroke-width="0.7" />
<line x1="670.3" y1="217.08" x2="673.5" y2="217.08" stroke="#222" stroke-width="0.9" />
<rect x="665.7" y="202.52" width="12.4" height="10.25" fill="#999999" stroke="#3a3a3a" stroke-width="0.6" />
<line x1="665.7" y1="207.37" x2="678.1" y2="207.37" stroke="#2a2a2a" stroke-width="0.8" />
<circle cx="671.9" cy="217.08" r="1.3" fill="none" stroke="#1e1e1e" stroke-width="0.75"/>
<circle cx="668.7" cy="214.68" r="1.3" fill="none" stroke="#1e1e1e" stroke-width="0.75"/>
<circle cx="671.9" cy="208.15" r="1.3" fill="none" stroke="#1e1e1e" stroke-width="0.75"/>
<circle cx="668.7" cy="206.65" r="1.3" fill="none" stroke="#1e1e1e" stroke-width="0.75"/>
<circle cx="671.9" cy="204.2" r="1.3" fill="none" stroke="#1e1e1e" stroke-width="0.75"/>
<circle cx="668.7" cy="203.23" r="1.3" fill="none" stroke="#1e1e1e" stroke-width="0.75"/>
<circle cx="671.9" cy="193.25" r="1.3" fill="none" stroke="#1e1e1e" stroke-width="0.75"/>
<circle cx="668.7" cy="190.61" r="1.3" fill="none" stroke="#1e1e1e" stroke-width="0.75"/>
<circle cx="671.9" cy="186.87" r="1.3" fill="none" stroke="#1e1e1e" stroke-width="0.75"/>
<line x1="632.2" y1="113.5" x2="672.5" y2="113.5" stroke="#231f20" stroke-width="1.2" />
<line x1="632.8" y1="113.5" x2="632.8" y2="131" stroke="#231f20" stroke-width="1.2" />
<line x1="652.4" y1="113.5" x2="652.4" y2="120.8" stroke="#231f20" stroke-width="1.2" />
<text x="652.4" y="129.3" font-size="12.4" text-anchor="middle" fill="#222" >ns</text>
<line x1="671.9" y1="113.5" x2="671.9" y2="120.8" stroke="#231f20" stroke-width="1.2" />
<text x="671.9" y="129.3" font-size="12.4" text-anchor="middle" fill="#222" >ns</text>
<text x="635.1" y="234.7" font-size="12" font-style="italic" text-anchor="end" fill="#222" transform="rotate(-45 635.1 234.7)" >-</text>
<text x="654.7" y="234.7" font-size="12" font-style="italic" text-anchor="end" fill="#222" transform="rotate(-45 654.7 234.7)" >pre</text>
<text x="674.2" y="234.7" font-size="12" font-style="italic" text-anchor="end" fill="#222" transform="rotate(-45 674.2 234.7)" >post</text>
<rect x="331" y="272.8" width="29.2" height="13.1" fill="#e6e7e8" />
<text x="345.6" y="282.7" font-size="11" font-weight="bold" font-style="italic" text-anchor="middle" fill="#1ca04e" textLength="26.6" lengthAdjust="spacingAndGlyphs" ><tspan font-style="normal">Δ</tspan>crp</text>
<rect x="444" y="272.7" width="29.4" height="13.1" fill="#e6e7e8" />
<text x="458.7" y="282.6" font-size="11" font-weight="bold" font-style="italic" text-anchor="middle" fill="#1ca04e" textLength="26.6" lengthAdjust="spacingAndGlyphs" ><tspan font-style="normal">Δ</tspan>crp</text>
<rect x="567" y="272.6" width="29" height="13.3" fill="#e6e7e8" />
<text x="581.5" y="282.5" font-size="11" font-weight="bold" font-style="italic" text-anchor="middle" fill="#1ca04e" textLength="26.6" lengthAdjust="spacingAndGlyphs" ><tspan font-style="normal">Δ</tspan>crp</text>
<text x="376.9" y="269" font-size="11.8" font-weight="bold" fill="#111" textLength="44.2" lengthAdjust="spacingAndGlyphs" >glucose</text>
<line x1="384.5" y1="393.1" x2="384.5" y2="284.6" stroke="#231f20" stroke-width="1.2" />
<line x1="380" y1="393.1" x2="384.5" y2="393.1" stroke="#231f20" stroke-width="1.2" />
<text x="377.9" y="397.4" font-size="12.2" text-anchor="end" fill="#222" >0.0</text>
<line x1="380" y1="371.52" x2="384.5" y2="371.52" stroke="#231f20" stroke-width="1.2" />
<text x="377.9" y="375.82" font-size="12.2" text-anchor="end" fill="#222" >0.2</text>
<line x1="380" y1="349.94" x2="384.5" y2="349.94" stroke="#231f20" stroke-width="1.2" />
<text x="377.9" y="354.24" font-size="12.2" text-anchor="end" fill="#222" >0.4</text>
<line x1="380" y1="328.36" x2="384.5" y2="328.36" stroke="#231f20" stroke-width="1.2" />
<text x="377.9" y="332.66" font-size="12.2" text-anchor="end" fill="#222" >0.6</text>
<line x1="380" y1="306.78" x2="384.5" y2="306.78" stroke="#231f20" stroke-width="1.2" />
<text x="377.9" y="311.08" font-size="12.2" text-anchor="end" fill="#222" >0.8</text>
<line x1="380" y1="285.2" x2="384.5" y2="285.2" stroke="#231f20" stroke-width="1.2" />
<text x="377.9" y="289.5" font-size="12.2" text-anchor="end" fill="#222" >1.0</text>
<line x1="380" y1="393.1" x2="427.6" y2="393.1" stroke="#231f20" stroke-width="1.2" />
<line x1="396.5" y1="393.1" x2="396.5" y2="397.8" stroke="#231f20" stroke-width="1.2" />
<line x1="415.5" y1="393.1" x2="415.5" y2="397.8" stroke="#231f20" stroke-width="1.2" />
<line x1="396.5" y1="320.81" x2="396.5" y2="329.44" stroke="#666" stroke-width="0.7" />
<line x1="396.5" y1="347.78" x2="396.5" y2="359.65" stroke="#666" stroke-width="0.7" />
<line x1="393.2" y1="320.81" x2="399.8" y2="320.81" stroke="#888" stroke-width="0.7" />
<line x1="394.9" y1="320.81" x2="398.1" y2="320.81" stroke="#222" stroke-width="0.9" />
<line x1="393.2" y1="359.65" x2="399.8" y2="359.65" stroke="#888" stroke-width="0.7" />
<line x1="394.9" y1="359.65" x2="398.1" y2="359.65" stroke="#222" stroke-width="0.9" />
<rect x="390.3" y="329.44" width="12.4" height="18.34" fill="#0a9147" stroke="#3a3a3a" stroke-width="0.6" />
<line x1="390.3" y1="339.15" x2="402.7" y2="339.15" stroke="#2a2a2a" stroke-width="0.8" />
<circle cx="396.5" cy="359.65" r="1.3" fill="none" stroke="#1e1e1e" stroke-width="0.75"/>
<circle cx="393.3" cy="356.49" r="1.3" fill="none" stroke="#1e1e1e" stroke-width="0.75"/>
<circle cx="396.5" cy="347.48" r="1.3" fill="none" stroke="#1e1e1e" stroke-width="0.75"/>
<circle cx="396.5" cy="344.05" r="1.3" fill="none" stroke="#1e1e1e" stroke-width="0.75"/>
<circle cx="396.5" cy="339.71" r="1.3" fill="none" stroke="#1e1e1e" stroke-width="0.75"/>
<circle cx="393.3" cy="339.35" r="1.3" fill="none" stroke="#1e1e1e" stroke-width="0.75"/>
<circle cx="396.5" cy="332.14" r="1.3" fill="none" stroke="#1e1e1e" stroke-width="0.75"/>
<circle cx="396.5" cy="328.21" r="1.3" fill="none" stroke="#1e1e1e" stroke-width="0.75"/>
<circle cx="396.5" cy="320.81" r="1.3" fill="none" stroke="#1e1e1e" stroke-width="0.75"/>
<line x1="415.5" y1="372.6" x2="415.5" y2="381.23" stroke="#666" stroke-width="0.7" />
<line x1="415.5" y1="388.78" x2="415.5" y2="392.02" stroke="#666" stroke-width="0.7" />
<line x1="412.2" y1="372.6" x2="418.8" y2="372.6" stroke="#888" stroke-width="0.7" />
<line x1="413.9" y1="372.6" x2="417.1" y2="372.6" stroke="#222" stroke-width="0.9" />
<line x1="412.2" y1="392.02" x2="418.8" y2="392.02" stroke="#888" stroke-width="0.7" />
<line x1="413.9" y1="392.02" x2="417.1" y2="392.02" stroke="#222" stroke-width="0.9" />
<rect x="409.3" y="381.23" width="12.4" height="7.55" fill="#0a9147" stroke="#3a3a3a" stroke-width="0.6" />
<line x1="409.3" y1="385.55" x2="421.7" y2="385.55" stroke="#2a2a2a" stroke-width="0.8" />
<circle cx="415.5" cy="392.02" r="1.3" fill="none" stroke="#1e1e1e" stroke-width="0.75"/>
<circle cx="415.5" cy="387.73" r="1.3" fill="none" stroke="#1e1e1e" stroke-width="0.75"/>
<circle cx="412.3" cy="386.65" r="1.3" fill="none" stroke="#1e1e1e" stroke-width="0.75"/>
<circle cx="418.7" cy="386.32" r="1.3" fill="none" stroke="#1e1e1e" stroke-width="0.75"/>
<circle cx="415.5" cy="383.09" r="1.3" fill="none" stroke="#1e1e1e" stroke-width="0.75"/>
<circle cx="412.3" cy="382.25" r="1.3" fill="none" stroke="#1e1e1e" stroke-width="0.75"/>
<circle cx="415.5" cy="375.24" r="1.3" fill="none" stroke="#1e1e1e" stroke-width="0.75"/>
<circle cx="412.3" cy="372.6" r="1.3" fill="none" stroke="#1e1e1e" stroke-width="0.75"/>
<line x1="395.9" y1="284.1" x2="416.1" y2="284.1" stroke="#231f20" stroke-width="1.2" />
<line x1="396.5" y1="284.1" x2="396.5" y2="301.6" stroke="#231f20" stroke-width="1.2" />
<line x1="415.5" y1="284.1" x2="415.5" y2="294.6" stroke="#231f20" stroke-width="1.2" />
<text x="415.93" y="304.54" font-size="11.5" text-anchor="middle" fill="#222" letter-spacing="0.85">***</text>
<text x="398.8" y="406.4" font-size="12" font-style="italic" text-anchor="end" fill="#222" transform="rotate(-45 398.8 406.4)" >-</text>
<text x="417.8" y="406.4" font-size="12" font-style="italic" text-anchor="end" fill="#222" transform="rotate(-45 417.8 406.4)" >pre</text>
<text x="510.7" y="269.2" font-size="11.8" font-weight="bold" fill="#111" textLength="21.9" lengthAdjust="spacingAndGlyphs" >Cys</text>
<line x1="496.6" y1="393" x2="496.6" y2="284.5" stroke="#231f20" stroke-width="1.2" />
<line x1="492.1" y1="393" x2="496.6" y2="393" stroke="#231f20" stroke-width="1.2" />
<text x="490" y="397.3" font-size="12.2" text-anchor="end" fill="#222" >0.0</text>
<line x1="492.1" y1="371.42" x2="496.6" y2="371.42" stroke="#231f20" stroke-width="1.2" />
<text x="490" y="375.72" font-size="12.2" text-anchor="end" fill="#222" >0.2</text>
<line x1="492.1" y1="349.84" x2="496.6" y2="349.84" stroke="#231f20" stroke-width="1.2" />
<text x="490" y="354.14" font-size="12.2" text-anchor="end" fill="#222" >0.4</text>
<line x1="492.1" y1="328.26" x2="496.6" y2="328.26" stroke="#231f20" stroke-width="1.2" />
<text x="490" y="332.56" font-size="12.2" text-anchor="end" fill="#222" >0.6</text>
<line x1="492.1" y1="306.68" x2="496.6" y2="306.68" stroke="#231f20" stroke-width="1.2" />
<text x="490" y="310.98" font-size="12.2" text-anchor="end" fill="#222" >0.8</text>
<line x1="492.1" y1="285.1" x2="496.6" y2="285.1" stroke="#231f20" stroke-width="1.2" />
<text x="490" y="289.4" font-size="12.2" text-anchor="end" fill="#222" >1.0</text>
<line x1="492.1" y1="393" x2="539.7" y2="393" stroke="#231f20" stroke-width="1.2" />
<line x1="509" y1="393" x2="509" y2="397.7" stroke="#231f20" stroke-width="1.2" />
<line x1="527.5" y1="393" x2="527.5" y2="397.7" stroke="#231f20" stroke-width="1.2" />
<line x1="509" y1="312.08" x2="509" y2="329.34" stroke="#666" stroke-width="0.7" />
<line x1="509" y1="343.37" x2="509" y2="347.68" stroke="#666" stroke-width="0.7" />
<line x1="505.7" y1="312.08" x2="512.3" y2="312.08" stroke="#888" stroke-width="0.7" />
<line x1="507.4" y1="312.08" x2="510.6" y2="312.08" stroke="#222" stroke-width="0.9" />
<line x1="505.7" y1="347.68" x2="512.3" y2="347.68" stroke="#888" stroke-width="0.7" />
<line x1="507.4" y1="347.68" x2="510.6" y2="347.68" stroke="#222" stroke-width="0.9" />
<rect x="502.8" y="329.34" width="12.4" height="14.03" fill="#0a9147" stroke="#3a3a3a" stroke-width="0.6" />
<line x1="502.8" y1="335.81" x2="515.2" y2="335.81" stroke="#2a2a2a" stroke-width="0.8" />
<circle cx="509" cy="347.68" r="1.3" fill="none" stroke="#1e1e1e" stroke-width="0.75"/>
<circle cx="509" cy="343.09" r="1.3" fill="none" stroke="#1e1e1e" stroke-width="0.75"/>
<circle cx="505.8" cy="342.8" r="1.3" fill="none" stroke="#1e1e1e" stroke-width="0.75"/>
<circle cx="512.2" cy="342.3" r="1.3" fill="none" stroke="#1e1e1e" stroke-width="0.75"/>
<circle cx="509" cy="335.79" r="1.3" fill="none" stroke="#1e1e1e" stroke-width="0.75"/>
<circle cx="505.8" cy="333.82" r="1.3" fill="none" stroke="#1e1e1e" stroke-width="0.75"/>
<circle cx="509" cy="331.46" r="1.3" fill="none" stroke="#1e1e1e" stroke-width="0.75"/>
<circle cx="509" cy="322.34" r="1.3" fill="none" stroke="#1e1e1e" stroke-width="0.75"/>
<circle cx="509" cy="312.08" r="1.3" fill="none" stroke="#1e1e1e" stroke-width="0.75"/>
<line x1="527.5" y1="323.94" x2="527.5" y2="330.42" stroke="#666" stroke-width="0.7" />
<line x1="527.5" y1="342.29" x2="527.5" y2="347.68" stroke="#666" stroke-width="0.7" />
<line x1="524.2" y1="323.94" x2="530.8" y2="323.94" stroke="#888" stroke-width="0.7" />
<line x1="525.9" y1="323.94" x2="529.1" y2="323.94" stroke="#222" stroke-width="0.9" />
<line x1="524.2" y1="347.68" x2="530.8" y2="347.68" stroke="#888" stroke-width="0.7" />
<line x1="525.9" y1="347.68" x2="529.1" y2="347.68" stroke="#222" stroke-width="0.9" />
<rect x="521.3" y="330.42" width="12.4" height="11.87" fill="#0a9147" stroke="#3a3a3a" stroke-width="0.6" />
<line x1="521.3" y1="340.13" x2="533.7" y2="340.13" stroke="#2a2a2a" stroke-width="0.8" />
<circle cx="527.5" cy="347.68" r="1.3" fill="none" stroke="#1e1e1e" stroke-width="0.75"/>
<circle cx="527.5" cy="334.55" r="1.3" fill="none" stroke="#1e1e1e" stroke-width="0.75"/>
<circle cx="524.3" cy="333.89" r="1.3" fill="none" stroke="#1e1e1e" stroke-width="0.75"/>
<circle cx="530.7" cy="333.49" r="1.3" fill="none" stroke="#1e1e1e" stroke-width="0.75"/>
<circle cx="528.05" cy="332.57" r="1.3" fill="none" stroke="#1e1e1e" stroke-width="0.75"/>
<circle cx="529.52" cy="331.8" r="1.3" fill="none" stroke="#1e1e1e" stroke-width="0.75"/>
<circle cx="527.5" cy="328.2" r="1.3" fill="none" stroke="#1e1e1e" stroke-width="0.75"/>
<circle cx="524.3" cy="326.03" r="1.3" fill="none" stroke="#1e1e1e" stroke-width="0.75"/>
<circle cx="527.5" cy="323.94" r="1.3" fill="none" stroke="#1e1e1e" stroke-width="0.75"/>
<line x1="508.4" y1="285.3" x2="528.1" y2="285.3" stroke="#231f20" stroke-width="1.2" />
<line x1="509" y1="285.3" x2="509" y2="302.5" stroke="#231f20" stroke-width="1.2" />
<line x1="527.5" y1="285.3" x2="527.5" y2="295.2" stroke="#231f20" stroke-width="1.2" />
<text x="527.5" y="302.8" font-size="12.4" text-anchor="middle" fill="#222" >ns</text>
<text x="511.3" y="406.3" font-size="12" font-style="italic" text-anchor="end" fill="#222" transform="rotate(-45 511.3 406.3)" >-</text>
<text x="529.8" y="406.3" font-size="12" font-style="italic" text-anchor="end" fill="#222" transform="rotate(-45 529.8 406.3)" >pre</text>
<text x="626.4" y="268.8" font-size="11.8" font-weight="bold" fill="#111" textLength="25.5" lengthAdjust="spacingAndGlyphs" >OAS</text>
<line x1="619.2" y1="392.6" x2="619.2" y2="284.1" stroke="#231f20" stroke-width="1.2" />
<line x1="614.7" y1="392.6" x2="619.2" y2="392.6" stroke="#231f20" stroke-width="1.2" />
<text x="612.6" y="396.9" font-size="12.2" text-anchor="end" fill="#222" >0.0</text>
<line x1="614.7" y1="371.02" x2="619.2" y2="371.02" stroke="#231f20" stroke-width="1.2" />
<text x="612.6" y="375.32" font-size="12.2" text-anchor="end" fill="#222" >0.2</text>
<line x1="614.7" y1="349.44" x2="619.2" y2="349.44" stroke="#231f20" stroke-width="1.2" />
<text x="612.6" y="353.74" font-size="12.2" text-anchor="end" fill="#222" >0.4</text>
<line x1="614.7" y1="327.86" x2="619.2" y2="327.86" stroke="#231f20" stroke-width="1.2" />
<text x="612.6" y="332.16" font-size="12.2" text-anchor="end" fill="#222" >0.6</text>
<line x1="614.7" y1="306.28" x2="619.2" y2="306.28" stroke="#231f20" stroke-width="1.2" />
<text x="612.6" y="310.58" font-size="12.2" text-anchor="end" fill="#222" >0.8</text>
<line x1="614.7" y1="284.7" x2="619.2" y2="284.7" stroke="#231f20" stroke-width="1.2" />
<text x="612.6" y="289" font-size="12.2" text-anchor="end" fill="#222" >1.0</text>
<line x1="614.7" y1="392.6" x2="662.6" y2="392.6" stroke="#231f20" stroke-width="1.2" />
<line x1="631.7" y1="392.6" x2="631.7" y2="397.3" stroke="#231f20" stroke-width="1.2" />
<line x1="650.5" y1="392.6" x2="650.5" y2="397.3" stroke="#231f20" stroke-width="1.2" />
<line x1="631.7" y1="310.6" x2="631.7" y2="313.83" stroke="#666" stroke-width="0.7" />
<line x1="631.7" y1="328.94" x2="631.7" y2="350.52" stroke="#666" stroke-width="0.7" />
<line x1="628.4" y1="310.6" x2="635" y2="310.6" stroke="#888" stroke-width="0.7" />
<line x1="630.1" y1="310.6" x2="633.3" y2="310.6" stroke="#222" stroke-width="0.9" />
<line x1="628.4" y1="350.52" x2="635" y2="350.52" stroke="#888" stroke-width="0.7" />
<line x1="630.1" y1="350.52" x2="633.3" y2="350.52" stroke="#222" stroke-width="0.9" />
<rect x="625.5" y="313.83" width="12.4" height="15.11" fill="#0a9147" stroke="#3a3a3a" stroke-width="0.6" />
<line x1="625.5" y1="321.39" x2="637.9" y2="321.39" stroke="#2a2a2a" stroke-width="0.8" />
<circle cx="631.7" cy="350.52" r="1.3" fill="none" stroke="#1e1e1e" stroke-width="0.75"/>
<circle cx="631.7" cy="342.03" r="1.3" fill="none" stroke="#1e1e1e" stroke-width="0.75"/>
<circle cx="631.7" cy="326.02" r="1.3" fill="none" stroke="#1e1e1e" stroke-width="0.75"/>
<circle cx="628.5" cy="324.76" r="1.3" fill="none" stroke="#1e1e1e" stroke-width="0.75"/>
<circle cx="634.9" cy="324.38" r="1.3" fill="none" stroke="#1e1e1e" stroke-width="0.75"/>
<circle cx="631.7" cy="321.53" r="1.3" fill="none" stroke="#1e1e1e" stroke-width="0.75"/>
<circle cx="628.5" cy="318.91" r="1.3" fill="none" stroke="#1e1e1e" stroke-width="0.75"/>
<circle cx="631.7" cy="318.3" r="1.3" fill="none" stroke="#1e1e1e" stroke-width="0.75"/>
<circle cx="631.7" cy="313.08" r="1.3" fill="none" stroke="#1e1e1e" stroke-width="0.75"/>
<circle cx="628.5" cy="313.07" r="1.3" fill="none" stroke="#1e1e1e" stroke-width="0.75"/>
<circle cx="634.9" cy="310.6" r="1.3" fill="none" stroke="#1e1e1e" stroke-width="0.75"/>
<line x1="650.5" y1="303.04" x2="650.5" y2="323.54" stroke="#666" stroke-width="0.7" />
<line x1="650.5" y1="344.05" x2="650.5" y2="344.05" stroke="#666" stroke-width="0.7" />
<line x1="647.2" y1="303.04" x2="653.8" y2="303.04" stroke="#888" stroke-width="0.7" />
<line x1="648.9" y1="303.04" x2="652.1" y2="303.04" stroke="#222" stroke-width="0.9" />
<line x1="647.2" y1="344.05" x2="653.8" y2="344.05" stroke="#888" stroke-width="0.7" />
<line x1="648.9" y1="344.05" x2="652.1" y2="344.05" stroke="#222" stroke-width="0.9" />
<rect x="644.3" y="323.54" width="12.4" height="20.5" fill="#0a9147" stroke="#3a3a3a" stroke-width="0.6" />
<line x1="644.3" y1="328.94" x2="656.7" y2="328.94" stroke="#2a2a2a" stroke-width="0.8" />
<circle cx="650.5" cy="344.05" r="1.3" fill="none" stroke="#1e1e1e" stroke-width="0.75"/>
<circle cx="647.3" cy="344.05" r="1.3" fill="none" stroke="#1e1e1e" stroke-width="0.75"/>
<circle cx="653.7" cy="342.13" r="1.3" fill="none" stroke="#1e1e1e" stroke-width="0.75"/>
<circle cx="650.5" cy="340.36" r="1.3" fill="none" stroke="#1e1e1e" stroke-width="0.75"/>
<circle cx="650.5" cy="334.79" r="1.3" fill="none" stroke="#1e1e1e" stroke-width="0.75"/>
<circle cx="650.5" cy="328.4" r="1.3" fill="none" stroke="#1e1e1e" stroke-width="0.75"/>
<circle cx="647.3" cy="327.2" r="1.3" fill="none" stroke="#1e1e1e" stroke-width="0.75"/>
<circle cx="650.5" cy="322.21" r="1.3" fill="none" stroke="#1e1e1e" stroke-width="0.75"/>
<circle cx="650.5" cy="303.04" r="1.3" fill="none" stroke="#1e1e1e" stroke-width="0.75"/>
<line x1="631.1" y1="283.5" x2="651.1" y2="283.5" stroke="#231f20" stroke-width="1.2" />
<line x1="631.7" y1="283.5" x2="631.7" y2="301.1" stroke="#231f20" stroke-width="1.2" />
<line x1="650.5" y1="283.5" x2="650.5" y2="293.4" stroke="#231f20" stroke-width="1.2" />
<text x="650.5" y="301.1" font-size="12.4" text-anchor="middle" fill="#222" >ns</text>
<text x="634" y="405.9" font-size="12" font-style="italic" text-anchor="end" fill="#222" transform="rotate(-45 634 405.9)" >-</text>
<text x="652.8" y="405.9" font-size="12" font-style="italic" text-anchor="end" fill="#222" transform="rotate(-45 652.8 405.9)" >pre</text>
<rect x="323.3" y="441.1" width="39.4" height="13.4" fill="#e6e7e8" />
<text x="343" y="451.6" font-size="11.6" font-weight="bold" font-style="italic" text-anchor="middle" fill="#8d45ad" textLength="35.6" lengthAdjust="spacingAndGlyphs" ><tspan font-style="normal">Δ</tspan>cysE</text>
<rect x="435" y="441.5" width="38.3" height="13.2" fill="#e6e7e8" />
<text x="454.15" y="452" font-size="11.6" font-weight="bold" font-style="italic" text-anchor="middle" fill="#8d45ad" textLength="35.6" lengthAdjust="spacingAndGlyphs" ><tspan font-style="normal">Δ</tspan>cysE</text>
<rect x="559.3" y="441.2" width="38.3" height="13.6" fill="#e6e7e8" />
<text x="578.45" y="451.7" font-size="11.6" font-weight="bold" font-style="italic" text-anchor="middle" fill="#8d45ad" textLength="35.6" lengthAdjust="spacingAndGlyphs" ><tspan font-style="normal">Δ</tspan>cysE</text>
<text x="375.3" y="436.5" font-size="11.8" font-weight="bold" fill="#111" textLength="44" lengthAdjust="spacingAndGlyphs" >glucose</text>
<line x1="385.3" y1="561.9" x2="385.3" y2="453.4" stroke="#231f20" stroke-width="1.2" />
<line x1="380.8" y1="561.9" x2="385.3" y2="561.9" stroke="#231f20" stroke-width="1.2" />
<text x="378.7" y="566.2" font-size="12.2" text-anchor="end" fill="#222" >0.0</text>
<line x1="380.8" y1="540.32" x2="385.3" y2="540.32" stroke="#231f20" stroke-width="1.2" />
<text x="378.7" y="544.62" font-size="12.2" text-anchor="end" fill="#222" >0.2</text>
<line x1="380.8" y1="518.74" x2="385.3" y2="518.74" stroke="#231f20" stroke-width="1.2" />
<text x="378.7" y="523.04" font-size="12.2" text-anchor="end" fill="#222" >0.4</text>
<line x1="380.8" y1="497.16" x2="385.3" y2="497.16" stroke="#231f20" stroke-width="1.2" />
<text x="378.7" y="501.46" font-size="12.2" text-anchor="end" fill="#222" >0.6</text>
<line x1="380.8" y1="475.58" x2="385.3" y2="475.58" stroke="#231f20" stroke-width="1.2" />
<text x="378.7" y="479.88" font-size="12.2" text-anchor="end" fill="#222" >0.8</text>
<line x1="380.8" y1="454" x2="385.3" y2="454" stroke="#231f20" stroke-width="1.2" />
<text x="378.7" y="458.3" font-size="12.2" text-anchor="end" fill="#222" >1.0</text>
<line x1="380.8" y1="561.9" x2="428.4" y2="561.9" stroke="#231f20" stroke-width="1.2" />
<line x1="397.6" y1="561.9" x2="397.6" y2="566.6" stroke="#231f20" stroke-width="1.2" />
<line x1="416.3" y1="561.9" x2="416.3" y2="566.6" stroke="#231f20" stroke-width="1.2" />
<line x1="397.6" y1="493.92" x2="397.6" y2="504.17" stroke="#666" stroke-width="0.7" />
<line x1="397.6" y1="511.73" x2="397.6" y2="524.13" stroke="#666" stroke-width="0.7" />
<line x1="394.3" y1="493.92" x2="400.9" y2="493.92" stroke="#888" stroke-width="0.7" />
<line x1="396" y1="493.92" x2="399.2" y2="493.92" stroke="#222" stroke-width="0.9" />
<line x1="394.3" y1="524.13" x2="400.9" y2="524.13" stroke="#888" stroke-width="0.7" />
<line x1="396" y1="524.13" x2="399.2" y2="524.13" stroke="#222" stroke-width="0.9" />
<rect x="391.4" y="504.17" width="12.4" height="7.55" fill="#7859a7" stroke="#3a3a3a" stroke-width="0.6" />
<line x1="391.4" y1="507.95" x2="403.8" y2="507.95" stroke="#2a2a2a" stroke-width="0.8" />
<circle cx="397.6" cy="524.13" r="1.3" fill="none" stroke="#1e1e1e" stroke-width="0.75"/>
<circle cx="397.6" cy="510.51" r="1.3" fill="none" stroke="#1e1e1e" stroke-width="0.75"/>
<circle cx="394.4" cy="509.87" r="1.3" fill="none" stroke="#1e1e1e" stroke-width="0.75"/>
<circle cx="400.8" cy="509.12" r="1.3" fill="none" stroke="#1e1e1e" stroke-width="0.75"/>
<circle cx="398.42" cy="509.11" r="1.3" fill="none" stroke="#1e1e1e" stroke-width="0.75"/>
<circle cx="396.3" cy="508.95" r="1.3" fill="none" stroke="#1e1e1e" stroke-width="0.75"/>
<circle cx="397.6" cy="505.17" r="1.3" fill="none" stroke="#1e1e1e" stroke-width="0.75"/>
<circle cx="397.6" cy="499.83" r="1.3" fill="none" stroke="#1e1e1e" stroke-width="0.75"/>
<circle cx="397.6" cy="493.92" r="1.3" fill="none" stroke="#1e1e1e" stroke-width="0.75"/>
<line x1="416.3" y1="511.19" x2="416.3" y2="516.58" stroke="#666" stroke-width="0.7" />
<line x1="416.3" y1="534.92" x2="416.3" y2="545.72" stroke="#666" stroke-width="0.7" />
<line x1="413" y1="511.19" x2="419.6" y2="511.19" stroke="#888" stroke-width="0.7" />
<line x1="414.7" y1="511.19" x2="417.9" y2="511.19" stroke="#222" stroke-width="0.9" />
<line x1="413" y1="545.72" x2="419.6" y2="545.72" stroke="#888" stroke-width="0.7" />
<line x1="414.7" y1="545.72" x2="417.9" y2="545.72" stroke="#222" stroke-width="0.9" />
<rect x="410.1" y="516.58" width="12.4" height="18.34" fill="#7859a7" stroke="#3a3a3a" stroke-width="0.6" />
<line x1="410.1" y1="527.37" x2="422.5" y2="527.37" stroke="#2a2a2a" stroke-width="0.8" />
<circle cx="416.3" cy="545.72" r="1.3" fill="none" stroke="#1e1e1e" stroke-width="0.75"/>
<circle cx="416.3" cy="526.74" r="1.3" fill="none" stroke="#1e1e1e" stroke-width="0.75"/>
<circle cx="413.1" cy="526.5" r="1.3" fill="none" stroke="#1e1e1e" stroke-width="0.75"/>
<circle cx="416.3" cy="522.67" r="1.3" fill="none" stroke="#1e1e1e" stroke-width="0.75"/>
<circle cx="413.1" cy="520.26" r="1.3" fill="none" stroke="#1e1e1e" stroke-width="0.75"/>
<circle cx="416.3" cy="517.49" r="1.3" fill="none" stroke="#1e1e1e" stroke-width="0.75"/>
<circle cx="419.5" cy="517.28" r="1.3" fill="none" stroke="#1e1e1e" stroke-width="0.75"/>
<circle cx="415.45" cy="517.11" r="1.3" fill="none" stroke="#1e1e1e" stroke-width="0.75"/>
<circle cx="418.82" cy="514.91" r="1.3" fill="none" stroke="#1e1e1e" stroke-width="0.75"/>
<circle cx="416.3" cy="511.19" r="1.3" fill="none" stroke="#1e1e1e" stroke-width="0.75"/>
<line x1="397" y1="454.3" x2="416.9" y2="454.3" stroke="#231f20" stroke-width="1.2" />
<line x1="397.6" y1="454.3" x2="397.6" y2="471.6" stroke="#231f20" stroke-width="1.2" />
<line x1="416.3" y1="454.3" x2="416.3" y2="461.7" stroke="#231f20" stroke-width="1.2" />
<text x="416.8" y="470.83" font-size="11.5" text-anchor="middle" fill="#222" letter-spacing="1.0">**</text>
<text x="399.9" y="575.2" font-size="12" font-style="italic" text-anchor="end" fill="#222" transform="rotate(-45 399.9 575.2)" >-</text>
<text x="418.6" y="575.2" font-size="12" font-style="italic" text-anchor="end" fill="#222" transform="rotate(-45 418.6 575.2)" >pre</text>
<text x="509" y="436.8" font-size="11.8" font-weight="bold" fill="#111" textLength="21.9" lengthAdjust="spacingAndGlyphs" >Cys</text>
<line x1="496.6" y1="562.2" x2="496.6" y2="453.7" stroke="#231f20" stroke-width="1.2" />
<line x1="492.1" y1="562.2" x2="496.6" y2="562.2" stroke="#231f20" stroke-width="1.2" />
<text x="490" y="566.5" font-size="12.2" text-anchor="end" fill="#222" >0.0</text>
<line x1="492.1" y1="540.62" x2="496.6" y2="540.62" stroke="#231f20" stroke-width="1.2" />
<text x="490" y="544.92" font-size="12.2" text-anchor="end" fill="#222" >0.2</text>
<line x1="492.1" y1="519.04" x2="496.6" y2="519.04" stroke="#231f20" stroke-width="1.2" />
<text x="490" y="523.34" font-size="12.2" text-anchor="end" fill="#222" >0.4</text>
<line x1="492.1" y1="497.46" x2="496.6" y2="497.46" stroke="#231f20" stroke-width="1.2" />
<text x="490" y="501.76" font-size="12.2" text-anchor="end" fill="#222" >0.6</text>
<line x1="492.1" y1="475.88" x2="496.6" y2="475.88" stroke="#231f20" stroke-width="1.2" />
<text x="490" y="480.18" font-size="12.2" text-anchor="end" fill="#222" >0.8</text>
<line x1="492.1" y1="454.3" x2="496.6" y2="454.3" stroke="#231f20" stroke-width="1.2" />
<text x="490" y="458.6" font-size="12.2" text-anchor="end" fill="#222" >1.0</text>
<line x1="492.1" y1="562.2" x2="561.7" y2="562.2" stroke="#231f20" stroke-width="1.2" />
<line x1="509.8" y1="562.2" x2="509.8" y2="566.9" stroke="#231f20" stroke-width="1.2" />
<line x1="528.9" y1="562.2" x2="528.9" y2="566.9" stroke="#231f20" stroke-width="1.2" />
<line x1="548.4" y1="562.2" x2="548.4" y2="566.9" stroke="#231f20" stroke-width="1.2" />
<line x1="509.8" y1="490.99" x2="509.8" y2="500.7" stroke="#666" stroke-width="0.7" />
<line x1="509.8" y1="516.88" x2="509.8" y2="538.46" stroke="#666" stroke-width="0.7" />
<line x1="506.5" y1="490.99" x2="513.1" y2="490.99" stroke="#888" stroke-width="0.7" />
<line x1="508.2" y1="490.99" x2="511.4" y2="490.99" stroke="#222" stroke-width="0.9" />
<line x1="506.5" y1="538.46" x2="513.1" y2="538.46" stroke="#888" stroke-width="0.7" />
<line x1="508.2" y1="538.46" x2="511.4" y2="538.46" stroke="#222" stroke-width="0.9" />
<rect x="503.6" y="500.7" width="12.4" height="16.19" fill="#7859a7" stroke="#3a3a3a" stroke-width="0.6" />
<line x1="503.6" y1="505.01" x2="516" y2="505.01" stroke="#2a2a2a" stroke-width="0.8" />
<circle cx="509.8" cy="538.46" r="1.3" fill="none" stroke="#1e1e1e" stroke-width="0.75"/>
<circle cx="509.8" cy="524.22" r="1.3" fill="none" stroke="#1e1e1e" stroke-width="0.75"/>
<circle cx="509.8" cy="514.26" r="1.3" fill="none" stroke="#1e1e1e" stroke-width="0.75"/>
<circle cx="506.6" cy="513.82" r="1.3" fill="none" stroke="#1e1e1e" stroke-width="0.75"/>
<circle cx="513" cy="513.42" r="1.3" fill="none" stroke="#1e1e1e" stroke-width="0.75"/>
<circle cx="510.23" cy="512.24" r="1.3" fill="none" stroke="#1e1e1e" stroke-width="0.75"/>
<circle cx="507.19" cy="512.02" r="1.3" fill="none" stroke="#1e1e1e" stroke-width="0.75"/>
<circle cx="507.78" cy="511.9" r="1.3" fill="none" stroke="#1e1e1e" stroke-width="0.75"/>
<circle cx="508.01" cy="510.89" r="1.3" fill="none" stroke="#1e1e1e" stroke-width="0.75"/>
<circle cx="510.54" cy="510.05" r="1.3" fill="none" stroke="#1e1e1e" stroke-width="0.75"/>
<circle cx="512.89" cy="509.26" r="1.3" fill="none" stroke="#1e1e1e" stroke-width="0.75"/>
<circle cx="509.8" cy="504.1" r="1.3" fill="none" stroke="#1e1e1e" stroke-width="0.75"/>
<circle cx="506.6" cy="502.84" r="1.3" fill="none" stroke="#1e1e1e" stroke-width="0.75"/>
<circle cx="509.8" cy="492.66" r="1.3" fill="none" stroke="#1e1e1e" stroke-width="0.75"/>
<circle cx="506.6" cy="492.46" r="1.3" fill="none" stroke="#1e1e1e" stroke-width="0.75"/>
<circle cx="513" cy="490.99" r="1.3" fill="none" stroke="#1e1e1e" stroke-width="0.75"/>
<line x1="528.9" y1="516.88" x2="528.9" y2="528.75" stroke="#666" stroke-width="0.7" />
<line x1="528.9" y1="543.86" x2="528.9" y2="548.17" stroke="#666" stroke-width="0.7" />
<line x1="525.6" y1="516.88" x2="532.2" y2="516.88" stroke="#888" stroke-width="0.7" />
<line x1="527.3" y1="516.88" x2="530.5" y2="516.88" stroke="#222" stroke-width="0.9" />
<line x1="525.6" y1="548.17" x2="532.2" y2="548.17" stroke="#888" stroke-width="0.7" />
<line x1="527.3" y1="548.17" x2="530.5" y2="548.17" stroke="#222" stroke-width="0.9" />
<rect x="522.7" y="528.75" width="12.4" height="15.11" fill="#7859a7" stroke="#3a3a3a" stroke-width="0.6" />
<line x1="522.7" y1="537.38" x2="535.1" y2="537.38" stroke="#2a2a2a" stroke-width="0.8" />
<circle cx="528.9" cy="548.17" r="1.3" fill="none" stroke="#1e1e1e" stroke-width="0.75"/>
<circle cx="525.7" cy="547.51" r="1.3" fill="none" stroke="#1e1e1e" stroke-width="0.75"/>
<circle cx="528.9" cy="539.49" r="1.3" fill="none" stroke="#1e1e1e" stroke-width="0.75"/>
<circle cx="525.7" cy="539" r="1.3" fill="none" stroke="#1e1e1e" stroke-width="0.75"/>
<circle cx="532.1" cy="537.27" r="1.3" fill="none" stroke="#1e1e1e" stroke-width="0.75"/>
<circle cx="528.9" cy="535.81" r="1.3" fill="none" stroke="#1e1e1e" stroke-width="0.75"/>
<circle cx="525.7" cy="532.82" r="1.3" fill="none" stroke="#1e1e1e" stroke-width="0.75"/>
<circle cx="532.1" cy="532.64" r="1.3" fill="none" stroke="#1e1e1e" stroke-width="0.75"/>
<circle cx="528.9" cy="525.7" r="1.3" fill="none" stroke="#1e1e1e" stroke-width="0.75"/>
<circle cx="528.9" cy="516.88" r="1.3" fill="none" stroke="#1e1e1e" stroke-width="0.75"/>
<line x1="548.4" y1="531.99" x2="548.4" y2="537.38" stroke="#666" stroke-width="0.7" />
<line x1="548.4" y1="544.94" x2="548.4" y2="551.41" stroke="#666" stroke-width="0.7" />
<line x1="545.1" y1="531.99" x2="551.7" y2="531.99" stroke="#888" stroke-width="0.7" />
<line x1="546.8" y1="531.99" x2="550" y2="531.99" stroke="#222" stroke-width="0.9" />
<line x1="545.1" y1="551.41" x2="551.7" y2="551.41" stroke="#888" stroke-width="0.7" />
<line x1="546.8" y1="551.41" x2="550" y2="551.41" stroke="#222" stroke-width="0.9" />
<rect x="542.2" y="537.38" width="12.4" height="7.55" fill="#7859a7" stroke="#3a3a3a" stroke-width="0.6" />
<line x1="542.2" y1="542.78" x2="554.6" y2="542.78" stroke="#2a2a2a" stroke-width="0.8" />
<circle cx="548.4" cy="551.41" r="1.3" fill="none" stroke="#1e1e1e" stroke-width="0.75"/>
<circle cx="545.2" cy="550.16" r="1.3" fill="none" stroke="#1e1e1e" stroke-width="0.75"/>
<circle cx="548.4" cy="546.95" r="1.3" fill="none" stroke="#1e1e1e" stroke-width="0.75"/>
<circle cx="545.2" cy="546.46" r="1.3" fill="none" stroke="#1e1e1e" stroke-width="0.75"/>
<circle cx="551.6" cy="543.82" r="1.3" fill="none" stroke="#1e1e1e" stroke-width="0.75"/>
<circle cx="549.66" cy="543.77" r="1.3" fill="none" stroke="#1e1e1e" stroke-width="0.75"/>
<circle cx="545.2" cy="541.6" r="1.3" fill="none" stroke="#1e1e1e" stroke-width="0.75"/>
<circle cx="548.4" cy="539.98" r="1.3" fill="none" stroke="#1e1e1e" stroke-width="0.75"/>
<circle cx="551.6" cy="538.47" r="1.3" fill="none" stroke="#1e1e1e" stroke-width="0.75"/>
<circle cx="548.4" cy="531.99" r="1.3" fill="none" stroke="#1e1e1e" stroke-width="0.75"/>
<line x1="509.2" y1="453.6" x2="549" y2="453.6" stroke="#231f20" stroke-width="1.2" />
<line x1="509.8" y1="453.6" x2="509.8" y2="473.5" stroke="#231f20" stroke-width="1.2" />
<line x1="528.9" y1="453.6" x2="528.9" y2="460.6" stroke="#231f20" stroke-width="1.2" />
<text x="529.32" y="470.94" font-size="11.5" text-anchor="middle" fill="#222" letter-spacing="0.85">***</text>
<line x1="548.4" y1="453.6" x2="548.4" y2="460.6" stroke="#231f20" stroke-width="1.2" />
<text x="548.82" y="470.94" font-size="11.5" text-anchor="middle" fill="#222" letter-spacing="0.85">***</text>
<text x="512.1" y="575.5" font-size="12" font-style="italic" text-anchor="end" fill="#222" transform="rotate(-45 512.1 575.5)" >-</text>
<text x="531.2" y="575.5" font-size="12" font-style="italic" text-anchor="end" fill="#222" transform="rotate(-45 531.2 575.5)" >pre</text>
<text x="550.7" y="575.5" font-size="12" font-style="italic" text-anchor="end" fill="#222" transform="rotate(-45 550.7 575.5)" >post</text>
<text x="624.7" y="436.8" font-size="11.8" font-weight="bold" fill="#111" textLength="25.3" lengthAdjust="spacingAndGlyphs" >OAS</text>
<line x1="619.5" y1="562.3" x2="619.5" y2="453.8" stroke="#231f20" stroke-width="1.2" />
<line x1="615" y1="562.3" x2="619.5" y2="562.3" stroke="#231f20" stroke-width="1.2" />
<text x="612.9" y="566.6" font-size="12.2" text-anchor="end" fill="#222" >0.0</text>
<line x1="615" y1="540.72" x2="619.5" y2="540.72" stroke="#231f20" stroke-width="1.2" />
<text x="612.9" y="545.02" font-size="12.2" text-anchor="end" fill="#222" >0.2</text>
<line x1="615" y1="519.14" x2="619.5" y2="519.14" stroke="#231f20" stroke-width="1.2" />
<text x="612.9" y="523.44" font-size="12.2" text-anchor="end" fill="#222" >0.4</text>
<line x1="615" y1="497.56" x2="619.5" y2="497.56" stroke="#231f20" stroke-width="1.2" />
<text x="612.9" y="501.86" font-size="12.2" text-anchor="end" fill="#222" >0.6</text>
<line x1="615" y1="475.98" x2="619.5" y2="475.98" stroke="#231f20" stroke-width="1.2" />
<text x="612.9" y="480.28" font-size="12.2" text-anchor="end" fill="#222" >0.8</text>
<line x1="615" y1="454.4" x2="619.5" y2="454.4" stroke="#231f20" stroke-width="1.2" />
<text x="612.9" y="458.7" font-size="12.2" text-anchor="end" fill="#222" >1.0</text>
<line x1="615" y1="562.3" x2="684.5" y2="562.3" stroke="#231f20" stroke-width="1.2" />
<line x1="632.4" y1="562.3" x2="632.4" y2="567" stroke="#231f20" stroke-width="1.2" />
<line x1="651.9" y1="562.3" x2="651.9" y2="567" stroke="#231f20" stroke-width="1.2" />
<line x1="671.5" y1="562.3" x2="671.5" y2="567" stroke="#231f20" stroke-width="1.2" />
<line x1="632.4" y1="486.77" x2="632.4" y2="501.34" stroke="#666" stroke-width="0.7" />
<line x1="632.4" y1="519.68" x2="632.4" y2="526.69" stroke="#666" stroke-width="0.7" />
<line x1="629.1" y1="486.77" x2="635.7" y2="486.77" stroke="#888" stroke-width="0.7" />
<line x1="630.8" y1="486.77" x2="634" y2="486.77" stroke="#222" stroke-width="0.9" />
<line x1="629.1" y1="526.69" x2="635.7" y2="526.69" stroke="#888" stroke-width="0.7" />
<line x1="630.8" y1="526.69" x2="634" y2="526.69" stroke="#222" stroke-width="0.9" />
<rect x="626.2" y="501.34" width="12.4" height="18.34" fill="#7859a7" stroke="#3a3a3a" stroke-width="0.6" />
<line x1="626.2" y1="509.43" x2="638.6" y2="509.43" stroke="#2a2a2a" stroke-width="0.8" />
<circle cx="632.4" cy="526.69" r="1.3" fill="none" stroke="#1e1e1e" stroke-width="0.75"/>
<circle cx="632.4" cy="521.52" r="1.3" fill="none" stroke="#1e1e1e" stroke-width="0.75"/>
<circle cx="629.2" cy="519.25" r="1.3" fill="none" stroke="#1e1e1e" stroke-width="0.75"/>
<circle cx="632.4" cy="518.02" r="1.3" fill="none" stroke="#1e1e1e" stroke-width="0.75"/>
<circle cx="629.2" cy="515.02" r="1.3" fill="none" stroke="#1e1e1e" stroke-width="0.75"/>
<circle cx="632.4" cy="513.77" r="1.3" fill="none" stroke="#1e1e1e" stroke-width="0.75"/>
<circle cx="629.2" cy="510.88" r="1.3" fill="none" stroke="#1e1e1e" stroke-width="0.75"/>
<circle cx="635.6" cy="510.86" r="1.3" fill="none" stroke="#1e1e1e" stroke-width="0.75"/>
<circle cx="632.4" cy="508.24" r="1.3" fill="none" stroke="#1e1e1e" stroke-width="0.75"/>
<circle cx="631.94" cy="508.13" r="1.3" fill="none" stroke="#1e1e1e" stroke-width="0.75"/>
<circle cx="635.6" cy="505.25" r="1.3" fill="none" stroke="#1e1e1e" stroke-width="0.75"/>
<circle cx="632.4" cy="503.98" r="1.3" fill="none" stroke="#1e1e1e" stroke-width="0.75"/>
<circle cx="629.2" cy="503.27" r="1.3" fill="none" stroke="#1e1e1e" stroke-width="0.75"/>
<circle cx="632.4" cy="498.88" r="1.3" fill="none" stroke="#1e1e1e" stroke-width="0.75"/>
<circle cx="632.4" cy="486.77" r="1.3" fill="none" stroke="#1e1e1e" stroke-width="0.75"/>
<line x1="651.9" y1="528.85" x2="651.9" y2="539.1" stroke="#666" stroke-width="0.7" />
<line x1="651.9" y1="560.14" x2="651.9" y2="562.3" stroke="#666" stroke-width="0.7" />
<line x1="648.6" y1="528.85" x2="655.2" y2="528.85" stroke="#888" stroke-width="0.7" />
<line x1="650.3" y1="528.85" x2="653.5" y2="528.85" stroke="#222" stroke-width="0.9" />
<line x1="648.6" y1="562.3" x2="655.2" y2="562.3" stroke="#888" stroke-width="0.7" />
<line x1="650.3" y1="562.3" x2="653.5" y2="562.3" stroke="#222" stroke-width="0.9" />
<rect x="645.7" y="539.1" width="12.4" height="21.04" fill="#7859a7" stroke="#3a3a3a" stroke-width="0.6" />
<line x1="645.7" y1="551.51" x2="658.1" y2="551.51" stroke="#2a2a2a" stroke-width="0.8" />
<circle cx="651.9" cy="562.3" r="1.3" fill="none" stroke="#1e1e1e" stroke-width="0.75"/>
<circle cx="648.7" cy="562.23" r="1.3" fill="none" stroke="#1e1e1e" stroke-width="0.75"/>
<circle cx="655.1" cy="561.32" r="1.3" fill="none" stroke="#1e1e1e" stroke-width="0.75"/>
<circle cx="650.01" cy="560.31" r="1.3" fill="none" stroke="#1e1e1e" stroke-width="0.75"/>
<circle cx="648.75" cy="560.19" r="1.3" fill="none" stroke="#1e1e1e" stroke-width="0.75"/>
<circle cx="655.1" cy="557.5" r="1.3" fill="none" stroke="#1e1e1e" stroke-width="0.75"/>
<circle cx="651.9" cy="555.42" r="1.3" fill="none" stroke="#1e1e1e" stroke-width="0.75"/>
<circle cx="651.9" cy="550.84" r="1.3" fill="none" stroke="#1e1e1e" stroke-width="0.75"/>
<circle cx="651.9" cy="540.03" r="1.3" fill="none" stroke="#1e1e1e" stroke-width="0.75"/>
<circle cx="648.7" cy="539.79" r="1.3" fill="none" stroke="#1e1e1e" stroke-width="0.75"/>
<circle cx="655.1" cy="539.77" r="1.3" fill="none" stroke="#1e1e1e" stroke-width="0.75"/>
<circle cx="651.9" cy="535.58" r="1.3" fill="none" stroke="#1e1e1e" stroke-width="0.75"/>
<circle cx="651.9" cy="532.29" r="1.3" fill="none" stroke="#1e1e1e" stroke-width="0.75"/>
<circle cx="648.7" cy="529.83" r="1.3" fill="none" stroke="#1e1e1e" stroke-width="0.75"/>
<circle cx="651.9" cy="528.92" r="1.3" fill="none" stroke="#1e1e1e" stroke-width="0.75"/>
<circle cx="655.1" cy="528.85" r="1.3" fill="none" stroke="#1e1e1e" stroke-width="0.75"/>
<line x1="671.5" y1="524.53" x2="671.5" y2="531.01" stroke="#666" stroke-width="0.7" />
<line x1="671.5" y1="548.27" x2="671.5" y2="551.51" stroke="#666" stroke-width="0.7" />
<line x1="668.2" y1="524.53" x2="674.8" y2="524.53" stroke="#888" stroke-width="0.7" />
<line x1="669.9" y1="524.53" x2="673.1" y2="524.53" stroke="#222" stroke-width="0.9" />
<line x1="668.2" y1="551.51" x2="674.8" y2="551.51" stroke="#888" stroke-width="0.7" />
<line x1="669.9" y1="551.51" x2="673.1" y2="551.51" stroke="#222" stroke-width="0.9" />
<rect x="665.3" y="531.01" width="12.4" height="17.26" fill="#7859a7" stroke="#3a3a3a" stroke-width="0.6" />
<line x1="665.3" y1="539.64" x2="677.7" y2="539.64" stroke="#2a2a2a" stroke-width="0.8" />
<circle cx="671.5" cy="551.51" r="1.3" fill="none" stroke="#1e1e1e" stroke-width="0.75"/>
<circle cx="668.3" cy="548.88" r="1.3" fill="none" stroke="#1e1e1e" stroke-width="0.75"/>
<circle cx="671.5" cy="547.16" r="1.3" fill="none" stroke="#1e1e1e" stroke-width="0.75"/>
<circle cx="668.3" cy="545.05" r="1.3" fill="none" stroke="#1e1e1e" stroke-width="0.75"/>
<circle cx="674.7" cy="544.26" r="1.3" fill="none" stroke="#1e1e1e" stroke-width="0.75"/>
<circle cx="671.5" cy="534.33" r="1.3" fill="none" stroke="#1e1e1e" stroke-width="0.75"/>
<circle cx="668.3" cy="533.87" r="1.3" fill="none" stroke="#1e1e1e" stroke-width="0.75"/>
<circle cx="674.7" cy="531.15" r="1.3" fill="none" stroke="#1e1e1e" stroke-width="0.75"/>
<circle cx="671.5" cy="524.53" r="1.3" fill="none" stroke="#1e1e1e" stroke-width="0.75"/>
<line x1="631.8" y1="454.4" x2="672.1" y2="454.4" stroke="#231f20" stroke-width="1.2" />
<line x1="632.4" y1="454.4" x2="632.4" y2="472.5" stroke="#231f20" stroke-width="1.2" />
<line x1="651.9" y1="454.4" x2="651.9" y2="461.9" stroke="#231f20" stroke-width="1.2" />
<text x="652.32" y="471.24" font-size="11.5" text-anchor="middle" fill="#222" letter-spacing="0.85">***</text>
<line x1="671.5" y1="454.4" x2="671.5" y2="461.9" stroke="#231f20" stroke-width="1.2" />
<text x="671.92" y="471.24" font-size="11.5" text-anchor="middle" fill="#222" letter-spacing="0.85">***</text>
<text x="634.7" y="575.6" font-size="12" font-style="italic" text-anchor="end" fill="#222" transform="rotate(-45 634.7 575.6)" >-</text>
<text x="654.2" y="575.6" font-size="12" font-style="italic" text-anchor="end" fill="#222" transform="rotate(-45 654.2 575.6)" >pre</text>
<text x="673.8" y="575.6" font-size="12" font-style="italic" text-anchor="end" fill="#222" transform="rotate(-45 673.8 575.6)" >post</text>
<text x="338.7" y="164.8" font-size="13.1" text-anchor="middle" fill="#222" textLength="80" lengthAdjust="spacingAndGlyphs" transform="rotate(-90 338.7 164.8)" >Aversion ratio</text>
<text x="354.6" y="164.4" font-size="13.1" text-anchor="middle" fill="#222" textLength="65" lengthAdjust="spacingAndGlyphs" transform="rotate(-90 354.6 164.4)" >(16-20 hrs)</text>
<text x="338.7" y="335.9" font-size="13.1" text-anchor="middle" fill="#222" textLength="80" lengthAdjust="spacingAndGlyphs" transform="rotate(-90 338.7 335.9)" >Aversion ratio</text>
<text x="354.6" y="335.5" font-size="13.1" text-anchor="middle" fill="#222" textLength="65" lengthAdjust="spacingAndGlyphs" transform="rotate(-90 354.6 335.5)" >(16-20 hrs)</text>
<text x="338.7" y="506" font-size="13.1" text-anchor="middle" fill="#222" textLength="80" lengthAdjust="spacingAndGlyphs" transform="rotate(-90 338.7 506)" >Aversion ratio</text>
<text x="354.6" y="505.6" font-size="13.1" text-anchor="middle" fill="#222" textLength="65" lengthAdjust="spacingAndGlyphs" transform="rotate(-90 354.6 505.6)" >(16-20 hrs)</text>
<line x1="103.2" y1="720.8" x2="103.2" y2="612.2" stroke="#231f20" stroke-width="1.2" />
<line x1="98.7" y1="720.8" x2="103.2" y2="720.8" stroke="#231f20" stroke-width="1.2" />
<text x="96.8" y="725.1" font-size="12.2" text-anchor="end" fill="#222" >0.0</text>
<line x1="98.7" y1="699.2" x2="103.2" y2="699.2" stroke="#231f20" stroke-width="1.2" />
<text x="96.8" y="703.5" font-size="12.2" text-anchor="end" fill="#222" >0.2</text>
<line x1="98.7" y1="677.6" x2="103.2" y2="677.6" stroke="#231f20" stroke-width="1.2" />
<text x="96.8" y="681.9" font-size="12.2" text-anchor="end" fill="#222" >0.4</text>
<line x1="98.7" y1="656" x2="103.2" y2="656" stroke="#231f20" stroke-width="1.2" />
<text x="96.8" y="660.3" font-size="12.2" text-anchor="end" fill="#222" >0.6</text>
<line x1="98.7" y1="634.4" x2="103.2" y2="634.4" stroke="#231f20" stroke-width="1.2" />
<text x="96.8" y="638.7" font-size="12.2" text-anchor="end" fill="#222" >0.8</text>
<line x1="98.7" y1="612.8" x2="103.2" y2="612.8" stroke="#231f20" stroke-width="1.2" />
<text x="96.8" y="617.1" font-size="12.2" text-anchor="end" fill="#222" >1.0</text>
<line x1="98.7" y1="720.8" x2="419.1" y2="720.8" stroke="#231f20" stroke-width="1.2" />
<line x1="117.2" y1="720.8" x2="117.2" y2="725.5" stroke="#231f20" stroke-width="1.2" />
<line x1="137.79" y1="720.8" x2="137.79" y2="725.5" stroke="#231f20" stroke-width="1.2" />
<line x1="158.37" y1="720.8" x2="158.37" y2="725.5" stroke="#231f20" stroke-width="1.2" />
<line x1="178.96" y1="720.8" x2="178.96" y2="725.5" stroke="#231f20" stroke-width="1.2" />
<line x1="199.54" y1="720.8" x2="199.54" y2="725.5" stroke="#231f20" stroke-width="1.2" />
<line x1="220.13" y1="720.8" x2="220.13" y2="725.5" stroke="#231f20" stroke-width="1.2" />
<line x1="240.72" y1="720.8" x2="240.72" y2="725.5" stroke="#231f20" stroke-width="1.2" />
<line x1="261.3" y1="720.8" x2="261.3" y2="725.5" stroke="#231f20" stroke-width="1.2" />
<line x1="281.89" y1="720.8" x2="281.89" y2="725.5" stroke="#231f20" stroke-width="1.2" />
<line x1="302.47" y1="720.8" x2="302.47" y2="725.5" stroke="#231f20" stroke-width="1.2" />
<line x1="323.06" y1="720.8" x2="323.06" y2="725.5" stroke="#231f20" stroke-width="1.2" />
<line x1="343.65" y1="720.8" x2="343.65" y2="725.5" stroke="#231f20" stroke-width="1.2" />
<line x1="364.23" y1="720.8" x2="364.23" y2="725.5" stroke="#231f20" stroke-width="1.2" />
<line x1="384.82" y1="720.8" x2="384.82" y2="725.5" stroke="#231f20" stroke-width="1.2" />
<line x1="405.4" y1="720.8" x2="405.4" y2="725.5" stroke="#231f20" stroke-width="1.2" />
<text x="58.9" y="663" font-size="13.1" text-anchor="middle" fill="#222" textLength="81.8" lengthAdjust="spacingAndGlyphs" transform="rotate(-90 58.9 663)" >Aversion ratio</text>
<text x="73.4" y="664.1" font-size="13.1" text-anchor="middle" fill="#222" textLength="64.3" lengthAdjust="spacingAndGlyphs" transform="rotate(-90 73.4 664.1)" >(16-20 hrs)</text>
<line x1="117.2" y1="693.26" x2="117.2" y2="698.23" stroke="#666" stroke-width="0.7" />
<line x1="117.2" y1="706.76" x2="117.2" y2="710" stroke="#666" stroke-width="0.7" />
<line x1="113.9" y1="693.26" x2="120.5" y2="693.26" stroke="#888" stroke-width="0.7" />
<line x1="115.6" y1="693.26" x2="118.8" y2="693.26" stroke="#222" stroke-width="0.9" />
<line x1="113.9" y1="710" x2="120.5" y2="710" stroke="#888" stroke-width="0.7" />
<line x1="115.6" y1="710" x2="118.8" y2="710" stroke="#222" stroke-width="0.9" />
<rect x="110.3" y="698.23" width="13.8" height="8.53" fill="#999999" stroke="#3a3a3a" stroke-width="0.6" />
<line x1="110.3" y1="702.44" x2="124.1" y2="702.44" stroke="#2a2a2a" stroke-width="0.8" />
<circle cx="117.2" cy="710" r="1.3" fill="none" stroke="#1e1e1e" stroke-width="0.75"/>
<circle cx="114" cy="709.78" r="1.3" fill="none" stroke="#1e1e1e" stroke-width="0.75"/>
<circle cx="120.4" cy="708.8" r="1.3" fill="none" stroke="#1e1e1e" stroke-width="0.75"/>
<circle cx="120.11" cy="708.79" r="1.3" fill="none" stroke="#1e1e1e" stroke-width="0.75"/>
<circle cx="114" cy="705.76" r="1.3" fill="none" stroke="#1e1e1e" stroke-width="0.75"/>
<circle cx="117.2" cy="704.58" r="1.3" fill="none" stroke="#1e1e1e" stroke-width="0.75"/>
<circle cx="120.4" cy="704.24" r="1.3" fill="none" stroke="#1e1e1e" stroke-width="0.75"/>
<circle cx="121.6" cy="704.14" r="1.3" fill="none" stroke="#1e1e1e" stroke-width="0.75"/>
<circle cx="117.97" cy="703.94" r="1.3" fill="none" stroke="#1e1e1e" stroke-width="0.75"/>
<circle cx="117.2" cy="700.01" r="1.3" fill="none" stroke="#1e1e1e" stroke-width="0.75"/>
<circle cx="117.2" cy="696.54" r="1.3" fill="none" stroke="#1e1e1e" stroke-width="0.75"/>
<circle cx="114" cy="696.36" r="1.3" fill="none" stroke="#1e1e1e" stroke-width="0.75"/>
<circle cx="120.4" cy="693.51" r="1.3" fill="none" stroke="#1e1e1e" stroke-width="0.75"/>
<circle cx="117.2" cy="693.26" r="1.3" fill="none" stroke="#1e1e1e" stroke-width="0.75"/>
<line x1="137.79" y1="699.2" x2="137.79" y2="704.06" stroke="#666" stroke-width="0.7" />
<line x1="137.79" y1="708.7" x2="137.79" y2="712.16" stroke="#666" stroke-width="0.7" />
<line x1="134.49" y1="699.2" x2="141.09" y2="699.2" stroke="#888" stroke-width="0.7" />
<line x1="136.19" y1="699.2" x2="139.39" y2="699.2" stroke="#222" stroke-width="0.9" />
<line x1="134.49" y1="712.16" x2="141.09" y2="712.16" stroke="#888" stroke-width="0.7" />
<line x1="136.19" y1="712.16" x2="139.39" y2="712.16" stroke="#222" stroke-width="0.9" />
<rect x="130.89" y="704.06" width="13.8" height="4.64" fill="#8f8fd8" stroke="#3a3a3a" stroke-width="0.6" />
<line x1="130.89" y1="706.22" x2="144.69" y2="706.22" stroke="#2a2a2a" stroke-width="0.8" />
<circle cx="137.79" cy="712.16" r="1.3" fill="none" stroke="#1e1e1e" stroke-width="0.75"/>
<circle cx="134.59" cy="710.57" r="1.3" fill="none" stroke="#1e1e1e" stroke-width="0.75"/>
<circle cx="137.79" cy="708.61" r="1.3" fill="none" stroke="#1e1e1e" stroke-width="0.75"/>
<circle cx="134.59" cy="707.04" r="1.3" fill="none" stroke="#1e1e1e" stroke-width="0.75"/>
<circle cx="140.99" cy="707.01" r="1.3" fill="none" stroke="#1e1e1e" stroke-width="0.75"/>
<circle cx="139.15" cy="705.78" r="1.3" fill="none" stroke="#1e1e1e" stroke-width="0.75"/>
<circle cx="139.05" cy="705.57" r="1.3" fill="none" stroke="#1e1e1e" stroke-width="0.75"/>
<circle cx="135.25" cy="704.96" r="1.3" fill="none" stroke="#1e1e1e" stroke-width="0.75"/>
<circle cx="140.79" cy="704.28" r="1.3" fill="none" stroke="#1e1e1e" stroke-width="0.75"/>
<circle cx="136.18" cy="703.02" r="1.3" fill="none" stroke="#1e1e1e" stroke-width="0.75"/>
<circle cx="136.45" cy="702.35" r="1.3" fill="none" stroke="#1e1e1e" stroke-width="0.75"/>
<circle cx="140.99" cy="699.2" r="1.3" fill="none" stroke="#1e1e1e" stroke-width="0.75"/>
<line x1="158.37" y1="687.32" x2="158.37" y2="700.28" stroke="#666" stroke-width="0.7" />
<line x1="158.37" y1="710.32" x2="158.37" y2="718.64" stroke="#666" stroke-width="0.7" />
<line x1="155.07" y1="687.32" x2="161.67" y2="687.32" stroke="#888" stroke-width="0.7" />
<line x1="156.77" y1="687.32" x2="159.97" y2="687.32" stroke="#222" stroke-width="0.9" />
<line x1="155.07" y1="718.64" x2="161.67" y2="718.64" stroke="#888" stroke-width="0.7" />
<line x1="156.77" y1="718.64" x2="159.97" y2="718.64" stroke="#222" stroke-width="0.9" />
<rect x="151.47" y="700.28" width="13.8" height="10.04" fill="#999999" stroke="#3a3a3a" stroke-width="0.6" />
<line x1="151.47" y1="706.76" x2="165.27" y2="706.76" stroke="#2a2a2a" stroke-width="0.8" />
<circle cx="158.37" cy="718.64" r="1.3" fill="none" stroke="#1e1e1e" stroke-width="0.75"/>
<circle cx="155.17" cy="718.55" r="1.3" fill="none" stroke="#1e1e1e" stroke-width="0.75"/>
<circle cx="158.37" cy="713.88" r="1.3" fill="none" stroke="#1e1e1e" stroke-width="0.75"/>
<circle cx="155.17" cy="713.72" r="1.3" fill="none" stroke="#1e1e1e" stroke-width="0.75"/>
<circle cx="161.57" cy="712.37" r="1.3" fill="none" stroke="#1e1e1e" stroke-width="0.75"/>
<circle cx="158.43" cy="712.28" r="1.3" fill="none" stroke="#1e1e1e" stroke-width="0.75"/>
<circle cx="155.12" cy="711.48" r="1.3" fill="none" stroke="#1e1e1e" stroke-width="0.75"/>
<circle cx="156.92" cy="710.61" r="1.3" fill="none" stroke="#1e1e1e" stroke-width="0.75"/>
<circle cx="161.38" cy="710.25" r="1.3" fill="none" stroke="#1e1e1e" stroke-width="0.75"/>
<circle cx="160.31" cy="709.94" r="1.3" fill="none" stroke="#1e1e1e" stroke-width="0.75"/>
<circle cx="155.14" cy="709.84" r="1.3" fill="none" stroke="#1e1e1e" stroke-width="0.75"/>
<circle cx="162.16" cy="709.54" r="1.3" fill="none" stroke="#1e1e1e" stroke-width="0.75"/>
<circle cx="161.91" cy="709.32" r="1.3" fill="none" stroke="#1e1e1e" stroke-width="0.75"/>
<circle cx="153.87" cy="709.31" r="1.3" fill="none" stroke="#1e1e1e" stroke-width="0.75"/>
<circle cx="159.79" cy="709.23" r="1.3" fill="none" stroke="#1e1e1e" stroke-width="0.75"/>
<circle cx="157.19" cy="708.63" r="1.3" fill="none" stroke="#1e1e1e" stroke-width="0.75"/>
<circle cx="154.23" cy="708.62" r="1.3" fill="none" stroke="#1e1e1e" stroke-width="0.75"/>
<circle cx="156.6" cy="708.33" r="1.3" fill="none" stroke="#1e1e1e" stroke-width="0.75"/>
<circle cx="159.79" cy="707.98" r="1.3" fill="none" stroke="#1e1e1e" stroke-width="0.75"/>
<circle cx="154.53" cy="707.88" r="1.3" fill="none" stroke="#1e1e1e" stroke-width="0.75"/>
<circle cx="156.62" cy="707.83" r="1.3" fill="none" stroke="#1e1e1e" stroke-width="0.75"/>
<circle cx="160.22" cy="707.58" r="1.3" fill="none" stroke="#1e1e1e" stroke-width="0.75"/>
<circle cx="155.76" cy="707.09" r="1.3" fill="none" stroke="#1e1e1e" stroke-width="0.75"/>
<circle cx="162.04" cy="705.06" r="1.3" fill="none" stroke="#1e1e1e" stroke-width="0.75"/>
<circle cx="159.09" cy="704.83" r="1.3" fill="none" stroke="#1e1e1e" stroke-width="0.75"/>
<circle cx="159.66" cy="704.82" r="1.3" fill="none" stroke="#1e1e1e" stroke-width="0.75"/>
<circle cx="153.84" cy="704.24" r="1.3" fill="none" stroke="#1e1e1e" stroke-width="0.75"/>
<circle cx="154.15" cy="704.17" r="1.3" fill="none" stroke="#1e1e1e" stroke-width="0.75"/>
<circle cx="159.48" cy="703.95" r="1.3" fill="none" stroke="#1e1e1e" stroke-width="0.75"/>
<circle cx="155.17" cy="703.85" r="1.3" fill="none" stroke="#1e1e1e" stroke-width="0.75"/>
<circle cx="158.61" cy="703.85" r="1.3" fill="none" stroke="#1e1e1e" stroke-width="0.75"/>
<circle cx="162.26" cy="702.94" r="1.3" fill="none" stroke="#1e1e1e" stroke-width="0.75"/>
<circle cx="159.27" cy="702.45" r="1.3" fill="none" stroke="#1e1e1e" stroke-width="0.75"/>
<circle cx="157.82" cy="702.22" r="1.3" fill="none" stroke="#1e1e1e" stroke-width="0.75"/>
<circle cx="154.46" cy="701.62" r="1.3" fill="none" stroke="#1e1e1e" stroke-width="0.75"/>
<circle cx="154.7" cy="701.33" r="1.3" fill="none" stroke="#1e1e1e" stroke-width="0.75"/>
<circle cx="155.9" cy="700.73" r="1.3" fill="none" stroke="#1e1e1e" stroke-width="0.75"/>
<circle cx="158.37" cy="696.35" r="1.3" fill="none" stroke="#1e1e1e" stroke-width="0.75"/>
<circle cx="158.37" cy="687.86" r="1.3" fill="none" stroke="#1e1e1e" stroke-width="0.75"/>
<circle cx="155.17" cy="687.32" r="1.3" fill="none" stroke="#1e1e1e" stroke-width="0.75"/>
<line x1="178.96" y1="683" x2="178.96" y2="691.64" stroke="#666" stroke-width="0.7" />
<line x1="178.96" y1="707.3" x2="178.96" y2="712.16" stroke="#666" stroke-width="0.7" />
<line x1="175.66" y1="683" x2="182.26" y2="683" stroke="#888" stroke-width="0.7" />
<line x1="177.36" y1="683" x2="180.56" y2="683" stroke="#222" stroke-width="0.9" />
<line x1="175.66" y1="712.16" x2="182.26" y2="712.16" stroke="#888" stroke-width="0.7" />
<line x1="177.36" y1="712.16" x2="180.56" y2="712.16" stroke="#222" stroke-width="0.9" />
<rect x="172.06" y="691.64" width="13.8" height="15.66" fill="#999999" stroke="#3a3a3a" stroke-width="0.6" />
<line x1="172.06" y1="700.28" x2="185.86" y2="700.28" stroke="#2a2a2a" stroke-width="0.8" />
<circle cx="178.96" cy="712.16" r="1.3" fill="none" stroke="#1e1e1e" stroke-width="0.75"/>
<circle cx="175.76" cy="712.07" r="1.3" fill="none" stroke="#1e1e1e" stroke-width="0.75"/>
<circle cx="178.96" cy="706.76" r="1.3" fill="none" stroke="#1e1e1e" stroke-width="0.75"/>
<circle cx="178.96" cy="702.43" r="1.3" fill="none" stroke="#1e1e1e" stroke-width="0.75"/>
<circle cx="175.76" cy="701.76" r="1.3" fill="none" stroke="#1e1e1e" stroke-width="0.75"/>
<circle cx="178.96" cy="695.9" r="1.3" fill="none" stroke="#1e1e1e" stroke-width="0.75"/>
<circle cx="175.76" cy="693.24" r="1.3" fill="none" stroke="#1e1e1e" stroke-width="0.75"/>
<circle cx="178.96" cy="685.59" r="1.3" fill="none" stroke="#1e1e1e" stroke-width="0.75"/>
<circle cx="175.76" cy="683.09" r="1.3" fill="none" stroke="#1e1e1e" stroke-width="0.75"/>
<circle cx="182.16" cy="683" r="1.3" fill="none" stroke="#1e1e1e" stroke-width="0.75"/>
<line x1="220.13" y1="627.49" x2="220.13" y2="632.89" stroke="#666" stroke-width="0.7" />
<line x1="220.13" y1="667.45" x2="220.13" y2="689.8" stroke="#666" stroke-width="0.7" />
<line x1="216.83" y1="627.49" x2="223.43" y2="627.49" stroke="#888" stroke-width="0.7" />
<line x1="218.53" y1="627.49" x2="221.73" y2="627.49" stroke="#222" stroke-width="0.9" />
<line x1="216.83" y1="689.8" x2="223.43" y2="689.8" stroke="#888" stroke-width="0.7" />
<line x1="218.53" y1="689.8" x2="221.73" y2="689.8" stroke="#222" stroke-width="0.9" />
<rect x="213.23" y="632.89" width="13.8" height="34.56" fill="#0a9147" stroke="#3a3a3a" stroke-width="0.6" />
<line x1="213.23" y1="650.49" x2="227.03" y2="650.49" stroke="#2a2a2a" stroke-width="0.8" />
<circle cx="220.13" cy="689.8" r="1.3" fill="none" stroke="#1e1e1e" stroke-width="0.75"/>
<circle cx="220.13" cy="684.23" r="1.3" fill="none" stroke="#1e1e1e" stroke-width="0.75"/>
<circle cx="220.13" cy="670.96" r="1.3" fill="none" stroke="#1e1e1e" stroke-width="0.75"/>
<circle cx="220.13" cy="665.36" r="1.3" fill="none" stroke="#1e1e1e" stroke-width="0.75"/>
<circle cx="220.13" cy="657.76" r="1.3" fill="none" stroke="#1e1e1e" stroke-width="0.75"/>
<circle cx="220.13" cy="648.94" r="1.3" fill="none" stroke="#1e1e1e" stroke-width="0.75"/>
<circle cx="220.13" cy="643.2" r="1.3" fill="none" stroke="#1e1e1e" stroke-width="0.75"/>
<circle cx="220.13" cy="639.97" r="1.3" fill="none" stroke="#1e1e1e" stroke-width="0.75"/>
<circle cx="216.93" cy="638.27" r="1.3" fill="none" stroke="#1e1e1e" stroke-width="0.75"/>
<circle cx="220.13" cy="628.86" r="1.3" fill="none" stroke="#1e1e1e" stroke-width="0.75"/>
<circle cx="216.93" cy="627.66" r="1.3" fill="none" stroke="#1e1e1e" stroke-width="0.75"/>
<circle cx="223.33" cy="627.49" r="1.3" fill="none" stroke="#1e1e1e" stroke-width="0.75"/>
<line x1="240.72" y1="646.28" x2="240.72" y2="663.13" stroke="#666" stroke-width="0.7" />
<line x1="240.72" y1="677.6" x2="240.72" y2="687.32" stroke="#666" stroke-width="0.7" />
<line x1="237.42" y1="646.28" x2="244.02" y2="646.28" stroke="#888" stroke-width="0.7" />
<line x1="239.12" y1="646.28" x2="242.32" y2="646.28" stroke="#222" stroke-width="0.9" />
<line x1="237.42" y1="687.32" x2="244.02" y2="687.32" stroke="#888" stroke-width="0.7" />
<line x1="239.12" y1="687.32" x2="242.32" y2="687.32" stroke="#222" stroke-width="0.9" />
<rect x="233.82" y="663.13" width="13.8" height="14.47" fill="#0a9147" stroke="#3a3a3a" stroke-width="0.6" />
<line x1="233.82" y1="668.96" x2="247.62" y2="668.96" stroke="#2a2a2a" stroke-width="0.8" />
<circle cx="240.72" cy="687.32" r="1.3" fill="none" stroke="#1e1e1e" stroke-width="0.75"/>
<circle cx="237.52" cy="686.08" r="1.3" fill="none" stroke="#1e1e1e" stroke-width="0.75"/>
<circle cx="243.92" cy="685.94" r="1.3" fill="none" stroke="#1e1e1e" stroke-width="0.75"/>
<circle cx="240.72" cy="680" r="1.3" fill="none" stroke="#1e1e1e" stroke-width="0.75"/>
<circle cx="237.52" cy="679.57" r="1.3" fill="none" stroke="#1e1e1e" stroke-width="0.75"/>
<circle cx="240.72" cy="674.18" r="1.3" fill="none" stroke="#1e1e1e" stroke-width="0.75"/>
<circle cx="237.52" cy="671.6" r="1.3" fill="none" stroke="#1e1e1e" stroke-width="0.75"/>
<circle cx="240.72" cy="669.12" r="1.3" fill="none" stroke="#1e1e1e" stroke-width="0.75"/>
<circle cx="237.52" cy="667.45" r="1.3" fill="none" stroke="#1e1e1e" stroke-width="0.75"/>
<circle cx="243.92" cy="667.18" r="1.3" fill="none" stroke="#1e1e1e" stroke-width="0.75"/>
<circle cx="240.72" cy="664.75" r="1.3" fill="none" stroke="#1e1e1e" stroke-width="0.75"/>
<circle cx="240.72" cy="655.95" r="1.3" fill="none" stroke="#1e1e1e" stroke-width="0.75"/>
<circle cx="237.52" cy="654.87" r="1.3" fill="none" stroke="#1e1e1e" stroke-width="0.75"/>
<circle cx="240.72" cy="646.28" r="1.3" fill="none" stroke="#1e1e1e" stroke-width="0.75"/>
<line x1="261.3" y1="640.34" x2="261.3" y2="648.01" stroke="#666" stroke-width="0.7" />
<line x1="261.3" y1="665.4" x2="261.3" y2="671.44" stroke="#666" stroke-width="0.7" />
<line x1="258" y1="640.34" x2="264.6" y2="640.34" stroke="#888" stroke-width="0.7" />
<line x1="259.7" y1="640.34" x2="262.9" y2="640.34" stroke="#222" stroke-width="0.9" />
<line x1="258" y1="671.44" x2="264.6" y2="671.44" stroke="#888" stroke-width="0.7" />
<line x1="259.7" y1="671.44" x2="262.9" y2="671.44" stroke="#222" stroke-width="0.9" />
<rect x="254.4" y="648.01" width="13.8" height="17.39" fill="#0a9147" stroke="#3a3a3a" stroke-width="0.6" />
<line x1="254.4" y1="656.22" x2="268.2" y2="656.22" stroke="#2a2a2a" stroke-width="0.8" />
<circle cx="261.3" cy="671.44" r="1.3" fill="none" stroke="#1e1e1e" stroke-width="0.75"/>
<circle cx="258.1" cy="669.21" r="1.3" fill="none" stroke="#1e1e1e" stroke-width="0.75"/>
<circle cx="264.5" cy="668.97" r="1.3" fill="none" stroke="#1e1e1e" stroke-width="0.75"/>
<circle cx="261.13" cy="668.51" r="1.3" fill="none" stroke="#1e1e1e" stroke-width="0.75"/>
<circle cx="262.45" cy="667.51" r="1.3" fill="none" stroke="#1e1e1e" stroke-width="0.75"/>
<circle cx="265.67" cy="665.61" r="1.3" fill="none" stroke="#1e1e1e" stroke-width="0.75"/>
<circle cx="261.3" cy="662.07" r="1.3" fill="none" stroke="#1e1e1e" stroke-width="0.75"/>
<circle cx="258.1" cy="659.13" r="1.3" fill="none" stroke="#1e1e1e" stroke-width="0.75"/>
<circle cx="261.3" cy="654.66" r="1.3" fill="none" stroke="#1e1e1e" stroke-width="0.75"/>
<circle cx="261.3" cy="651.3" r="1.3" fill="none" stroke="#1e1e1e" stroke-width="0.75"/>
<circle cx="258.1" cy="649.25" r="1.3" fill="none" stroke="#1e1e1e" stroke-width="0.75"/>
<circle cx="261.3" cy="640.34" r="1.3" fill="none" stroke="#1e1e1e" stroke-width="0.75"/>
<line x1="302.47" y1="656.76" x2="302.47" y2="663.24" stroke="#666" stroke-width="0.7" />
<line x1="302.47" y1="686.24" x2="302.47" y2="698.01" stroke="#666" stroke-width="0.7" />
<line x1="299.17" y1="656.76" x2="305.77" y2="656.76" stroke="#888" stroke-width="0.7" />
<line x1="300.87" y1="656.76" x2="304.07" y2="656.76" stroke="#222" stroke-width="0.9" />
<line x1="299.17" y1="698.01" x2="305.77" y2="698.01" stroke="#888" stroke-width="0.7" />
<line x1="300.87" y1="698.01" x2="304.07" y2="698.01" stroke="#222" stroke-width="0.9" />
<rect x="295.57" y="663.24" width="13.8" height="23" fill="#7859a7" stroke="#3a3a3a" stroke-width="0.6" />
<line x1="295.57" y1="677.06" x2="309.37" y2="677.06" stroke="#2a2a2a" stroke-width="0.8" />
<circle cx="302.47" cy="698.01" r="1.3" fill="none" stroke="#1e1e1e" stroke-width="0.75"/>
<circle cx="302.47" cy="685.77" r="1.3" fill="none" stroke="#1e1e1e" stroke-width="0.75"/>
<circle cx="302.47" cy="682.5" r="1.3" fill="none" stroke="#1e1e1e" stroke-width="0.75"/>
<circle cx="299.27" cy="682.46" r="1.3" fill="none" stroke="#1e1e1e" stroke-width="0.75"/>
<circle cx="305.67" cy="681.13" r="1.3" fill="none" stroke="#1e1e1e" stroke-width="0.75"/>
<circle cx="304.48" cy="679.95" r="1.3" fill="none" stroke="#1e1e1e" stroke-width="0.75"/>
<circle cx="299.27" cy="679.13" r="1.3" fill="none" stroke="#1e1e1e" stroke-width="0.75"/>
<circle cx="302.47" cy="674.86" r="1.3" fill="none" stroke="#1e1e1e" stroke-width="0.75"/>
<circle cx="299.27" cy="674.73" r="1.3" fill="none" stroke="#1e1e1e" stroke-width="0.75"/>
<circle cx="305.67" cy="672.85" r="1.3" fill="none" stroke="#1e1e1e" stroke-width="0.75"/>
<circle cx="302.47" cy="670.31" r="1.3" fill="none" stroke="#1e1e1e" stroke-width="0.75"/>
<circle cx="302.47" cy="665.64" r="1.3" fill="none" stroke="#1e1e1e" stroke-width="0.75"/>
<circle cx="302.47" cy="657.3" r="1.3" fill="none" stroke="#1e1e1e" stroke-width="0.75"/>
<circle cx="299.27" cy="656.76" r="1.3" fill="none" stroke="#1e1e1e" stroke-width="0.75"/>
<line x1="323.06" y1="676.52" x2="323.06" y2="687.21" stroke="#666" stroke-width="0.7" />
<line x1="323.06" y1="707.52" x2="323.06" y2="713.24" stroke="#666" stroke-width="0.7" />
<line x1="319.76" y1="676.52" x2="326.36" y2="676.52" stroke="#888" stroke-width="0.7" />
<line x1="321.46" y1="676.52" x2="324.66" y2="676.52" stroke="#222" stroke-width="0.9" />
<line x1="319.76" y1="713.24" x2="326.36" y2="713.24" stroke="#888" stroke-width="0.7" />
<line x1="321.46" y1="713.24" x2="324.66" y2="713.24" stroke="#222" stroke-width="0.9" />
<rect x="316.16" y="687.21" width="13.8" height="20.3" fill="#7859a7" stroke="#3a3a3a" stroke-width="0.6" />
<line x1="316.16" y1="700.28" x2="329.96" y2="700.28" stroke="#2a2a2a" stroke-width="0.8" />
<circle cx="323.06" cy="713.24" r="1.3" fill="none" stroke="#1e1e1e" stroke-width="0.75"/>
<circle cx="319.86" cy="710.9" r="1.3" fill="none" stroke="#1e1e1e" stroke-width="0.75"/>
<circle cx="323.06" cy="708.09" r="1.3" fill="none" stroke="#1e1e1e" stroke-width="0.75"/>
<circle cx="319.86" cy="707.62" r="1.3" fill="none" stroke="#1e1e1e" stroke-width="0.75"/>
<circle cx="323.06" cy="702.62" r="1.3" fill="none" stroke="#1e1e1e" stroke-width="0.75"/>
<circle cx="323.06" cy="696.32" r="1.3" fill="none" stroke="#1e1e1e" stroke-width="0.75"/>
<circle cx="319.86" cy="696.25" r="1.3" fill="none" stroke="#1e1e1e" stroke-width="0.75"/>
<circle cx="326.26" cy="695.57" r="1.3" fill="none" stroke="#1e1e1e" stroke-width="0.75"/>
<circle cx="323.06" cy="692.85" r="1.3" fill="none" stroke="#1e1e1e" stroke-width="0.75"/>
<circle cx="319.86" cy="691.41" r="1.3" fill="none" stroke="#1e1e1e" stroke-width="0.75"/>
<circle cx="323.06" cy="685.55" r="1.3" fill="none" stroke="#1e1e1e" stroke-width="0.75"/>
<circle cx="319.86" cy="682.86" r="1.3" fill="none" stroke="#1e1e1e" stroke-width="0.75"/>
<circle cx="323.06" cy="681.78" r="1.3" fill="none" stroke="#1e1e1e" stroke-width="0.75"/>
<circle cx="323.06" cy="676.52" r="1.3" fill="none" stroke="#1e1e1e" stroke-width="0.75"/>
<line x1="343.65" y1="688.4" x2="343.65" y2="700.28" stroke="#666" stroke-width="0.7" />
<line x1="343.65" y1="711.84" x2="343.65" y2="712.16" stroke="#666" stroke-width="0.7" />
<line x1="340.35" y1="688.4" x2="346.95" y2="688.4" stroke="#888" stroke-width="0.7" />
<line x1="342.05" y1="688.4" x2="345.25" y2="688.4" stroke="#222" stroke-width="0.9" />
<line x1="340.35" y1="712.16" x2="346.95" y2="712.16" stroke="#888" stroke-width="0.7" />
<line x1="342.05" y1="712.16" x2="345.25" y2="712.16" stroke="#222" stroke-width="0.9" />
<rect x="336.75" y="700.28" width="13.8" height="11.56" fill="#7859a7" stroke="#3a3a3a" stroke-width="0.6" />
<line x1="336.75" y1="705.68" x2="350.55" y2="705.68" stroke="#2a2a2a" stroke-width="0.8" />
<circle cx="343.65" cy="712.16" r="1.3" fill="none" stroke="#1e1e1e" stroke-width="0.75"/>
<circle cx="340.45" cy="710.89" r="1.3" fill="none" stroke="#1e1e1e" stroke-width="0.75"/>
<circle cx="346.85" cy="710.68" r="1.3" fill="none" stroke="#1e1e1e" stroke-width="0.75"/>
<circle cx="339.81" cy="710.43" r="1.3" fill="none" stroke="#1e1e1e" stroke-width="0.75"/>
<circle cx="343.65" cy="708.65" r="1.3" fill="none" stroke="#1e1e1e" stroke-width="0.75"/>
<circle cx="343.65" cy="703.24" r="1.3" fill="none" stroke="#1e1e1e" stroke-width="0.75"/>
<circle cx="340.45" cy="702.53" r="1.3" fill="none" stroke="#1e1e1e" stroke-width="0.75"/>
<circle cx="346.85" cy="702.47" r="1.3" fill="none" stroke="#1e1e1e" stroke-width="0.75"/>
<circle cx="339.94" cy="701.68" r="1.3" fill="none" stroke="#1e1e1e" stroke-width="0.75"/>
<circle cx="343.65" cy="698.73" r="1.3" fill="none" stroke="#1e1e1e" stroke-width="0.75"/>
<circle cx="343.65" cy="688.53" r="1.3" fill="none" stroke="#1e1e1e" stroke-width="0.75"/>
<circle cx="340.45" cy="688.4" r="1.3" fill="none" stroke="#1e1e1e" stroke-width="0.75"/>
<line x1="384.82" y1="690.24" x2="384.82" y2="695.74" stroke="#666" stroke-width="0.7" />
<line x1="384.82" y1="703.63" x2="384.82" y2="710.11" stroke="#666" stroke-width="0.7" />
<line x1="381.52" y1="690.24" x2="388.12" y2="690.24" stroke="#888" stroke-width="0.7" />
<line x1="383.22" y1="690.24" x2="386.42" y2="690.24" stroke="#222" stroke-width="0.9" />
<line x1="381.52" y1="710.11" x2="388.12" y2="710.11" stroke="#888" stroke-width="0.7" />
<line x1="383.22" y1="710.11" x2="386.42" y2="710.11" stroke="#222" stroke-width="0.9" />
<rect x="377.92" y="695.74" width="13.8" height="7.88" fill="#7859a7" stroke="#3a3a3a" stroke-width="0.6" />
<line x1="377.92" y1="701.36" x2="391.72" y2="701.36" stroke="#2a2a2a" stroke-width="0.8" />
<circle cx="384.82" cy="710.11" r="1.3" fill="none" stroke="#1e1e1e" stroke-width="0.75"/>
<circle cx="381.62" cy="710.1" r="1.3" fill="none" stroke="#1e1e1e" stroke-width="0.75"/>
<circle cx="388.02" cy="707.74" r="1.3" fill="none" stroke="#1e1e1e" stroke-width="0.75"/>
<circle cx="384.82" cy="703.24" r="1.3" fill="none" stroke="#1e1e1e" stroke-width="0.75"/>
<circle cx="381.62" cy="702.59" r="1.3" fill="none" stroke="#1e1e1e" stroke-width="0.75"/>
<circle cx="388.02" cy="701.37" r="1.3" fill="none" stroke="#1e1e1e" stroke-width="0.75"/>
<circle cx="384.82" cy="699.63" r="1.3" fill="none" stroke="#1e1e1e" stroke-width="0.75"/>
<circle cx="381.62" cy="698.39" r="1.3" fill="none" stroke="#1e1e1e" stroke-width="0.75"/>
<circle cx="384.82" cy="696.18" r="1.3" fill="none" stroke="#1e1e1e" stroke-width="0.75"/>
<circle cx="384.82" cy="692.04" r="1.3" fill="none" stroke="#1e1e1e" stroke-width="0.75"/>
<circle cx="381.62" cy="691.49" r="1.3" fill="none" stroke="#1e1e1e" stroke-width="0.75"/>
<circle cx="388.02" cy="690.24" r="1.3" fill="none" stroke="#1e1e1e" stroke-width="0.75"/>
<line x1="405.4" y1="675.44" x2="405.4" y2="687.21" stroke="#666" stroke-width="0.7" />
<line x1="405.4" y1="701.58" x2="405.4" y2="706.87" stroke="#666" stroke-width="0.7" />
<line x1="402.1" y1="675.44" x2="408.7" y2="675.44" stroke="#888" stroke-width="0.7" />
<line x1="403.8" y1="675.44" x2="407" y2="675.44" stroke="#222" stroke-width="0.9" />
<line x1="402.1" y1="706.87" x2="408.7" y2="706.87" stroke="#888" stroke-width="0.7" />
<line x1="403.8" y1="706.87" x2="407" y2="706.87" stroke="#222" stroke-width="0.9" />
<rect x="398.5" y="687.21" width="13.8" height="14.36" fill="#7859a7" stroke="#3a3a3a" stroke-width="0.6" />
<line x1="398.5" y1="696.28" x2="412.3" y2="696.28" stroke="#2a2a2a" stroke-width="0.8" />
<circle cx="405.4" cy="706.87" r="1.3" fill="none" stroke="#1e1e1e" stroke-width="0.75"/>
<circle cx="405.4" cy="697.05" r="1.3" fill="none" stroke="#1e1e1e" stroke-width="0.75"/>
<circle cx="402.2" cy="696.19" r="1.3" fill="none" stroke="#1e1e1e" stroke-width="0.75"/>
<circle cx="408.6" cy="695.65" r="1.3" fill="none" stroke="#1e1e1e" stroke-width="0.75"/>
<circle cx="404.01" cy="695.39" r="1.3" fill="none" stroke="#1e1e1e" stroke-width="0.75"/>
<circle cx="406.7" cy="692.5" r="1.3" fill="none" stroke="#1e1e1e" stroke-width="0.75"/>
<circle cx="402.2" cy="691.9" r="1.3" fill="none" stroke="#1e1e1e" stroke-width="0.75"/>
<circle cx="402.54" cy="689.61" r="1.3" fill="none" stroke="#1e1e1e" stroke-width="0.75"/>
<circle cx="408.6" cy="689.28" r="1.3" fill="none" stroke="#1e1e1e" stroke-width="0.75"/>
<circle cx="405.4" cy="675.44" r="1.3" fill="none" stroke="#1e1e1e" stroke-width="0.75"/>
<line x1="116.6" y1="609.9" x2="406" y2="609.9" stroke="#231f20" stroke-width="1.2" />
<line x1="117.2" y1="609.9" x2="117.2" y2="617.5" stroke="#231f20" stroke-width="1.2" />
<text x="117.2" y="627.4" font-size="12.4" text-anchor="middle" fill="#222" >ns</text>
<line x1="137.79" y1="609.9" x2="137.79" y2="617.5" stroke="#231f20" stroke-width="1.2" />
<text x="137.79" y="627.4" font-size="12.4" text-anchor="middle" fill="#222" >ns</text>
<line x1="158.37" y1="609.9" x2="158.37" y2="625.2" stroke="#231f20" stroke-width="1.2" />
<line x1="178.96" y1="609.9" x2="178.96" y2="617.5" stroke="#231f20" stroke-width="1.2" />
<text x="178.96" y="627.4" font-size="12.4" text-anchor="middle" fill="#222" >ns</text>
<line x1="220.13" y1="609.9" x2="220.13" y2="617.5" stroke="#231f20" stroke-width="1.2" />
<text x="220.68" y="628.9" font-size="11.5" text-anchor="middle" fill="#222" letter-spacing="1.1">***</text>
<line x1="240.72" y1="609.9" x2="240.72" y2="617.5" stroke="#231f20" stroke-width="1.2" />
<text x="241.27" y="628.9" font-size="11.5" text-anchor="middle" fill="#222" letter-spacing="1.1">***</text>
<line x1="261.3" y1="609.9" x2="261.3" y2="617.5" stroke="#231f20" stroke-width="1.2" />
<text x="261.85" y="628.9" font-size="11.5" text-anchor="middle" fill="#222" letter-spacing="1.1">***</text>
<line x1="302.47" y1="609.9" x2="302.47" y2="617.5" stroke="#231f20" stroke-width="1.2" />
<text x="303.02" y="628.9" font-size="11.5" text-anchor="middle" fill="#222" letter-spacing="1.1">***</text>
<line x1="323.06" y1="609.9" x2="323.06" y2="617.5" stroke="#231f20" stroke-width="1.2" />
<text x="323.61" y="628.9" font-size="11.5" text-anchor="middle" fill="#222" letter-spacing="1.1">*</text>
<line x1="343.65" y1="609.9" x2="343.65" y2="617.5" stroke="#231f20" stroke-width="1.2" />
<text x="343.65" y="627.4" font-size="12.4" text-anchor="middle" fill="#222" >ns</text>
<line x1="384.82" y1="609.9" x2="384.82" y2="617.5" stroke="#231f20" stroke-width="1.2" />
<text x="384.82" y="627.4" font-size="12.4" text-anchor="middle" fill="#222" >ns</text>
<line x1="405.4" y1="609.9" x2="405.4" y2="617.5" stroke="#231f20" stroke-width="1.2" />
<text x="405.95" y="628.9" font-size="11.5" text-anchor="middle" fill="#222" letter-spacing="1.1">*</text>
<text x="119.8" y="734.5" font-size="12" font-style="italic" text-anchor="end" fill="#222" transform="rotate(-45 119.8 734.5)" >0.5</text>
<text x="140.39" y="734.5" font-size="12" font-style="italic" text-anchor="end" fill="#222" transform="rotate(-45 140.39 734.5)" >0.8</text>
<text x="160.97" y="734.5" font-size="12" font-style="italic" text-anchor="end" fill="#222" transform="rotate(-45 160.97 734.5)" >1.8</text>
<text x="181.56" y="734.5" font-size="12" font-style="italic" text-anchor="end" fill="#222" transform="rotate(-45 181.56 734.5)" >4.7</text>
<text x="222.73" y="734.5" font-size="12" font-style="italic" text-anchor="end" fill="#222" transform="rotate(-45 222.73 734.5)" >0.9</text>
<text x="243.32" y="734.5" font-size="12" font-style="italic" text-anchor="end" fill="#222" transform="rotate(-45 243.32 734.5)" >1.1</text>
<text x="263.9" y="734.5" font-size="12" font-style="italic" text-anchor="end" fill="#222" transform="rotate(-45 263.9 734.5)" >2.1</text>
<text x="305.07" y="734.5" font-size="12" font-style="italic" text-anchor="end" fill="#222" transform="rotate(-45 305.07 734.5)" >0.9</text>
<text x="325.66" y="734.5" font-size="12" font-style="italic" text-anchor="end" fill="#222" transform="rotate(-45 325.66 734.5)" >2.0</text>
<text x="346.25" y="734.5" font-size="12" font-style="italic" text-anchor="end" fill="#222" transform="rotate(-45 346.25 734.5)" >3.2</text>
<text x="387.42" y="734.5" font-size="12" font-style="italic" text-anchor="end" fill="#222" transform="rotate(-45 387.42 734.5)" >0.6</text>
<text x="408" y="734.5" font-size="12" font-style="italic" text-anchor="end" fill="#222" transform="rotate(-45 408 734.5)" >1.3</text>
<text x="7.3" y="739.2" font-size="11.4" fill="#222" textLength="83.5" lengthAdjust="spacingAndGlyphs" >bacterial density</text>
<text x="8.3" y="754.4" font-size="12" fill="#222" textLength="59.6" lengthAdjust="spacingAndGlyphs" >(CFU x 10</text>
<text x="67.9" y="749.6" font-size="8.6" fill="#222" >9</text>
<text x="74.2" y="754.2" font-size="12" fill="#222" >)</text>
<line x1="106.1" y1="754.1" x2="179.1" y2="754.1" stroke="#231f20" stroke-width="1.3" />
<rect x="130" y="756.6" width="22.8" height="13.9" fill="#e6e7e8" />
<text x="133.7" y="767.8" font-size="11.6" font-weight="bold" fill="#111" textLength="18.2" lengthAdjust="spacingAndGlyphs" >WT</text>
<line x1="206" y1="754.3" x2="260.7" y2="754.3" stroke="#231f20" stroke-width="1.3" />
<rect x="219.1" y="756.6" width="29.5" height="13.6" fill="#e6e7e8" />
<text x="220.6" y="767.6" font-size="11.6" font-weight="bold" font-style="italic" fill="#1ca04e" ><tspan font-weight="normal" font-style="normal">Δ</tspan>crp</text>
<line x1="290.9" y1="754.3" x2="341.3" y2="754.3" stroke="#231f20" stroke-width="1.3" />
<rect x="296.8" y="756.6" width="38.3" height="13.6" fill="#e6e7e8" />
<text x="298" y="767.6" font-size="11.6" font-weight="bold" font-style="italic" fill="#8d45ad" ><tspan font-weight="normal" font-style="normal">Δ</tspan>cysE</text>
<text x="362.9" y="758.7" font-size="11.6" font-weight="bold" fill="#8d45ad" textLength="24.1" lengthAdjust="spacingAndGlyphs" >post</text>
<text x="394.2" y="758.7" font-size="11.6" font-weight="bold" fill="#8d45ad" textLength="17.7" lengthAdjust="spacingAndGlyphs" >pre</text>
<line x1="362.1" y1="764.3" x2="412.7" y2="764.3" stroke="#231f20" stroke-width="1.3" />
<rect x="350" y="767.5" width="38.6" height="13.5" fill="#e6e7e8" />
<text x="351" y="777.6" font-size="11.6" font-weight="bold" font-style="italic" fill="#8d45ad" ><tspan font-weight="normal" font-style="normal">Δ</tspan>cysE<tspan font-style="normal"> + Cys</tspan></text>
</svg>
</body></html>
